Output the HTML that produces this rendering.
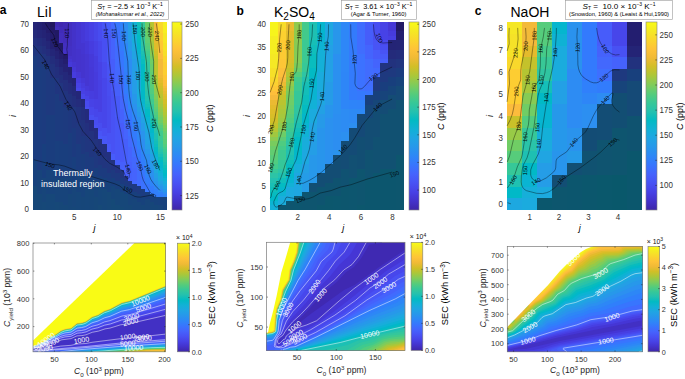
<!DOCTYPE html><html><head><meta charset="utf-8"><style>html,body{margin:0;padding:0;background:#fff;}svg{display:block;} text{font-family:"Liberation Sans",sans-serif;}</style></head><body><svg width="685" height="379" viewBox="0 0 685 379"><rect width="685" height="379" fill="#fff"/><g shape-rendering="crispEdges">
<rect x="33.0" y="22.0" width="4.7" height="8.3" fill="#242476"/>
<rect x="33.0" y="29.9" width="4.7" height="8.3" fill="#242a7a"/>
<rect x="33.0" y="37.9" width="4.7" height="8.3" fill="#23307e"/>
<rect x="33.0" y="45.8" width="4.7" height="11.0" fill="#20367f"/>
<rect x="33.0" y="56.4" width="4.7" height="103.7" fill="#1b3c7f"/>
<rect x="33.0" y="159.7" width="4.7" height="26.9" fill="#17417d"/>
<rect x="33.0" y="186.2" width="4.7" height="24.2" fill="#164779"/>
<rect x="37.3" y="22.0" width="4.7" height="8.3" fill="#232173"/>
<rect x="37.3" y="29.9" width="4.7" height="8.3" fill="#242678"/>
<rect x="37.3" y="37.9" width="4.7" height="8.3" fill="#232d7c"/>
<rect x="37.3" y="45.8" width="4.7" height="8.3" fill="#22337e"/>
<rect x="37.3" y="53.8" width="4.7" height="13.6" fill="#1e397f"/>
<rect x="37.3" y="67.0" width="4.7" height="103.7" fill="#1b3c7f"/>
<rect x="37.3" y="170.3" width="4.7" height="24.2" fill="#17437b"/>
<rect x="37.3" y="194.1" width="4.7" height="16.3" fill="#164778"/>
<rect x="41.6" y="22.0" width="4.7" height="8.3" fill="#231d6e"/>
<rect x="41.6" y="29.9" width="4.7" height="8.3" fill="#242375"/>
<rect x="41.6" y="37.9" width="4.7" height="8.3" fill="#24297a"/>
<rect x="41.6" y="45.8" width="4.7" height="8.3" fill="#232f7d"/>
<rect x="41.6" y="53.8" width="4.7" height="11.0" fill="#21357f"/>
<rect x="41.6" y="64.4" width="4.7" height="79.8" fill="#1c3b7f"/>
<rect x="41.6" y="143.8" width="4.7" height="34.8" fill="#183f7e"/>
<rect x="41.6" y="178.2" width="4.7" height="24.2" fill="#17457a"/>
<rect x="41.6" y="202.1" width="4.7" height="8.3" fill="#164878"/>
<rect x="46.0" y="22.0" width="4.7" height="5.7" fill="#221a67"/>
<rect x="46.0" y="27.3" width="4.7" height="5.7" fill="#231c6c"/>
<rect x="46.0" y="32.6" width="4.7" height="8.3" fill="#232072"/>
<rect x="46.0" y="40.5" width="4.7" height="8.3" fill="#242677"/>
<rect x="46.0" y="48.5" width="4.7" height="8.3" fill="#242c7c"/>
<rect x="46.0" y="56.4" width="4.7" height="11.0" fill="#22337e"/>
<rect x="46.0" y="67.0" width="4.7" height="48.1" fill="#1e397f"/>
<rect x="46.0" y="114.7" width="4.7" height="56.0" fill="#1a3d7e"/>
<rect x="46.0" y="170.3" width="4.7" height="24.2" fill="#17437c"/>
<rect x="46.0" y="194.1" width="4.7" height="16.3" fill="#164779"/>
<rect x="50.3" y="22.0" width="4.7" height="5.7" fill="#21175f"/>
<rect x="50.3" y="27.3" width="4.7" height="5.7" fill="#221965"/>
<rect x="50.3" y="32.6" width="4.7" height="8.3" fill="#231c6c"/>
<rect x="50.3" y="40.5" width="4.7" height="8.3" fill="#232072"/>
<rect x="50.3" y="48.5" width="4.7" height="8.3" fill="#242678"/>
<rect x="50.3" y="56.4" width="4.7" height="8.3" fill="#232d7c"/>
<rect x="50.3" y="64.4" width="4.7" height="13.6" fill="#22327e"/>
<rect x="50.3" y="77.6" width="4.7" height="37.5" fill="#1e397f"/>
<rect x="50.3" y="114.7" width="4.7" height="56.0" fill="#1a3d7e"/>
<rect x="50.3" y="170.3" width="4.7" height="24.2" fill="#17437c"/>
<rect x="50.3" y="194.1" width="4.7" height="16.3" fill="#164779"/>
<rect x="54.6" y="22.0" width="4.7" height="3.0" fill="#3f29b1"/>
<rect x="54.6" y="24.6" width="4.7" height="3.0" fill="#402bb6"/>
<rect x="54.6" y="27.3" width="4.7" height="3.0" fill="#412dbc"/>
<rect x="54.6" y="29.9" width="4.7" height="8.3" fill="#211963"/>
<rect x="54.6" y="37.9" width="4.7" height="8.3" fill="#221a68"/>
<rect x="54.6" y="45.8" width="4.7" height="5.7" fill="#231d6e"/>
<rect x="54.6" y="51.1" width="4.7" height="8.3" fill="#242274"/>
<rect x="54.6" y="59.1" width="4.7" height="8.3" fill="#24297a"/>
<rect x="54.6" y="67.0" width="4.7" height="11.0" fill="#232f7d"/>
<rect x="54.6" y="77.6" width="4.7" height="16.3" fill="#20357f"/>
<rect x="54.6" y="93.5" width="4.7" height="48.1" fill="#1c3b7f"/>
<rect x="54.6" y="141.2" width="4.7" height="37.5" fill="#193f7e"/>
<rect x="54.6" y="178.2" width="4.7" height="24.2" fill="#17447b"/>
<rect x="54.6" y="202.1" width="4.7" height="8.3" fill="#164878"/>
<rect x="58.9" y="22.0" width="4.7" height="5.7" fill="#3f28af"/>
<rect x="58.9" y="27.3" width="4.7" height="5.7" fill="#402bb8"/>
<rect x="58.9" y="32.6" width="4.7" height="11.0" fill="#422ebe"/>
<rect x="58.9" y="43.2" width="4.7" height="5.7" fill="#211964"/>
<rect x="58.9" y="48.5" width="4.7" height="5.7" fill="#221b69"/>
<rect x="58.9" y="53.8" width="4.7" height="5.7" fill="#231e6f"/>
<rect x="58.9" y="59.1" width="4.7" height="8.3" fill="#242375"/>
<rect x="58.9" y="67.0" width="4.7" height="8.3" fill="#24297a"/>
<rect x="58.9" y="75.0" width="4.7" height="8.3" fill="#232f7d"/>
<rect x="58.9" y="82.9" width="4.7" height="18.9" fill="#21357f"/>
<rect x="58.9" y="101.4" width="4.7" height="40.1" fill="#1c3b7f"/>
<rect x="58.9" y="141.2" width="4.7" height="37.5" fill="#193e7e"/>
<rect x="58.9" y="178.2" width="4.7" height="24.2" fill="#17447b"/>
<rect x="58.9" y="202.1" width="4.7" height="8.3" fill="#164778"/>
<rect x="63.3" y="22.0" width="4.7" height="8.3" fill="#402ab5"/>
<rect x="63.3" y="29.9" width="4.7" height="13.6" fill="#412cba"/>
<rect x="63.3" y="43.2" width="4.7" height="5.7" fill="#422fc0"/>
<rect x="63.3" y="48.5" width="4.7" height="5.7" fill="#4331c6"/>
<rect x="63.3" y="53.8" width="4.7" height="5.7" fill="#221a68"/>
<rect x="63.3" y="59.1" width="4.7" height="5.7" fill="#231e6e"/>
<rect x="63.3" y="64.4" width="4.7" height="8.3" fill="#242274"/>
<rect x="63.3" y="72.3" width="4.7" height="8.3" fill="#24287a"/>
<rect x="63.3" y="80.3" width="4.7" height="11.0" fill="#232f7d"/>
<rect x="63.3" y="90.8" width="4.7" height="16.3" fill="#21347f"/>
<rect x="63.3" y="106.7" width="4.7" height="37.5" fill="#1d3a7f"/>
<rect x="63.3" y="143.8" width="4.7" height="34.8" fill="#193e7e"/>
<rect x="63.3" y="178.2" width="4.7" height="26.9" fill="#17447b"/>
<rect x="63.3" y="204.7" width="4.7" height="5.7" fill="#164778"/>
<rect x="67.6" y="22.0" width="4.7" height="24.2" fill="#422fc0"/>
<rect x="67.6" y="45.8" width="4.7" height="11.0" fill="#4230c4"/>
<rect x="67.6" y="56.4" width="4.7" height="3.0" fill="#4432cb"/>
<rect x="67.6" y="59.1" width="4.7" height="3.0" fill="#4435d1"/>
<rect x="67.6" y="61.7" width="4.7" height="5.7" fill="#4539d8"/>
<rect x="67.6" y="67.0" width="4.7" height="8.3" fill="#232072"/>
<rect x="67.6" y="75.0" width="4.7" height="8.3" fill="#242677"/>
<rect x="67.6" y="82.9" width="4.7" height="11.0" fill="#242c7c"/>
<rect x="67.6" y="93.5" width="4.7" height="13.6" fill="#22327e"/>
<rect x="67.6" y="106.7" width="4.7" height="26.9" fill="#1e387f"/>
<rect x="67.6" y="133.2" width="4.7" height="37.5" fill="#1a3d7e"/>
<rect x="67.6" y="170.3" width="4.7" height="24.2" fill="#17427c"/>
<rect x="67.6" y="194.1" width="4.7" height="16.3" fill="#164679"/>
<rect x="71.9" y="22.0" width="4.7" height="40.1" fill="#4332c9"/>
<rect x="71.9" y="61.7" width="4.7" height="5.7" fill="#4435d1"/>
<rect x="71.9" y="67.0" width="4.7" height="5.7" fill="#4538d7"/>
<rect x="71.9" y="72.3" width="4.7" height="5.7" fill="#463cdf"/>
<rect x="71.9" y="77.6" width="4.7" height="8.3" fill="#242375"/>
<rect x="71.9" y="85.5" width="4.7" height="11.0" fill="#24297a"/>
<rect x="71.9" y="96.1" width="4.7" height="11.0" fill="#232f7d"/>
<rect x="71.9" y="106.7" width="4.7" height="21.6" fill="#20367f"/>
<rect x="71.9" y="127.9" width="4.7" height="29.5" fill="#1c3a7f"/>
<rect x="71.9" y="157.0" width="4.7" height="24.2" fill="#183f7e"/>
<rect x="71.9" y="180.9" width="4.7" height="26.9" fill="#17457a"/>
<rect x="71.9" y="207.4" width="4.7" height="3.0" fill="#164778"/>
<rect x="76.2" y="22.0" width="4.7" height="26.9" fill="#4435d0"/>
<rect x="76.2" y="48.5" width="4.7" height="24.2" fill="#4433cc"/>
<rect x="76.2" y="72.3" width="4.7" height="5.7" fill="#4537d6"/>
<rect x="76.2" y="77.6" width="4.7" height="5.7" fill="#463cdf"/>
<rect x="76.2" y="82.9" width="4.7" height="5.7" fill="#4742e6"/>
<rect x="76.2" y="88.2" width="4.7" height="3.0" fill="#4747eb"/>
<rect x="76.2" y="90.8" width="4.7" height="8.3" fill="#242778"/>
<rect x="76.2" y="98.8" width="4.7" height="8.3" fill="#242c7c"/>
<rect x="76.2" y="106.7" width="4.7" height="16.3" fill="#22327e"/>
<rect x="76.2" y="122.6" width="4.7" height="21.6" fill="#20377f"/>
<rect x="76.2" y="143.8" width="4.7" height="26.9" fill="#1b3c7f"/>
<rect x="76.2" y="170.3" width="4.7" height="21.6" fill="#17427c"/>
<rect x="76.2" y="191.5" width="4.7" height="18.9" fill="#16467a"/>
<rect x="80.5" y="22.0" width="4.7" height="21.6" fill="#4538d7"/>
<rect x="80.5" y="43.2" width="4.7" height="11.0" fill="#4435d1"/>
<rect x="80.5" y="53.8" width="4.7" height="24.2" fill="#4434ce"/>
<rect x="80.5" y="77.6" width="4.7" height="5.7" fill="#4538d7"/>
<rect x="80.5" y="82.9" width="4.7" height="5.7" fill="#463cde"/>
<rect x="80.5" y="88.2" width="4.7" height="5.7" fill="#4740e4"/>
<rect x="80.5" y="93.5" width="4.7" height="5.7" fill="#4747eb"/>
<rect x="80.5" y="98.8" width="4.7" height="8.3" fill="#242879"/>
<rect x="80.5" y="106.7" width="4.7" height="13.6" fill="#232e7d"/>
<rect x="80.5" y="120.0" width="4.7" height="16.3" fill="#22337e"/>
<rect x="80.5" y="135.9" width="4.7" height="18.9" fill="#1e387f"/>
<rect x="80.5" y="154.4" width="4.7" height="21.6" fill="#1a3d7e"/>
<rect x="80.5" y="175.6" width="4.7" height="21.6" fill="#17437c"/>
<rect x="80.5" y="196.8" width="4.7" height="13.6" fill="#164679"/>
<rect x="84.9" y="22.0" width="4.7" height="18.9" fill="#463cde"/>
<rect x="84.9" y="40.5" width="4.7" height="13.6" fill="#4538d8"/>
<rect x="84.9" y="53.8" width="4.7" height="32.2" fill="#4536d2"/>
<rect x="84.9" y="85.5" width="4.7" height="5.7" fill="#463adb"/>
<rect x="84.9" y="90.8" width="4.7" height="5.7" fill="#473ee1"/>
<rect x="84.9" y="96.1" width="4.7" height="5.7" fill="#4744e8"/>
<rect x="84.9" y="101.4" width="4.7" height="5.7" fill="#484aed"/>
<rect x="84.9" y="106.7" width="4.7" height="3.0" fill="#484ef1"/>
<rect x="84.9" y="109.4" width="4.7" height="13.6" fill="#242b7b"/>
<rect x="84.9" y="122.6" width="4.7" height="13.6" fill="#23307e"/>
<rect x="84.9" y="135.9" width="4.7" height="16.3" fill="#20367f"/>
<rect x="84.9" y="151.7" width="4.7" height="18.9" fill="#1c3b7f"/>
<rect x="84.9" y="170.3" width="4.7" height="18.9" fill="#18417d"/>
<rect x="84.9" y="188.8" width="4.7" height="21.6" fill="#16467a"/>
<rect x="89.2" y="22.0" width="4.7" height="18.9" fill="#4740e4"/>
<rect x="89.2" y="40.5" width="4.7" height="13.6" fill="#463cdf"/>
<rect x="89.2" y="53.8" width="4.7" height="13.6" fill="#4539d9"/>
<rect x="89.2" y="67.0" width="4.7" height="24.2" fill="#4538d7"/>
<rect x="89.2" y="90.8" width="4.7" height="8.3" fill="#463ddf"/>
<rect x="89.2" y="98.8" width="4.7" height="8.3" fill="#4742e6"/>
<rect x="89.2" y="106.7" width="4.7" height="8.3" fill="#4848ec"/>
<rect x="89.2" y="114.7" width="4.7" height="5.7" fill="#484ff2"/>
<rect x="89.2" y="120.0" width="4.7" height="11.0" fill="#242b7b"/>
<rect x="89.2" y="130.6" width="4.7" height="11.0" fill="#23317e"/>
<rect x="89.2" y="141.2" width="4.7" height="16.3" fill="#20367f"/>
<rect x="89.2" y="157.0" width="4.7" height="16.3" fill="#1c3b7f"/>
<rect x="89.2" y="172.9" width="4.7" height="16.3" fill="#18417d"/>
<rect x="89.2" y="188.8" width="4.7" height="21.6" fill="#164679"/>
<rect x="93.5" y="22.0" width="4.7" height="18.9" fill="#4746ea"/>
<rect x="93.5" y="40.5" width="4.7" height="16.3" fill="#4741e5"/>
<rect x="93.5" y="56.4" width="4.7" height="16.3" fill="#463ddf"/>
<rect x="93.5" y="72.3" width="4.7" height="26.9" fill="#463bdd"/>
<rect x="93.5" y="98.8" width="4.7" height="11.0" fill="#4740e4"/>
<rect x="93.5" y="109.4" width="4.7" height="8.3" fill="#4746ea"/>
<rect x="93.5" y="117.3" width="4.7" height="8.3" fill="#484df0"/>
<rect x="93.5" y="125.3" width="4.7" height="3.0" fill="#4851f4"/>
<rect x="93.5" y="127.9" width="4.7" height="11.0" fill="#232c7c"/>
<rect x="93.5" y="138.5" width="4.7" height="13.6" fill="#22337e"/>
<rect x="93.5" y="151.7" width="4.7" height="16.3" fill="#1f387f"/>
<rect x="93.5" y="167.6" width="4.7" height="13.6" fill="#193e7e"/>
<rect x="93.5" y="180.9" width="4.7" height="16.3" fill="#17447b"/>
<rect x="93.5" y="196.8" width="4.7" height="13.6" fill="#164778"/>
<rect x="97.8" y="22.0" width="4.7" height="18.9" fill="#484cf0"/>
<rect x="97.8" y="40.5" width="4.7" height="21.6" fill="#4747eb"/>
<rect x="97.8" y="61.7" width="4.7" height="18.9" fill="#4742e6"/>
<rect x="97.8" y="80.3" width="4.7" height="32.2" fill="#4740e3"/>
<rect x="97.8" y="112.0" width="4.7" height="11.0" fill="#4747eb"/>
<rect x="97.8" y="122.6" width="4.7" height="8.3" fill="#484df0"/>
<rect x="97.8" y="130.6" width="4.7" height="5.7" fill="#4854f5"/>
<rect x="97.8" y="135.9" width="4.7" height="3.0" fill="#4758f8"/>
<rect x="97.8" y="138.5" width="4.7" height="13.6" fill="#23307e"/>
<rect x="97.8" y="151.7" width="4.7" height="13.6" fill="#21357f"/>
<rect x="97.8" y="165.0" width="4.7" height="11.0" fill="#1c3b7f"/>
<rect x="97.8" y="175.6" width="4.7" height="11.0" fill="#18407d"/>
<rect x="97.8" y="186.2" width="4.7" height="18.9" fill="#16467a"/>
<rect x="97.8" y="204.7" width="4.7" height="5.7" fill="#164977"/>
<rect x="102.2" y="22.0" width="4.7" height="16.3" fill="#4854f5"/>
<rect x="102.2" y="37.9" width="4.7" height="24.2" fill="#484ff2"/>
<rect x="102.2" y="61.7" width="4.7" height="16.3" fill="#484aee"/>
<rect x="102.2" y="77.6" width="4.7" height="50.7" fill="#4746ea"/>
<rect x="102.2" y="127.9" width="4.7" height="8.3" fill="#484ff2"/>
<rect x="102.2" y="135.9" width="4.7" height="8.3" fill="#4756f7"/>
<rect x="102.2" y="143.8" width="4.7" height="13.6" fill="#23307e"/>
<rect x="102.2" y="157.0" width="4.7" height="11.0" fill="#21357f"/>
<rect x="102.2" y="167.6" width="4.7" height="11.0" fill="#1c3b7f"/>
<rect x="102.2" y="178.2" width="4.7" height="11.0" fill="#17417d"/>
<rect x="102.2" y="188.8" width="4.7" height="21.6" fill="#164779"/>
<rect x="106.5" y="22.0" width="4.7" height="13.6" fill="#465dfa"/>
<rect x="106.5" y="35.2" width="4.7" height="29.5" fill="#4758f8"/>
<rect x="106.5" y="64.4" width="4.7" height="16.3" fill="#4853f4"/>
<rect x="106.5" y="80.3" width="4.7" height="16.3" fill="#484df0"/>
<rect x="106.5" y="96.1" width="4.7" height="37.5" fill="#484bee"/>
<rect x="106.5" y="133.2" width="4.7" height="11.0" fill="#4852f4"/>
<rect x="106.5" y="143.8" width="4.7" height="8.3" fill="#4758f8"/>
<rect x="106.5" y="151.7" width="4.7" height="11.0" fill="#23307e"/>
<rect x="106.5" y="162.3" width="4.7" height="11.0" fill="#20367f"/>
<rect x="106.5" y="172.9" width="4.7" height="8.3" fill="#1b3c7f"/>
<rect x="106.5" y="180.9" width="4.7" height="11.0" fill="#17427c"/>
<rect x="106.5" y="191.5" width="4.7" height="18.9" fill="#164878"/>
<rect x="110.8" y="22.0" width="4.7" height="11.0" fill="#4269fe"/>
<rect x="110.8" y="32.6" width="4.7" height="26.9" fill="#4563fc"/>
<rect x="110.8" y="59.1" width="4.7" height="18.9" fill="#465efb"/>
<rect x="110.8" y="77.6" width="4.7" height="13.6" fill="#4757f7"/>
<rect x="110.8" y="90.8" width="4.7" height="63.9" fill="#4852f4"/>
<rect x="110.8" y="154.4" width="4.7" height="5.7" fill="#475cfa"/>
<rect x="110.8" y="159.7" width="4.7" height="11.0" fill="#22327e"/>
<rect x="110.8" y="170.3" width="4.7" height="8.3" fill="#1e397f"/>
<rect x="110.8" y="178.2" width="4.7" height="8.3" fill="#183f7e"/>
<rect x="110.8" y="186.2" width="4.7" height="13.6" fill="#16457a"/>
<rect x="110.8" y="199.4" width="4.7" height="11.0" fill="#154977"/>
<rect x="115.1" y="22.0" width="4.7" height="8.3" fill="#3876fe"/>
<rect x="115.1" y="29.9" width="4.7" height="16.3" fill="#3d70ff"/>
<rect x="115.1" y="45.8" width="4.7" height="24.2" fill="#416bfe"/>
<rect x="115.1" y="69.7" width="4.7" height="13.6" fill="#4466fd"/>
<rect x="115.1" y="82.9" width="4.7" height="13.6" fill="#4660fb"/>
<rect x="115.1" y="96.1" width="4.7" height="21.6" fill="#475af9"/>
<rect x="115.1" y="117.3" width="4.7" height="42.8" fill="#4756f7"/>
<rect x="115.1" y="159.7" width="4.7" height="5.7" fill="#465efb"/>
<rect x="115.1" y="165.0" width="4.7" height="8.3" fill="#22337f"/>
<rect x="115.1" y="172.9" width="4.7" height="8.3" fill="#1e397f"/>
<rect x="115.1" y="180.9" width="4.7" height="8.3" fill="#18407d"/>
<rect x="115.1" y="188.8" width="4.7" height="16.3" fill="#164679"/>
<rect x="115.1" y="204.7" width="4.7" height="5.7" fill="#154977"/>
<rect x="119.5" y="22.0" width="4.7" height="13.6" fill="#2f81fa"/>
<rect x="119.5" y="35.2" width="4.7" height="16.3" fill="#327cfc"/>
<rect x="119.5" y="51.1" width="4.7" height="16.3" fill="#3677fe"/>
<rect x="119.5" y="67.0" width="4.7" height="16.3" fill="#3c72ff"/>
<rect x="119.5" y="82.9" width="4.7" height="13.6" fill="#406cfe"/>
<rect x="119.5" y="96.1" width="4.7" height="13.6" fill="#4367fd"/>
<rect x="119.5" y="109.4" width="4.7" height="13.6" fill="#4562fc"/>
<rect x="119.5" y="122.6" width="4.7" height="16.3" fill="#475cfa"/>
<rect x="119.5" y="138.5" width="4.7" height="24.2" fill="#4759f8"/>
<rect x="119.5" y="162.3" width="4.7" height="5.7" fill="#465ffb"/>
<rect x="119.5" y="167.6" width="4.7" height="3.0" fill="#4563fd"/>
<rect x="119.5" y="170.3" width="4.7" height="8.3" fill="#21357f"/>
<rect x="119.5" y="178.2" width="4.7" height="5.7" fill="#1c3a7f"/>
<rect x="119.5" y="183.5" width="4.7" height="8.3" fill="#18417d"/>
<rect x="119.5" y="191.5" width="4.7" height="16.3" fill="#164779"/>
<rect x="119.5" y="207.4" width="4.7" height="3.0" fill="#154977"/>
<rect x="123.8" y="22.0" width="4.7" height="21.6" fill="#2c8ef1"/>
<rect x="123.8" y="43.2" width="4.7" height="13.6" fill="#2d88f6"/>
<rect x="123.8" y="56.4" width="4.7" height="16.3" fill="#2f82f9"/>
<rect x="123.8" y="72.3" width="4.7" height="21.6" fill="#317dfc"/>
<rect x="123.8" y="93.5" width="4.7" height="11.0" fill="#3777fe"/>
<rect x="123.8" y="104.1" width="4.7" height="11.0" fill="#3d71ff"/>
<rect x="123.8" y="114.7" width="4.7" height="11.0" fill="#416bfe"/>
<rect x="123.8" y="125.3" width="4.7" height="13.6" fill="#4564fd"/>
<rect x="123.8" y="138.5" width="4.7" height="37.5" fill="#465ffb"/>
<rect x="123.8" y="175.6" width="4.7" height="5.7" fill="#21357f"/>
<rect x="123.8" y="180.9" width="4.7" height="5.7" fill="#1c3a7f"/>
<rect x="123.8" y="186.2" width="4.7" height="8.3" fill="#18417d"/>
<rect x="123.8" y="194.1" width="4.7" height="16.3" fill="#164779"/>
<rect x="128.1" y="22.0" width="4.7" height="18.9" fill="#249ee6"/>
<rect x="128.1" y="40.5" width="4.7" height="11.0" fill="#2699e9"/>
<rect x="128.1" y="51.1" width="4.7" height="8.3" fill="#2a93ed"/>
<rect x="128.1" y="59.1" width="4.7" height="32.2" fill="#2c8ef2"/>
<rect x="128.1" y="90.8" width="4.7" height="11.0" fill="#2d88f6"/>
<rect x="128.1" y="101.4" width="4.7" height="8.3" fill="#2f83f9"/>
<rect x="128.1" y="109.4" width="4.7" height="8.3" fill="#327cfc"/>
<rect x="128.1" y="117.3" width="4.7" height="8.3" fill="#3876fe"/>
<rect x="128.1" y="125.3" width="4.7" height="11.0" fill="#3e6fff"/>
<rect x="128.1" y="135.9" width="4.7" height="11.0" fill="#426afe"/>
<rect x="128.1" y="146.5" width="4.7" height="16.3" fill="#4564fd"/>
<rect x="128.1" y="162.3" width="4.7" height="18.9" fill="#4561fc"/>
<rect x="128.1" y="180.9" width="4.7" height="5.7" fill="#20377f"/>
<rect x="128.1" y="186.2" width="4.7" height="8.3" fill="#193e7e"/>
<rect x="128.1" y="194.1" width="4.7" height="11.0" fill="#17447b"/>
<rect x="128.1" y="204.7" width="4.7" height="5.7" fill="#164778"/>
<rect x="132.4" y="22.0" width="4.7" height="8.3" fill="#12b1d6"/>
<rect x="132.4" y="29.9" width="4.7" height="13.6" fill="#17aedb"/>
<rect x="132.4" y="43.2" width="4.7" height="8.3" fill="#1da9e0"/>
<rect x="132.4" y="51.1" width="4.7" height="8.3" fill="#21a3e3"/>
<rect x="132.4" y="59.1" width="4.7" height="34.8" fill="#259de7"/>
<rect x="132.4" y="93.5" width="4.7" height="11.0" fill="#2797ea"/>
<rect x="132.4" y="104.1" width="4.7" height="5.7" fill="#2b91ef"/>
<rect x="132.4" y="109.4" width="4.7" height="5.7" fill="#2d8cf3"/>
<rect x="132.4" y="114.7" width="4.7" height="5.7" fill="#2e86f7"/>
<rect x="132.4" y="120.0" width="4.7" height="8.3" fill="#3080fa"/>
<rect x="132.4" y="127.9" width="4.7" height="11.0" fill="#337bfc"/>
<rect x="132.4" y="138.5" width="4.7" height="8.3" fill="#3975fe"/>
<rect x="132.4" y="146.5" width="4.7" height="11.0" fill="#3f6efe"/>
<rect x="132.4" y="157.0" width="4.7" height="11.0" fill="#4368fd"/>
<rect x="132.4" y="167.6" width="4.7" height="13.6" fill="#4564fd"/>
<rect x="132.4" y="180.9" width="4.7" height="3.0" fill="#4269fe"/>
<rect x="132.4" y="183.5" width="4.7" height="8.3" fill="#1e397f"/>
<rect x="132.4" y="191.5" width="4.7" height="8.3" fill="#18407d"/>
<rect x="132.4" y="199.4" width="4.7" height="11.0" fill="#17457a"/>
<rect x="136.7" y="22.0" width="4.7" height="5.7" fill="#11beba"/>
<rect x="136.7" y="27.3" width="4.7" height="8.3" fill="#09bcbe"/>
<rect x="136.7" y="35.2" width="4.7" height="8.3" fill="#03bbc3"/>
<rect x="136.7" y="43.2" width="4.7" height="5.7" fill="#01b8c9"/>
<rect x="136.7" y="48.5" width="4.7" height="5.7" fill="#06b5ce"/>
<rect x="136.7" y="53.8" width="4.7" height="5.7" fill="#0eb2d4"/>
<rect x="136.7" y="59.1" width="4.7" height="8.3" fill="#15afd9"/>
<rect x="136.7" y="67.0" width="4.7" height="32.2" fill="#1aacdd"/>
<rect x="136.7" y="98.8" width="4.7" height="8.3" fill="#20a5e2"/>
<rect x="136.7" y="106.7" width="4.7" height="5.7" fill="#249ee6"/>
<rect x="136.7" y="112.0" width="4.7" height="5.7" fill="#2798ea"/>
<rect x="136.7" y="117.3" width="4.7" height="5.7" fill="#2b91ef"/>
<rect x="136.7" y="122.6" width="4.7" height="8.3" fill="#2d8cf3"/>
<rect x="136.7" y="130.6" width="4.7" height="11.0" fill="#2e86f7"/>
<rect x="136.7" y="141.2" width="4.7" height="8.3" fill="#3080fb"/>
<rect x="136.7" y="149.1" width="4.7" height="8.3" fill="#347afd"/>
<rect x="136.7" y="157.0" width="4.7" height="5.7" fill="#3974fe"/>
<rect x="136.7" y="162.3" width="4.7" height="8.3" fill="#3f6efe"/>
<rect x="136.7" y="170.3" width="4.7" height="16.3" fill="#416cfe"/>
<rect x="136.7" y="186.2" width="4.7" height="8.3" fill="#1d3a7f"/>
<rect x="136.7" y="194.1" width="4.7" height="8.3" fill="#18407d"/>
<rect x="136.7" y="202.1" width="4.7" height="8.3" fill="#17457a"/>
<rect x="141.1" y="22.0" width="4.7" height="11.0" fill="#35c79a"/>
<rect x="141.1" y="32.6" width="4.7" height="8.3" fill="#31c6a0"/>
<rect x="141.1" y="40.5" width="4.7" height="5.7" fill="#2dc4a6"/>
<rect x="141.1" y="45.8" width="4.7" height="5.7" fill="#26c2ac"/>
<rect x="141.1" y="51.1" width="4.7" height="3.0" fill="#1ec0b2"/>
<rect x="141.1" y="53.8" width="4.7" height="3.0" fill="#19bfb5"/>
<rect x="141.1" y="56.4" width="4.7" height="3.0" fill="#12beb9"/>
<rect x="141.1" y="59.1" width="4.7" height="5.7" fill="#0abdbd"/>
<rect x="141.1" y="64.4" width="4.7" height="26.9" fill="#02bac4"/>
<rect x="141.1" y="90.8" width="4.7" height="8.3" fill="#01b8c8"/>
<rect x="141.1" y="98.8" width="4.7" height="5.7" fill="#06b5cf"/>
<rect x="141.1" y="104.1" width="4.7" height="3.0" fill="#0db3d4"/>
<rect x="141.1" y="106.7" width="4.7" height="5.7" fill="#15afd9"/>
<rect x="141.1" y="112.0" width="4.7" height="5.7" fill="#1da9e0"/>
<rect x="141.1" y="117.3" width="4.7" height="5.7" fill="#22a2e4"/>
<rect x="141.1" y="122.6" width="4.7" height="8.3" fill="#259be8"/>
<rect x="141.1" y="130.6" width="4.7" height="8.3" fill="#2994ed"/>
<rect x="141.1" y="138.5" width="4.7" height="11.0" fill="#2c8ef1"/>
<rect x="141.1" y="149.1" width="4.7" height="5.7" fill="#2d88f6"/>
<rect x="141.1" y="154.4" width="4.7" height="5.7" fill="#2e83f9"/>
<rect x="141.1" y="159.7" width="4.7" height="5.7" fill="#317dfb"/>
<rect x="141.1" y="165.0" width="4.7" height="11.0" fill="#3677fe"/>
<rect x="141.1" y="175.6" width="4.7" height="13.6" fill="#3b72ff"/>
<rect x="141.1" y="188.8" width="4.7" height="8.3" fill="#1c3b7f"/>
<rect x="141.1" y="196.8" width="4.7" height="8.3" fill="#17427c"/>
<rect x="141.1" y="204.7" width="4.7" height="5.7" fill="#164679"/>
<rect x="145.4" y="22.0" width="4.7" height="11.0" fill="#6bcd69"/>
<rect x="145.4" y="32.6" width="4.7" height="5.7" fill="#66cd6e"/>
<rect x="145.4" y="37.9" width="4.7" height="5.7" fill="#5ecd74"/>
<rect x="145.4" y="43.2" width="4.7" height="3.0" fill="#56cc7a"/>
<rect x="145.4" y="45.8" width="4.7" height="3.0" fill="#50cc7f"/>
<rect x="145.4" y="48.5" width="4.7" height="3.0" fill="#4acb85"/>
<rect x="145.4" y="51.1" width="4.7" height="3.0" fill="#43ca8a"/>
<rect x="145.4" y="53.8" width="4.7" height="3.0" fill="#3eca90"/>
<rect x="145.4" y="56.4" width="4.7" height="5.7" fill="#38c897"/>
<rect x="145.4" y="61.7" width="4.7" height="8.3" fill="#32c69f"/>
<rect x="145.4" y="69.7" width="4.7" height="21.6" fill="#2ec4a4"/>
<rect x="145.4" y="90.8" width="4.7" height="5.7" fill="#29c3a9"/>
<rect x="145.4" y="96.1" width="4.7" height="5.7" fill="#23c1af"/>
<rect x="145.4" y="101.4" width="4.7" height="3.0" fill="#1bc0b4"/>
<rect x="145.4" y="104.1" width="4.7" height="3.0" fill="#14beb8"/>
<rect x="145.4" y="106.7" width="4.7" height="3.0" fill="#0bbdbd"/>
<rect x="145.4" y="109.4" width="4.7" height="5.7" fill="#03bac4"/>
<rect x="145.4" y="114.7" width="4.7" height="3.0" fill="#02b7cb"/>
<rect x="145.4" y="117.3" width="4.7" height="3.0" fill="#08b5d0"/>
<rect x="145.4" y="120.0" width="4.7" height="3.0" fill="#0fb2d5"/>
<rect x="145.4" y="122.6" width="4.7" height="5.7" fill="#17aeda"/>
<rect x="145.4" y="127.9" width="4.7" height="5.7" fill="#1da8e0"/>
<rect x="145.4" y="133.2" width="4.7" height="11.0" fill="#22a2e4"/>
<rect x="145.4" y="143.8" width="4.7" height="5.7" fill="#259de7"/>
<rect x="145.4" y="149.1" width="4.7" height="5.7" fill="#2797eb"/>
<rect x="145.4" y="154.4" width="4.7" height="5.7" fill="#2c8ff0"/>
<rect x="145.4" y="159.7" width="4.7" height="11.0" fill="#2d88f6"/>
<rect x="145.4" y="170.3" width="4.7" height="8.3" fill="#2f82f9"/>
<rect x="145.4" y="178.2" width="4.7" height="5.7" fill="#327dfc"/>
<rect x="145.4" y="183.5" width="4.7" height="8.3" fill="#3776fe"/>
<rect x="145.4" y="191.5" width="4.7" height="8.3" fill="#193e7e"/>
<rect x="145.4" y="199.4" width="4.7" height="11.0" fill="#17457a"/>
<rect x="149.7" y="22.0" width="4.7" height="13.6" fill="#b6c533"/>
<rect x="149.7" y="35.2" width="4.7" height="5.7" fill="#adc638"/>
<rect x="149.7" y="40.5" width="4.7" height="3.0" fill="#a6c73c"/>
<rect x="149.7" y="43.2" width="4.7" height="3.0" fill="#a1c840"/>
<rect x="149.7" y="45.8" width="4.7" height="3.0" fill="#9ac945"/>
<rect x="149.7" y="48.5" width="4.7" height="3.0" fill="#92ca4b"/>
<rect x="149.7" y="51.1" width="4.7" height="3.0" fill="#8acb52"/>
<rect x="149.7" y="53.8" width="4.7" height="3.0" fill="#81cc59"/>
<rect x="149.7" y="56.4" width="4.7" height="3.0" fill="#78cc5f"/>
<rect x="149.7" y="59.1" width="4.7" height="5.7" fill="#6ecd66"/>
<rect x="149.7" y="64.4" width="4.7" height="8.3" fill="#67cd6c"/>
<rect x="149.7" y="72.3" width="4.7" height="11.0" fill="#60cd72"/>
<rect x="149.7" y="82.9" width="4.7" height="5.7" fill="#59cc78"/>
<rect x="149.7" y="88.2" width="4.7" height="5.7" fill="#51cc7f"/>
<rect x="149.7" y="93.5" width="4.7" height="5.7" fill="#47cb87"/>
<rect x="149.7" y="98.8" width="4.7" height="5.7" fill="#3eca90"/>
<rect x="149.7" y="104.1" width="4.7" height="5.7" fill="#35c79a"/>
<rect x="149.7" y="109.4" width="4.7" height="3.0" fill="#30c5a1"/>
<rect x="149.7" y="112.0" width="4.7" height="3.0" fill="#2cc4a6"/>
<rect x="149.7" y="114.7" width="4.7" height="3.0" fill="#27c2ac"/>
<rect x="149.7" y="117.3" width="4.7" height="3.0" fill="#20c1b1"/>
<rect x="149.7" y="120.0" width="4.7" height="3.0" fill="#17bfb6"/>
<rect x="149.7" y="122.6" width="4.7" height="3.0" fill="#0cbdbc"/>
<rect x="149.7" y="125.3" width="4.7" height="3.0" fill="#04bbc1"/>
<rect x="149.7" y="127.9" width="4.7" height="5.7" fill="#02b8c9"/>
<rect x="149.7" y="133.2" width="4.7" height="5.7" fill="#08b5d0"/>
<rect x="149.7" y="138.5" width="4.7" height="5.7" fill="#0fb2d5"/>
<rect x="149.7" y="143.8" width="4.7" height="5.7" fill="#16afda"/>
<rect x="149.7" y="149.1" width="4.7" height="5.7" fill="#1da8e0"/>
<rect x="149.7" y="154.4" width="4.7" height="5.7" fill="#23a0e5"/>
<rect x="149.7" y="159.7" width="4.7" height="11.0" fill="#2798ea"/>
<rect x="149.7" y="170.3" width="4.7" height="5.7" fill="#2a92ee"/>
<rect x="149.7" y="175.6" width="4.7" height="5.7" fill="#2d8df2"/>
<rect x="149.7" y="180.9" width="4.7" height="5.7" fill="#2e85f8"/>
<rect x="149.7" y="186.2" width="4.7" height="8.3" fill="#327cfc"/>
<rect x="149.7" y="194.1" width="4.7" height="8.3" fill="#18417d"/>
<rect x="149.7" y="202.1" width="4.7" height="8.3" fill="#164679"/>
<rect x="154.0" y="22.0" width="4.7" height="11.0" fill="#f4ba3a"/>
<rect x="154.0" y="32.6" width="4.7" height="5.7" fill="#edba34"/>
<rect x="154.0" y="37.9" width="4.7" height="5.7" fill="#e7bb2e"/>
<rect x="154.0" y="43.2" width="4.7" height="5.7" fill="#e0bc2a"/>
<rect x="154.0" y="48.5" width="4.7" height="3.0" fill="#d8be28"/>
<rect x="154.0" y="51.1" width="4.7" height="3.0" fill="#d2bf27"/>
<rect x="154.0" y="53.8" width="4.7" height="3.0" fill="#cbc129"/>
<rect x="154.0" y="56.4" width="4.7" height="3.0" fill="#c3c22b"/>
<rect x="154.0" y="59.1" width="4.7" height="16.3" fill="#bbc430"/>
<rect x="154.0" y="75.0" width="4.7" height="3.0" fill="#b7c532"/>
<rect x="154.0" y="77.6" width="4.7" height="3.0" fill="#b0c636"/>
<rect x="154.0" y="80.3" width="4.7" height="3.0" fill="#a9c73a"/>
<rect x="154.0" y="82.9" width="4.7" height="3.0" fill="#a1c840"/>
<rect x="154.0" y="85.5" width="4.7" height="3.0" fill="#9ac945"/>
<rect x="154.0" y="88.2" width="4.7" height="3.0" fill="#92ca4b"/>
<rect x="154.0" y="90.8" width="4.7" height="3.0" fill="#8bcb51"/>
<rect x="154.0" y="93.5" width="4.7" height="3.0" fill="#84cb56"/>
<rect x="154.0" y="96.1" width="4.7" height="3.0" fill="#7dcc5b"/>
<rect x="154.0" y="98.8" width="4.7" height="3.0" fill="#76cc60"/>
<rect x="154.0" y="101.4" width="4.7" height="3.0" fill="#6fcd66"/>
<rect x="154.0" y="104.1" width="4.7" height="3.0" fill="#68cd6c"/>
<rect x="154.0" y="106.7" width="4.7" height="3.0" fill="#60cd72"/>
<rect x="154.0" y="109.4" width="4.7" height="3.0" fill="#59cc79"/>
<rect x="154.0" y="112.0" width="4.7" height="3.0" fill="#51cc7f"/>
<rect x="154.0" y="114.7" width="4.7" height="3.0" fill="#49cb85"/>
<rect x="154.0" y="117.3" width="4.7" height="3.0" fill="#42ca8b"/>
<rect x="154.0" y="120.0" width="4.7" height="3.0" fill="#3bc992"/>
<rect x="154.0" y="122.6" width="4.7" height="3.0" fill="#35c79a"/>
<rect x="154.0" y="125.3" width="4.7" height="3.0" fill="#30c5a1"/>
<rect x="154.0" y="127.9" width="4.7" height="3.0" fill="#2bc3a7"/>
<rect x="154.0" y="130.6" width="4.7" height="3.0" fill="#26c2ad"/>
<rect x="154.0" y="133.2" width="4.7" height="5.7" fill="#1ec0b2"/>
<rect x="154.0" y="138.5" width="4.7" height="3.0" fill="#17bfb6"/>
<rect x="154.0" y="141.2" width="4.7" height="3.0" fill="#12beb9"/>
<rect x="154.0" y="143.8" width="4.7" height="3.0" fill="#0bbdbd"/>
<rect x="154.0" y="146.5" width="4.7" height="5.7" fill="#03bac4"/>
<rect x="154.0" y="151.7" width="4.7" height="3.0" fill="#02b7cb"/>
<rect x="154.0" y="154.4" width="4.7" height="3.0" fill="#09b4d1"/>
<rect x="154.0" y="157.0" width="4.7" height="3.0" fill="#12b1d7"/>
<rect x="154.0" y="159.7" width="4.7" height="5.7" fill="#1aacdd"/>
<rect x="154.0" y="165.0" width="4.7" height="8.3" fill="#1fa6e2"/>
<rect x="154.0" y="172.9" width="4.7" height="5.7" fill="#239fe5"/>
<rect x="154.0" y="178.2" width="4.7" height="3.0" fill="#2699e9"/>
<rect x="154.0" y="180.9" width="4.7" height="3.0" fill="#2994ed"/>
<rect x="154.0" y="183.5" width="4.7" height="3.0" fill="#2c8ef1"/>
<rect x="154.0" y="186.2" width="4.7" height="3.0" fill="#2d88f6"/>
<rect x="154.0" y="188.8" width="4.7" height="5.7" fill="#3080fa"/>
<rect x="154.0" y="194.1" width="4.7" height="3.0" fill="#317dfc"/>
<rect x="154.0" y="196.8" width="4.7" height="8.3" fill="#17427c"/>
<rect x="154.0" y="204.7" width="4.7" height="5.7" fill="#164679"/>
<rect x="158.4" y="22.0" width="4.7" height="5.7" fill="#f8d82c"/>
<rect x="158.4" y="27.3" width="4.7" height="5.7" fill="#fbd32e"/>
<rect x="158.4" y="32.6" width="4.7" height="8.3" fill="#fdcd31"/>
<rect x="158.4" y="40.5" width="4.7" height="8.3" fill="#fec735"/>
<rect x="158.4" y="48.5" width="4.7" height="5.7" fill="#fec239"/>
<rect x="158.4" y="53.8" width="4.7" height="5.7" fill="#fcbc3d"/>
<rect x="158.4" y="59.1" width="4.7" height="16.3" fill="#f4ba39"/>
<rect x="158.4" y="75.0" width="4.7" height="3.0" fill="#f0ba36"/>
<rect x="158.4" y="77.6" width="4.7" height="3.0" fill="#e9bb30"/>
<rect x="158.4" y="80.3" width="4.7" height="3.0" fill="#e2bc2b"/>
<rect x="158.4" y="82.9" width="4.7" height="3.0" fill="#dabd28"/>
<rect x="158.4" y="85.5" width="4.7" height="3.0" fill="#d2bf27"/>
<rect x="158.4" y="88.2" width="4.7" height="3.0" fill="#cac129"/>
<rect x="158.4" y="90.8" width="4.7" height="3.0" fill="#c3c22b"/>
<rect x="158.4" y="93.5" width="4.7" height="3.0" fill="#bbc42f"/>
<rect x="158.4" y="96.1" width="4.7" height="3.0" fill="#b5c533"/>
<rect x="158.4" y="98.8" width="4.7" height="3.0" fill="#afc637"/>
<rect x="158.4" y="101.4" width="4.7" height="3.0" fill="#a8c73b"/>
<rect x="158.4" y="104.1" width="4.7" height="3.0" fill="#a1c840"/>
<rect x="158.4" y="106.7" width="4.7" height="3.0" fill="#98c947"/>
<rect x="158.4" y="109.4" width="4.7" height="3.0" fill="#90ca4d"/>
<rect x="158.4" y="112.0" width="4.7" height="3.0" fill="#88cb53"/>
<rect x="158.4" y="114.7" width="4.7" height="3.0" fill="#7fcc5a"/>
<rect x="158.4" y="117.3" width="4.7" height="3.0" fill="#76cc61"/>
<rect x="158.4" y="120.0" width="4.7" height="3.0" fill="#6bcd69"/>
<rect x="158.4" y="122.6" width="4.7" height="3.0" fill="#5fcd73"/>
<rect x="158.4" y="125.3" width="4.7" height="3.0" fill="#53cc7d"/>
<rect x="158.4" y="127.9" width="4.7" height="3.0" fill="#49cb85"/>
<rect x="158.4" y="130.6" width="4.7" height="5.7" fill="#40ca8e"/>
<rect x="158.4" y="135.9" width="4.7" height="5.7" fill="#39c995"/>
<rect x="158.4" y="141.2" width="4.7" height="5.7" fill="#34c79c"/>
<rect x="158.4" y="146.5" width="4.7" height="3.0" fill="#2ec5a4"/>
<rect x="158.4" y="149.1" width="4.7" height="3.0" fill="#29c3aa"/>
<rect x="158.4" y="151.7" width="4.7" height="3.0" fill="#22c1b0"/>
<rect x="158.4" y="154.4" width="4.7" height="3.0" fill="#18bfb6"/>
<rect x="158.4" y="157.0" width="4.7" height="3.0" fill="#0bbdbc"/>
<rect x="158.4" y="159.7" width="4.7" height="3.0" fill="#02bbc3"/>
<rect x="158.4" y="162.3" width="4.7" height="5.7" fill="#03b7cb"/>
<rect x="158.4" y="167.6" width="4.7" height="3.0" fill="#09b4d1"/>
<rect x="158.4" y="170.3" width="4.7" height="3.0" fill="#0fb2d5"/>
<rect x="158.4" y="172.9" width="4.7" height="3.0" fill="#15afd9"/>
<rect x="158.4" y="175.6" width="4.7" height="5.7" fill="#1ca9df"/>
<rect x="158.4" y="180.9" width="4.7" height="3.0" fill="#23a1e4"/>
<rect x="158.4" y="183.5" width="4.7" height="3.0" fill="#259be8"/>
<rect x="158.4" y="186.2" width="4.7" height="3.0" fill="#2994ed"/>
<rect x="158.4" y="188.8" width="4.7" height="3.0" fill="#2d8cf3"/>
<rect x="158.4" y="191.5" width="4.7" height="3.0" fill="#2e83f9"/>
<rect x="158.4" y="194.1" width="4.7" height="3.0" fill="#317efb"/>
<rect x="158.4" y="196.8" width="4.7" height="8.3" fill="#18417d"/>
<rect x="158.4" y="204.7" width="4.7" height="5.7" fill="#17457a"/>
<rect x="162.7" y="22.0" width="4.7" height="11.0" fill="#f6ef20"/>
<rect x="162.7" y="32.6" width="4.7" height="11.0" fill="#f5e825"/>
<rect x="162.7" y="43.2" width="4.7" height="8.3" fill="#f5e327"/>
<rect x="162.7" y="51.1" width="4.7" height="5.7" fill="#f6de29"/>
<rect x="162.7" y="56.4" width="4.7" height="5.7" fill="#fad52d"/>
<rect x="162.7" y="61.7" width="4.7" height="13.6" fill="#fcce31"/>
<rect x="162.7" y="75.0" width="4.7" height="5.7" fill="#fec735"/>
<rect x="162.7" y="80.3" width="4.7" height="5.7" fill="#fdbe3b"/>
<rect x="162.7" y="85.5" width="4.7" height="3.0" fill="#f7ba3c"/>
<rect x="162.7" y="88.2" width="4.7" height="3.0" fill="#f0ba36"/>
<rect x="162.7" y="90.8" width="4.7" height="3.0" fill="#e9bb30"/>
<rect x="162.7" y="93.5" width="4.7" height="3.0" fill="#e2bc2b"/>
<rect x="162.7" y="96.1" width="4.7" height="3.0" fill="#ddbd29"/>
<rect x="162.7" y="98.8" width="4.7" height="5.7" fill="#d5be28"/>
<rect x="162.7" y="104.1" width="4.7" height="3.0" fill="#ccc028"/>
<rect x="162.7" y="106.7" width="4.7" height="3.0" fill="#c4c22a"/>
<rect x="162.7" y="109.4" width="4.7" height="3.0" fill="#bdc32f"/>
<rect x="162.7" y="112.0" width="4.7" height="3.0" fill="#b5c533"/>
<rect x="162.7" y="114.7" width="4.7" height="3.0" fill="#acc738"/>
<rect x="162.7" y="117.3" width="4.7" height="3.0" fill="#a3c83f"/>
<rect x="162.7" y="120.0" width="4.7" height="3.0" fill="#98c947"/>
<rect x="162.7" y="122.6" width="4.7" height="3.0" fill="#8ccb50"/>
<rect x="162.7" y="125.3" width="4.7" height="3.0" fill="#80cc59"/>
<rect x="162.7" y="127.9" width="4.7" height="3.0" fill="#74cc62"/>
<rect x="162.7" y="130.6" width="4.7" height="3.0" fill="#6acd6a"/>
<rect x="162.7" y="133.2" width="4.7" height="5.7" fill="#61cd72"/>
<rect x="162.7" y="138.5" width="4.7" height="5.7" fill="#5acc77"/>
<rect x="162.7" y="143.8" width="4.7" height="3.0" fill="#50cc80"/>
<rect x="162.7" y="146.5" width="4.7" height="3.0" fill="#46cb88"/>
<rect x="162.7" y="149.1" width="4.7" height="3.0" fill="#3dca90"/>
<rect x="162.7" y="151.7" width="4.7" height="3.0" fill="#37c898"/>
<rect x="162.7" y="154.4" width="4.7" height="3.0" fill="#32c69f"/>
<rect x="162.7" y="157.0" width="4.7" height="3.0" fill="#2dc4a6"/>
<rect x="162.7" y="159.7" width="4.7" height="3.0" fill="#26c2ad"/>
<rect x="162.7" y="162.3" width="4.7" height="3.0" fill="#1dc0b3"/>
<rect x="162.7" y="165.0" width="4.7" height="3.0" fill="#13beb8"/>
<rect x="162.7" y="167.6" width="4.7" height="3.0" fill="#0abdbd"/>
<rect x="162.7" y="170.3" width="4.7" height="3.0" fill="#03bbc2"/>
<rect x="162.7" y="172.9" width="4.7" height="3.0" fill="#01b8c8"/>
<rect x="162.7" y="175.6" width="4.7" height="3.0" fill="#07b5cf"/>
<rect x="162.7" y="178.2" width="4.7" height="3.0" fill="#12b1d6"/>
<rect x="162.7" y="180.9" width="4.7" height="3.0" fill="#19acdc"/>
<rect x="162.7" y="183.5" width="4.7" height="3.0" fill="#1ea7e1"/>
<rect x="162.7" y="186.2" width="4.7" height="3.0" fill="#23a0e5"/>
<rect x="162.7" y="188.8" width="4.7" height="3.0" fill="#2698ea"/>
<rect x="162.7" y="191.5" width="4.7" height="3.0" fill="#2c8ef1"/>
<rect x="162.7" y="194.1" width="4.7" height="3.0" fill="#2e85f8"/>
<rect x="162.7" y="196.8" width="4.7" height="13.6" fill="#17427c"/>
</g>
<path d="M45.3,23.3L47.8,27.3L53.8,35.1L55.1,41.3L56.8,45.1L61.8,51.9L63.8,54.3L64.8,54.8L66.8,54.3L67.4,53.3L66.8,49.3L67.4,45.3L67.4,40.3L68.0,35.3L68.5,23.3M33.3,45.3L44.8,59.8L51.5,74.3L60.1,86.3L65.9,99.3L74.8,111.8L79.1,124.3L82.9,131.3L91.2,140.3L96.5,148.3L105.0,159.3L109.8,163.4L117.4,167.3L122.8,170.9L124.0,172.3L125.8,177.1L126.8,178.3L127.8,178.6L128.8,178.0L129.2,177.3L129.4,174.3L126.2,161.3L120.8,131.9L117.6,118.3L113.7,89.3L110.6,72.3L109.2,60.3L107.8,39.3L105.2,23.3M33.8,159.7L49.8,163.9L58.8,164.9L64.8,166.2L90.9,176.3L114.8,183.8L119.8,186.0L128.8,193.3L134.8,196.4L137.8,197.0L140.8,197.1L149.8,195.4L151.8,195.6L154.8,196.8L155.8,196.6L155.7,195.3L154.0,194.3L151.8,193.8L149.8,191.8L143.3,180.3L142.1,176.3L139.9,165.3L137.0,157.3L131.6,136.3L130.0,126.3L125.6,110.3L123.2,98.3L122.0,87.3L120.8,71.2L116.7,33.3L116.0,28.3L114.8,23.3M159.8,190.3L155.9,186.3L152.7,182.3L150.8,179.3L149.2,175.3L148.0,170.3L146.5,160.3L142.1,149.3L141.0,144.3L139.9,135.3L136.4,121.3L132.6,110.3L130.7,103.3L129.5,96.3L128.8,89.3L127.8,61.3L124.6,42.3L123.3,23.3M159.8,170.4L154.3,156.3L151.8,148.3L148.9,132.3L142.4,108.3L140.6,100.3L139.3,88.3L139.3,73.3L138.8,67.3L135.0,42.3L133.1,23.3M159.8,135.9L158.3,130.3L153.8,118.3L150.6,104.3L148.8,94.4L147.5,83.3L146.4,61.3L142.8,38.3L142.0,23.3M159.8,97.8L155.1,81.3L153.6,74.3L153.7,61.3L150.5,40.3L149.7,31.3L149.6,23.3M159.8,52.9L158.2,36.3L156.3,23.3" fill="none" stroke="#000" stroke-width="0.45" stroke-opacity="0.85"/>
<g font-size="5.9" fill="#000" fill-opacity="0.9"><text x="66.9" y="35.3" text-anchor="middle" transform="rotate(90 66.9 33.2)">120</text><text x="55.0" y="44.5" text-anchor="middle" transform="rotate(65 55.0 42.4)">120</text><text x="45.8" y="67.0" text-anchor="middle" transform="rotate(60 45.8 64.9)">140</text><text x="68.3" y="107.9" text-anchor="middle" transform="rotate(60 68.3 105.8)">140</text><text x="106.5" y="35.3" text-anchor="middle" transform="rotate(90 106.5 33.2)">140</text><text x="114.4" y="35.3" text-anchor="middle" transform="rotate(90 114.4 33.2)">150</text><text x="123.7" y="37.9" text-anchor="middle" transform="rotate(90 123.7 35.8)">160</text><text x="135.5" y="31.3" text-anchor="middle" transform="rotate(90 135.5 29.2)">180</text><text x="143.0" y="34.0" text-anchor="middle" transform="rotate(90 143.0 31.9)">200</text><text x="150.0" y="34.0" text-anchor="middle" transform="rotate(90 150.0 31.9)">220</text><text x="156.6" y="37.9" text-anchor="middle" transform="rotate(90 156.6 35.8)">240</text><text x="111.8" y="80.1" text-anchor="middle" transform="rotate(90 111.8 78.0)">140</text><text x="121.0" y="81.5" text-anchor="middle" transform="rotate(90 121.0 79.4)">150</text><text x="129.0" y="81.5" text-anchor="middle" transform="rotate(90 129.0 79.4)">160</text><text x="138.2" y="77.5" text-anchor="middle" transform="rotate(90 138.2 75.4)">180</text><text x="147.4" y="78.8" text-anchor="middle" transform="rotate(90 147.4 76.7)">200</text><text x="154.0" y="81.5" text-anchor="middle" transform="rotate(90 154.0 79.4)">220</text><text x="128.2" y="126.1" text-anchor="middle" transform="rotate(90 128.2 124.0)">150</text><text x="136.1" y="128.4" text-anchor="middle" transform="rotate(90 136.1 126.3)">160</text><text x="154.3" y="125.3" text-anchor="middle" transform="rotate(90 154.3 123.2)">200</text><text x="128.2" y="171.1" text-anchor="middle" transform="rotate(75 128.2 169.0)">140</text><text x="140.0" y="168.1" text-anchor="middle" transform="rotate(70 140.0 166.0)">150</text><text x="148.0" y="171.1" text-anchor="middle" transform="rotate(65 148.0 169.0)">160</text><text x="155.9" y="166.4" text-anchor="middle" transform="rotate(60 155.9 164.3)">180</text><text x="97.3" y="153.6" text-anchor="middle" transform="rotate(45 97.3 151.5)">140</text><text x="50.0" y="167.1" text-anchor="middle" transform="rotate(20 50.0 165.0)">150</text><text x="127.6" y="191.6" text-anchor="middle" transform="rotate(20 127.6 189.5)">150</text></g>
<text x="72.8" y="175.8" font-size="9" fill="#fff" text-anchor="middle">Thermally</text>
<text x="72.8" y="186.6" font-size="9" fill="#fff" text-anchor="middle">insulated region</text>
<g shape-rendering="crispEdges">
<rect x="270.0" y="22.0" width="8.3" height="14.2" fill="#f7f41c"/>
<rect x="270.0" y="35.8" width="8.3" height="18.7" fill="#f5ed21"/>
<rect x="270.0" y="54.1" width="8.3" height="14.2" fill="#f5e825"/>
<rect x="270.0" y="67.9" width="8.3" height="9.6" fill="#f6e028"/>
<rect x="270.0" y="77.0" width="8.3" height="5.0" fill="#f9d72c"/>
<rect x="270.0" y="81.6" width="8.3" height="5.0" fill="#fcd030"/>
<rect x="270.0" y="86.2" width="8.3" height="5.0" fill="#fec835"/>
<rect x="270.0" y="90.8" width="8.3" height="5.0" fill="#febf3b"/>
<rect x="270.0" y="95.4" width="8.3" height="5.0" fill="#f6ba3b"/>
<rect x="270.0" y="100.0" width="8.3" height="5.0" fill="#ebba32"/>
<rect x="270.0" y="104.5" width="8.3" height="5.0" fill="#e4bb2c"/>
<rect x="270.0" y="109.1" width="8.3" height="5.0" fill="#debd29"/>
<rect x="270.0" y="113.7" width="8.3" height="5.0" fill="#d8be28"/>
<rect x="270.0" y="118.3" width="8.3" height="5.0" fill="#d0bf27"/>
<rect x="270.0" y="122.9" width="8.3" height="5.0" fill="#c5c22a"/>
<rect x="270.0" y="127.5" width="8.3" height="5.0" fill="#b5c533"/>
<rect x="270.0" y="132.0" width="8.3" height="5.0" fill="#a1c840"/>
<rect x="270.0" y="136.6" width="8.3" height="5.0" fill="#8bcb51"/>
<rect x="270.0" y="141.2" width="8.3" height="5.0" fill="#79cc5e"/>
<rect x="270.0" y="145.8" width="8.3" height="5.0" fill="#6ccd69"/>
<rect x="270.0" y="150.4" width="8.3" height="5.0" fill="#61cd71"/>
<rect x="270.0" y="155.0" width="8.3" height="5.0" fill="#59cc79"/>
<rect x="270.0" y="159.6" width="8.3" height="5.0" fill="#50cc80"/>
<rect x="270.0" y="164.1" width="8.3" height="5.0" fill="#44cb8a"/>
<rect x="270.0" y="168.7" width="8.3" height="5.0" fill="#36c898"/>
<rect x="270.0" y="173.3" width="8.3" height="5.0" fill="#2dc4a6"/>
<rect x="270.0" y="177.9" width="8.3" height="5.0" fill="#23c1af"/>
<rect x="270.0" y="182.5" width="8.3" height="5.0" fill="#19bfb5"/>
<rect x="270.0" y="187.1" width="8.3" height="5.0" fill="#0fbeba"/>
<rect x="270.0" y="191.7" width="8.3" height="5.0" fill="#07bcbf"/>
<rect x="270.0" y="196.2" width="8.3" height="5.0" fill="#01b9c7"/>
<rect x="270.0" y="200.8" width="8.3" height="5.0" fill="#0ab4d2"/>
<rect x="270.0" y="205.4" width="8.3" height="5.0" fill="#13b0d7"/>
<rect x="277.9" y="22.0" width="8.3" height="5.0" fill="#f7dc2a"/>
<rect x="277.9" y="26.6" width="8.3" height="5.0" fill="#f9d72d"/>
<rect x="277.9" y="31.2" width="8.3" height="9.6" fill="#fcd030"/>
<rect x="277.9" y="40.3" width="8.3" height="18.7" fill="#fdca33"/>
<rect x="277.9" y="58.7" width="8.3" height="9.6" fill="#fec636"/>
<rect x="277.9" y="67.9" width="8.3" height="9.6" fill="#fdbf3b"/>
<rect x="277.9" y="77.0" width="8.3" height="5.0" fill="#f6ba3c"/>
<rect x="277.9" y="81.6" width="8.3" height="5.0" fill="#ecba33"/>
<rect x="277.9" y="86.2" width="8.3" height="5.0" fill="#e0bc2a"/>
<rect x="277.9" y="90.8" width="8.3" height="5.0" fill="#d2bf27"/>
<rect x="277.9" y="95.4" width="8.3" height="5.0" fill="#c5c22a"/>
<rect x="277.9" y="100.0" width="8.3" height="5.0" fill="#bac430"/>
<rect x="277.9" y="104.5" width="8.3" height="5.0" fill="#b2c635"/>
<rect x="277.9" y="109.1" width="8.3" height="5.0" fill="#abc739"/>
<rect x="277.9" y="113.7" width="8.3" height="5.0" fill="#a6c83d"/>
<rect x="277.9" y="118.3" width="8.3" height="5.0" fill="#9ec942"/>
<rect x="277.9" y="122.9" width="8.3" height="5.0" fill="#90ca4d"/>
<rect x="277.9" y="127.5" width="8.3" height="5.0" fill="#80cc59"/>
<rect x="277.9" y="132.0" width="8.3" height="5.0" fill="#6dcd68"/>
<rect x="277.9" y="136.6" width="8.3" height="5.0" fill="#5ccc76"/>
<rect x="277.9" y="141.2" width="8.3" height="5.0" fill="#4ecc81"/>
<rect x="277.9" y="145.8" width="8.3" height="5.0" fill="#44cb89"/>
<rect x="277.9" y="150.4" width="8.3" height="9.6" fill="#3cc992"/>
<rect x="277.9" y="159.6" width="8.3" height="9.6" fill="#35c79a"/>
<rect x="277.9" y="168.7" width="8.3" height="5.0" fill="#2dc4a6"/>
<rect x="277.9" y="173.3" width="8.3" height="5.0" fill="#20c1b1"/>
<rect x="277.9" y="177.9" width="8.3" height="5.0" fill="#10beba"/>
<rect x="277.9" y="182.5" width="8.3" height="5.0" fill="#04bbc2"/>
<rect x="277.9" y="187.1" width="8.3" height="5.0" fill="#03b7cc"/>
<rect x="277.9" y="191.7" width="8.3" height="5.0" fill="#0fb2d4"/>
<rect x="277.9" y="196.2" width="8.3" height="9.6" fill="#1aacdd"/>
<rect x="277.9" y="205.4" width="8.3" height="5.0" fill="#0d556f"/>
<rect x="285.8" y="22.0" width="8.3" height="9.6" fill="#e9bb30"/>
<rect x="285.8" y="31.2" width="8.3" height="9.6" fill="#e1bc2b"/>
<rect x="285.8" y="40.3" width="8.3" height="18.7" fill="#dabd28"/>
<rect x="285.8" y="58.7" width="8.3" height="5.0" fill="#d6be28"/>
<rect x="285.8" y="63.3" width="8.3" height="5.0" fill="#d0c028"/>
<rect x="285.8" y="67.9" width="8.3" height="5.0" fill="#c5c22a"/>
<rect x="285.8" y="72.4" width="8.3" height="5.0" fill="#b5c533"/>
<rect x="285.8" y="77.0" width="8.3" height="5.0" fill="#a4c83e"/>
<rect x="285.8" y="81.6" width="8.3" height="5.0" fill="#94ca4a"/>
<rect x="285.8" y="86.2" width="8.3" height="5.0" fill="#86cb54"/>
<rect x="285.8" y="90.8" width="8.3" height="5.0" fill="#7ccc5c"/>
<rect x="285.8" y="95.4" width="8.3" height="5.0" fill="#74cc62"/>
<rect x="285.8" y="100.0" width="8.3" height="5.0" fill="#6ecd67"/>
<rect x="285.8" y="104.5" width="8.3" height="5.0" fill="#68cd6c"/>
<rect x="285.8" y="109.1" width="8.3" height="5.0" fill="#61cd71"/>
<rect x="285.8" y="113.7" width="8.3" height="5.0" fill="#5acc77"/>
<rect x="285.8" y="118.3" width="8.3" height="5.0" fill="#50cc7f"/>
<rect x="285.8" y="122.9" width="8.3" height="5.0" fill="#44cb89"/>
<rect x="285.8" y="127.5" width="8.3" height="5.0" fill="#3cc992"/>
<rect x="285.8" y="132.0" width="8.3" height="5.0" fill="#36c799"/>
<rect x="285.8" y="136.6" width="8.3" height="5.0" fill="#31c6a0"/>
<rect x="285.8" y="141.2" width="8.3" height="5.0" fill="#2dc4a6"/>
<rect x="285.8" y="145.8" width="8.3" height="5.0" fill="#28c2ab"/>
<rect x="285.8" y="150.4" width="8.3" height="5.0" fill="#22c1b0"/>
<rect x="285.8" y="155.0" width="8.3" height="5.0" fill="#1ac0b4"/>
<rect x="285.8" y="159.6" width="8.3" height="5.0" fill="#10beba"/>
<rect x="285.8" y="164.1" width="8.3" height="5.0" fill="#07bcc0"/>
<rect x="285.8" y="168.7" width="8.3" height="5.0" fill="#02bac5"/>
<rect x="285.8" y="173.3" width="8.3" height="5.0" fill="#02b7cb"/>
<rect x="285.8" y="177.9" width="8.3" height="5.0" fill="#08b4d0"/>
<rect x="285.8" y="182.5" width="8.3" height="5.0" fill="#12b1d6"/>
<rect x="285.8" y="187.1" width="8.3" height="14.2" fill="#1caadf"/>
<rect x="285.8" y="200.8" width="8.3" height="9.6" fill="#0e556f"/>
<rect x="293.6" y="22.0" width="8.3" height="14.2" fill="#90ca4d"/>
<rect x="293.6" y="35.8" width="8.3" height="9.6" fill="#88cb53"/>
<rect x="293.6" y="44.9" width="8.3" height="18.7" fill="#84cc56"/>
<rect x="293.6" y="63.3" width="8.3" height="5.0" fill="#7acc5e"/>
<rect x="293.6" y="67.9" width="8.3" height="5.0" fill="#6acd6a"/>
<rect x="293.6" y="72.4" width="8.3" height="5.0" fill="#53cc7d"/>
<rect x="293.6" y="77.0" width="8.3" height="5.0" fill="#42ca8c"/>
<rect x="293.6" y="81.6" width="8.3" height="9.6" fill="#3bc993"/>
<rect x="293.6" y="90.8" width="8.3" height="14.2" fill="#35c799"/>
<rect x="293.6" y="104.5" width="8.3" height="9.6" fill="#30c5a1"/>
<rect x="293.6" y="113.7" width="8.3" height="5.0" fill="#2ac3a8"/>
<rect x="293.6" y="118.3" width="8.3" height="5.0" fill="#24c2ae"/>
<rect x="293.6" y="122.9" width="8.3" height="5.0" fill="#1cc0b4"/>
<rect x="293.6" y="127.5" width="8.3" height="5.0" fill="#13beb9"/>
<rect x="293.6" y="132.0" width="8.3" height="5.0" fill="#0bbdbd"/>
<rect x="293.6" y="136.6" width="8.3" height="9.6" fill="#03bbc3"/>
<rect x="293.6" y="145.8" width="8.3" height="9.6" fill="#02b8c9"/>
<rect x="293.6" y="155.0" width="8.3" height="5.0" fill="#06b5cf"/>
<rect x="293.6" y="159.6" width="8.3" height="5.0" fill="#0eb2d4"/>
<rect x="293.6" y="164.1" width="8.3" height="9.6" fill="#18addb"/>
<rect x="293.6" y="173.3" width="8.3" height="23.3" fill="#1ea7e1"/>
<rect x="293.6" y="196.2" width="8.3" height="14.2" fill="#0d566f"/>
<rect x="301.5" y="22.0" width="8.3" height="18.7" fill="#42ca8b"/>
<rect x="301.5" y="40.3" width="8.3" height="23.3" fill="#3bc993"/>
<rect x="301.5" y="63.3" width="8.3" height="9.6" fill="#36c898"/>
<rect x="301.5" y="72.4" width="8.3" height="5.0" fill="#2ec5a4"/>
<rect x="301.5" y="77.0" width="8.3" height="5.0" fill="#23c1af"/>
<rect x="301.5" y="81.6" width="8.3" height="5.0" fill="#19bfb5"/>
<rect x="301.5" y="86.2" width="8.3" height="9.6" fill="#13beb9"/>
<rect x="301.5" y="95.4" width="8.3" height="9.6" fill="#0cbdbc"/>
<rect x="301.5" y="104.5" width="8.3" height="9.6" fill="#04bbc2"/>
<rect x="301.5" y="113.7" width="8.3" height="9.6" fill="#03b7cb"/>
<rect x="301.5" y="122.9" width="8.3" height="5.0" fill="#08b4d1"/>
<rect x="301.5" y="127.5" width="8.3" height="9.6" fill="#10b2d5"/>
<rect x="301.5" y="136.6" width="8.3" height="14.2" fill="#18addb"/>
<rect x="301.5" y="150.4" width="8.3" height="14.2" fill="#1da8e0"/>
<rect x="301.5" y="164.1" width="8.3" height="9.6" fill="#23a0e5"/>
<rect x="301.5" y="173.3" width="8.3" height="18.7" fill="#259ce7"/>
<rect x="301.5" y="191.7" width="8.3" height="18.7" fill="#0e556f"/>
<rect x="309.4" y="22.0" width="8.3" height="18.7" fill="#1ec0b2"/>
<rect x="309.4" y="40.3" width="8.3" height="5.0" fill="#17bfb6"/>
<rect x="309.4" y="44.9" width="8.3" height="9.6" fill="#10beba"/>
<rect x="309.4" y="54.1" width="8.3" height="14.2" fill="#09bdbe"/>
<rect x="309.4" y="67.9" width="8.3" height="9.6" fill="#02bac4"/>
<rect x="309.4" y="77.0" width="8.3" height="9.6" fill="#03b7cc"/>
<rect x="309.4" y="86.2" width="8.3" height="14.2" fill="#09b4d1"/>
<rect x="309.4" y="100.0" width="8.3" height="9.6" fill="#12b1d7"/>
<rect x="309.4" y="109.1" width="8.3" height="14.2" fill="#1babde"/>
<rect x="309.4" y="122.9" width="8.3" height="18.7" fill="#21a4e3"/>
<rect x="309.4" y="141.2" width="8.3" height="14.2" fill="#249ee6"/>
<rect x="309.4" y="155.0" width="8.3" height="27.9" fill="#2798ea"/>
<rect x="309.4" y="182.5" width="8.3" height="9.6" fill="#124f73"/>
<rect x="309.4" y="191.7" width="8.3" height="18.7" fill="#0e556f"/>
<rect x="317.3" y="22.0" width="8.3" height="18.7" fill="#05b6ce"/>
<rect x="317.3" y="40.3" width="8.3" height="9.6" fill="#0db3d3"/>
<rect x="317.3" y="49.5" width="8.3" height="23.3" fill="#14b0d8"/>
<rect x="317.3" y="72.4" width="8.3" height="18.7" fill="#1aabdd"/>
<rect x="317.3" y="90.8" width="8.3" height="14.2" fill="#1ea7e1"/>
<rect x="317.3" y="104.5" width="8.3" height="9.6" fill="#22a1e4"/>
<rect x="317.3" y="113.7" width="8.3" height="14.2" fill="#269ae8"/>
<rect x="317.3" y="127.5" width="8.3" height="46.3" fill="#2895ec"/>
<rect x="317.3" y="173.3" width="8.3" height="14.2" fill="#134d74"/>
<rect x="317.3" y="187.1" width="8.3" height="18.7" fill="#0e5470"/>
<rect x="317.3" y="205.4" width="8.3" height="5.0" fill="#0c576d"/>
<rect x="325.2" y="22.0" width="8.3" height="23.3" fill="#1ea7e1"/>
<rect x="325.2" y="44.9" width="8.3" height="37.1" fill="#23a1e5"/>
<rect x="325.2" y="81.6" width="8.3" height="23.3" fill="#259ce7"/>
<rect x="325.2" y="104.5" width="8.3" height="14.2" fill="#2895ec"/>
<rect x="325.2" y="118.3" width="8.3" height="46.3" fill="#2b91ef"/>
<rect x="325.2" y="164.1" width="8.3" height="18.7" fill="#134d74"/>
<rect x="325.2" y="182.5" width="8.3" height="14.2" fill="#0f5370"/>
<rect x="325.2" y="196.2" width="8.3" height="14.2" fill="#0c576d"/>
<rect x="333.1" y="22.0" width="8.3" height="32.5" fill="#2896eb"/>
<rect x="333.1" y="54.1" width="8.3" height="60.0" fill="#2b90f0"/>
<rect x="333.1" y="113.7" width="8.3" height="37.1" fill="#2c8ef1"/>
<rect x="333.1" y="150.4" width="8.3" height="5.0" fill="#2a93ed"/>
<rect x="333.1" y="155.0" width="8.3" height="23.3" fill="#134d74"/>
<rect x="333.1" y="177.9" width="8.3" height="18.7" fill="#0f5370"/>
<rect x="333.1" y="196.2" width="8.3" height="14.2" fill="#0c576e"/>
<rect x="340.9" y="22.0" width="8.3" height="50.8" fill="#2e87f7"/>
<rect x="340.9" y="72.4" width="8.3" height="37.1" fill="#2e86f7"/>
<rect x="340.9" y="109.1" width="8.3" height="23.3" fill="#2d8cf3"/>
<rect x="340.9" y="132.0" width="8.3" height="9.6" fill="#2c90f0"/>
<rect x="340.9" y="141.2" width="8.3" height="27.9" fill="#144c75"/>
<rect x="340.9" y="168.7" width="8.3" height="18.7" fill="#105272"/>
<rect x="340.9" y="187.1" width="8.3" height="23.3" fill="#0d566e"/>
<rect x="348.8" y="22.0" width="8.3" height="78.4" fill="#337bfc"/>
<rect x="348.8" y="100.0" width="8.3" height="9.6" fill="#2e84f9"/>
<rect x="348.8" y="109.1" width="8.3" height="14.2" fill="#2d8af4"/>
<rect x="348.8" y="122.9" width="8.3" height="5.0" fill="#2c8ff1"/>
<rect x="348.8" y="127.5" width="8.3" height="27.9" fill="#144b76"/>
<rect x="348.8" y="155.0" width="8.3" height="23.3" fill="#125073"/>
<rect x="348.8" y="177.9" width="8.3" height="32.5" fill="#0d566f"/>
<rect x="356.7" y="22.0" width="8.3" height="32.5" fill="#406dfe"/>
<rect x="356.7" y="54.1" width="8.3" height="37.1" fill="#3c72ff"/>
<rect x="356.7" y="90.8" width="8.3" height="9.6" fill="#3579fd"/>
<rect x="356.7" y="100.0" width="8.3" height="9.6" fill="#2f83f9"/>
<rect x="356.7" y="109.1" width="8.3" height="5.0" fill="#2d89f5"/>
<rect x="356.7" y="113.7" width="8.3" height="23.3" fill="#154977"/>
<rect x="356.7" y="136.6" width="8.3" height="32.5" fill="#124e73"/>
<rect x="356.7" y="168.7" width="8.3" height="37.1" fill="#0e556f"/>
<rect x="356.7" y="205.4" width="8.3" height="5.0" fill="#0c576d"/>
<rect x="364.6" y="22.0" width="8.3" height="23.3" fill="#465dfa"/>
<rect x="364.6" y="44.9" width="8.3" height="14.2" fill="#4464fd"/>
<rect x="364.6" y="58.7" width="8.3" height="27.9" fill="#416cfe"/>
<rect x="364.6" y="86.2" width="8.3" height="5.0" fill="#3e6fff"/>
<rect x="364.6" y="90.8" width="8.3" height="5.0" fill="#3975fe"/>
<rect x="364.6" y="95.4" width="8.3" height="9.6" fill="#18407d"/>
<rect x="364.6" y="104.5" width="8.3" height="14.2" fill="#164779"/>
<rect x="364.6" y="118.3" width="8.3" height="32.5" fill="#134d74"/>
<rect x="364.6" y="150.4" width="8.3" height="27.9" fill="#105271"/>
<rect x="364.6" y="177.9" width="8.3" height="32.5" fill="#0c566e"/>
<rect x="372.5" y="22.0" width="8.3" height="18.7" fill="#484ef1"/>
<rect x="372.5" y="40.3" width="8.3" height="9.6" fill="#4854f5"/>
<rect x="372.5" y="49.5" width="8.3" height="9.6" fill="#475cfa"/>
<rect x="372.5" y="58.7" width="8.3" height="9.6" fill="#4464fd"/>
<rect x="372.5" y="67.9" width="8.3" height="9.6" fill="#416afe"/>
<rect x="372.5" y="77.0" width="8.3" height="14.2" fill="#1e397f"/>
<rect x="372.5" y="90.8" width="8.3" height="9.6" fill="#18407d"/>
<rect x="372.5" y="100.0" width="8.3" height="9.6" fill="#164679"/>
<rect x="372.5" y="109.1" width="8.3" height="27.9" fill="#134d74"/>
<rect x="372.5" y="136.6" width="8.3" height="37.1" fill="#115172"/>
<rect x="372.5" y="173.3" width="8.3" height="37.1" fill="#0c566e"/>
<rect x="380.4" y="22.0" width="8.3" height="18.7" fill="#4742e6"/>
<rect x="380.4" y="40.3" width="8.3" height="5.0" fill="#4848ec"/>
<rect x="380.4" y="44.9" width="8.3" height="5.0" fill="#484ef1"/>
<rect x="380.4" y="49.5" width="8.3" height="5.0" fill="#4854f5"/>
<rect x="380.4" y="54.1" width="8.3" height="5.0" fill="#475af9"/>
<rect x="380.4" y="58.7" width="8.3" height="5.0" fill="#4660fb"/>
<rect x="380.4" y="63.3" width="8.3" height="9.6" fill="#21347f"/>
<rect x="380.4" y="72.4" width="8.3" height="9.6" fill="#1e397f"/>
<rect x="380.4" y="81.6" width="8.3" height="9.6" fill="#193e7e"/>
<rect x="380.4" y="90.8" width="8.3" height="9.6" fill="#17447b"/>
<rect x="380.4" y="100.0" width="8.3" height="14.2" fill="#144c75"/>
<rect x="380.4" y="113.7" width="8.3" height="55.4" fill="#115172"/>
<rect x="380.4" y="168.7" width="8.3" height="41.7" fill="#0c566e"/>
<rect x="388.2" y="22.0" width="8.3" height="9.6" fill="#4537d6"/>
<rect x="388.2" y="31.2" width="8.3" height="5.0" fill="#463bdd"/>
<rect x="388.2" y="35.8" width="8.3" height="5.0" fill="#473fe3"/>
<rect x="388.2" y="40.3" width="8.3" height="9.6" fill="#242476"/>
<rect x="388.2" y="49.5" width="8.3" height="9.6" fill="#242b7b"/>
<rect x="388.2" y="58.7" width="8.3" height="9.6" fill="#22327e"/>
<rect x="388.2" y="67.9" width="8.3" height="9.6" fill="#1e397f"/>
<rect x="388.2" y="77.0" width="8.3" height="9.6" fill="#183f7d"/>
<rect x="388.2" y="86.2" width="8.3" height="9.6" fill="#16457a"/>
<rect x="388.2" y="95.4" width="8.3" height="14.2" fill="#144c75"/>
<rect x="388.2" y="109.1" width="8.3" height="60.0" fill="#115172"/>
<rect x="388.2" y="168.7" width="8.3" height="41.7" fill="#0c566e"/>
<rect x="396.1" y="22.0" width="8.3" height="9.6" fill="#221965"/>
<rect x="396.1" y="31.2" width="8.3" height="9.6" fill="#231d6e"/>
<rect x="396.1" y="40.3" width="8.3" height="9.6" fill="#242576"/>
<rect x="396.1" y="49.5" width="8.3" height="9.6" fill="#232d7c"/>
<rect x="396.1" y="58.7" width="8.3" height="9.6" fill="#21357f"/>
<rect x="396.1" y="67.9" width="8.3" height="9.6" fill="#1b3c7f"/>
<rect x="396.1" y="77.0" width="8.3" height="9.6" fill="#17437c"/>
<rect x="396.1" y="86.2" width="8.3" height="14.2" fill="#154a77"/>
<rect x="396.1" y="100.0" width="8.3" height="55.4" fill="#115172"/>
<rect x="396.1" y="155.0" width="8.3" height="55.4" fill="#0d566e"/>
</g>
<path d="M373.4,24.3L374.0,31.3L374.8,35.3L376.1,38.7L377.9,41.3L380.1,42.4L383.1,43.0L392.1,42.5M350.7,24.3L350.9,37.3L353.0,50.3L355.3,73.3L354.9,83.3L355.4,85.3L356.6,87.3L359.1,88.8L361.1,88.9L362.1,88.5L364.6,86.3L370.6,79.3L374.3,76.3L381.0,72.3L392.1,67.0M328.6,24.3L328.3,36.3L326.3,48.3L325.6,55.3L323.3,95.3L320.5,105.3L314.1,121.2L312.3,129.3L310.7,142.3L309.4,149.3L307.5,155.3L305.0,161.3L301.8,173.3L299.3,179.3L298.9,181.3L299.1,182.4L300.1,183.4L303.1,183.3L309.5,180.3L314.6,177.3L321.4,172.3L339.1,156.7L343.5,152.3L350.1,144.7L354.5,138.3L362.2,125.3L376.1,108.4L380.1,105.3L392.1,99.0M320.6,24.3L319.9,37.3L316.9,53.3L316.5,70.3L313.9,81.3L311.0,99.3L303.6,124.3L296.6,158.3L295.9,160.3L290.0,172.3L285.1,188.8L283.1,191.2L279.1,193.0L277.1,194.6L273.9,201.3L273.8,203.3L274.3,205.3L275.1,206.5L276.1,207.1L277.1,207.0L282.1,204.3L284.0,202.3L286.1,197.5L287.1,197.1L296.1,198.8L304.1,199.3L308.1,198.8L313.1,197.0L320.1,193.1L331.1,190.6L340.1,187.2L351.1,184.7L367.1,179.1L392.1,172.1M312.6,24.3L312.0,36.3L309.6,50.3L308.6,63.3L306.8,74.3L303.9,86.3L301.7,102.3L296.1,123.4L289.7,152.3L288.2,157.3L285.1,164.7L282.5,173.3L280.1,179.8L277.1,185.3L272.9,190.3L271.7,193.3L271.1,196.8L270.1,198.2M299.2,24.3L299.2,33.3L298.0,46.3L297.4,62.3L296.7,69.3L295.9,72.3L292.1,76.6L291.0,79.3L290.0,85.3L287.9,105.3L285.7,117.3L281.0,134.3L275.4,151.3L272.2,165.3L271.4,167.3L270.1,168.7M289.0,24.3L287.8,45.3L287.8,57.3L287.3,63.3L286.4,67.3L282.8,78.3L279.9,90.3L274.5,120.3L272.1,127.2L270.1,131.0M281.2,24.3L279.6,39.3L278.7,58.3L277.7,67.3L274.1,81.7L270.1,92.4" fill="none" stroke="#000" stroke-width="0.45" stroke-opacity="0.85"/>
<g font-size="5.9" fill="#000" fill-opacity="0.9"><text x="279.2" y="49.7" text-anchor="middle" transform="rotate(-88 279.2 47.6)">220</text><text x="287.8" y="47.1" text-anchor="middle" transform="rotate(-88 287.8 45.0)">200</text><text x="299.0" y="36.6" text-anchor="middle" transform="rotate(-88 299.0 34.5)">180</text><text x="309.4" y="53.8" text-anchor="middle" transform="rotate(-88 309.4 51.7)">160</text><text x="319.9" y="39.3" text-anchor="middle" transform="rotate(-88 319.9 37.2)">150</text><text x="326.6" y="48.5" text-anchor="middle" transform="rotate(-88 326.6 46.4)">140</text><text x="279.9" y="92.1" text-anchor="middle" transform="rotate(-80 279.9 90.0)">200</text><text x="291.8" y="78.9" text-anchor="middle" transform="rotate(-88 291.8 76.8)">180</text><text x="311.6" y="85.5" text-anchor="middle" transform="rotate(-88 311.6 83.4)">150</text><text x="322.1" y="98.7" text-anchor="middle" transform="rotate(-88 322.1 96.6)">140</text><text x="271.0" y="131.6" text-anchor="middle" transform="rotate(-75 271.0 129.5)">200</text><text x="284.2" y="128.7" text-anchor="middle" transform="rotate(-80 284.2 126.6)">180</text><text x="303.4" y="131.6" text-anchor="middle" transform="rotate(-80 303.4 129.5)">150</text><text x="291.6" y="144.9" text-anchor="middle" transform="rotate(-75 291.6 142.8)">160</text><text x="312.3" y="139.1" text-anchor="middle" transform="rotate(-80 312.3 137.0)">140</text><text x="271.0" y="170.1" text-anchor="middle" transform="rotate(-75 271.0 168.0)">180</text><text x="276.9" y="187.7" text-anchor="middle" transform="rotate(-65 276.9 185.6)">160</text><text x="288.7" y="174.5" text-anchor="middle" transform="rotate(-70 288.7 172.4)">150</text><text x="299.0" y="182.6" text-anchor="middle" transform="rotate(-80 299.0 180.5)">140</text><text x="300.3" y="201.9" text-anchor="middle" transform="rotate(-20 300.3 199.8)">150</text><text x="354.5" y="61.7" text-anchor="middle" transform="rotate(-88 354.5 59.6)">120</text><text x="379.5" y="39.9" text-anchor="middle" transform="rotate(70 379.5 37.8)">100</text><text x="373.3" y="79.1" text-anchor="middle" transform="rotate(-35 373.3 77.0)">120</text><text x="377.5" y="109.1" text-anchor="middle" transform="rotate(-45 377.5 107.0)">140</text><text x="342.8" y="151.1" text-anchor="middle" transform="rotate(-45 342.8 149.0)">140</text><text x="394.3" y="176.3" text-anchor="middle" transform="rotate(-20 394.3 174.2)">150</text></g>
<g shape-rendering="crispEdges">
<rect x="507.0" y="22.0" width="15.4" height="12.2" fill="#f5e725"/>
<rect x="507.0" y="33.8" width="15.4" height="23.9" fill="#f5e228"/>
<rect x="507.0" y="57.2" width="15.4" height="12.2" fill="#f9d82c"/>
<rect x="507.0" y="69.0" width="15.4" height="35.6" fill="#fdcd32"/>
<rect x="507.0" y="104.2" width="15.4" height="12.2" fill="#fcbc3d"/>
<rect x="507.0" y="116.0" width="15.4" height="12.2" fill="#c9c129"/>
<rect x="507.0" y="127.8" width="15.4" height="12.2" fill="#98ca47"/>
<rect x="507.0" y="139.5" width="15.4" height="12.2" fill="#70cd65"/>
<rect x="507.0" y="151.2" width="15.4" height="12.2" fill="#56cc7b"/>
<rect x="507.0" y="163.0" width="15.4" height="12.2" fill="#36c898"/>
<rect x="507.0" y="174.8" width="15.4" height="12.2" fill="#1fc1b1"/>
<rect x="507.0" y="186.5" width="15.4" height="12.2" fill="#01b9c7"/>
<rect x="507.0" y="198.2" width="15.4" height="12.2" fill="#1da8e0"/>
<rect x="522.0" y="22.0" width="15.4" height="23.9" fill="#f3ba39"/>
<rect x="522.0" y="45.5" width="15.4" height="12.2" fill="#e4bb2c"/>
<rect x="522.0" y="57.2" width="15.4" height="12.2" fill="#c4c22b"/>
<rect x="522.0" y="69.0" width="15.4" height="12.2" fill="#b4c533"/>
<rect x="522.0" y="80.8" width="15.4" height="12.2" fill="#a6c83d"/>
<rect x="522.0" y="92.5" width="15.4" height="12.2" fill="#86cb55"/>
<rect x="522.0" y="104.2" width="15.4" height="12.2" fill="#70cd65"/>
<rect x="522.0" y="116.0" width="15.4" height="12.2" fill="#52cc7e"/>
<rect x="522.0" y="127.8" width="15.4" height="12.2" fill="#36c799"/>
<rect x="522.0" y="139.5" width="15.4" height="12.2" fill="#2ac3a9"/>
<rect x="522.0" y="151.2" width="15.4" height="12.2" fill="#1ec0b2"/>
<rect x="522.0" y="163.0" width="15.4" height="12.2" fill="#01b9c6"/>
<rect x="522.0" y="174.8" width="15.4" height="12.2" fill="#0ab4d2"/>
<rect x="522.0" y="186.5" width="15.4" height="12.2" fill="#16afd9"/>
<rect x="522.0" y="198.2" width="15.4" height="12.2" fill="#1babde"/>
<rect x="537.0" y="22.0" width="15.4" height="23.9" fill="#55cc7c"/>
<rect x="537.0" y="45.5" width="15.4" height="12.2" fill="#45cb89"/>
<rect x="537.0" y="57.2" width="15.4" height="12.2" fill="#38c896"/>
<rect x="537.0" y="69.0" width="15.4" height="12.2" fill="#30c5a1"/>
<rect x="537.0" y="80.8" width="15.4" height="12.2" fill="#15bfb8"/>
<rect x="537.0" y="92.5" width="15.4" height="12.2" fill="#01b9c6"/>
<rect x="537.0" y="104.2" width="15.4" height="23.9" fill="#07b5d0"/>
<rect x="537.0" y="127.8" width="15.4" height="12.2" fill="#14b0d8"/>
<rect x="537.0" y="139.5" width="15.4" height="12.2" fill="#1babde"/>
<rect x="537.0" y="151.2" width="15.4" height="12.2" fill="#20a5e2"/>
<rect x="537.0" y="163.0" width="15.4" height="23.9" fill="#259de7"/>
<rect x="537.0" y="186.5" width="15.4" height="12.2" fill="#1caadf"/>
<rect x="537.0" y="198.2" width="15.4" height="12.2" fill="#0b576d"/>
<rect x="552.0" y="22.0" width="15.4" height="12.2" fill="#05b6ce"/>
<rect x="552.0" y="33.8" width="15.4" height="12.2" fill="#0fb2d4"/>
<rect x="552.0" y="45.5" width="15.4" height="35.6" fill="#1aacdd"/>
<rect x="552.0" y="80.8" width="15.4" height="23.9" fill="#23a0e5"/>
<rect x="552.0" y="104.2" width="15.4" height="47.4" fill="#2698ea"/>
<rect x="552.0" y="151.2" width="15.4" height="23.9" fill="#2895ec"/>
<rect x="552.0" y="174.8" width="15.4" height="12.2" fill="#134e74"/>
<rect x="552.0" y="186.5" width="15.4" height="23.9" fill="#0d566e"/>
<rect x="567.0" y="22.0" width="15.4" height="47.4" fill="#2a92ee"/>
<rect x="567.0" y="69.0" width="15.4" height="59.1" fill="#2d8cf3"/>
<rect x="567.0" y="127.8" width="15.4" height="23.9" fill="#2a93ed"/>
<rect x="567.0" y="151.2" width="15.4" height="12.2" fill="#269ae8"/>
<rect x="567.0" y="163.0" width="15.4" height="12.2" fill="#124f73"/>
<rect x="567.0" y="174.8" width="15.4" height="35.6" fill="#0c566e"/>
<rect x="582.0" y="22.0" width="15.4" height="59.1" fill="#337afd"/>
<rect x="582.0" y="80.8" width="15.4" height="12.2" fill="#3080fb"/>
<rect x="582.0" y="92.5" width="15.4" height="12.2" fill="#2e86f7"/>
<rect x="582.0" y="104.2" width="15.4" height="23.9" fill="#2c8ff1"/>
<rect x="582.0" y="127.8" width="15.4" height="23.9" fill="#134c75"/>
<rect x="582.0" y="151.2" width="15.4" height="23.9" fill="#105271"/>
<rect x="582.0" y="174.8" width="15.4" height="35.6" fill="#0b576d"/>
<rect x="597.0" y="22.0" width="15.4" height="23.9" fill="#475cfa"/>
<rect x="597.0" y="45.5" width="15.4" height="12.2" fill="#4562fc"/>
<rect x="597.0" y="57.2" width="15.4" height="12.2" fill="#4368fd"/>
<rect x="597.0" y="69.0" width="15.4" height="12.2" fill="#3e6fff"/>
<rect x="597.0" y="80.8" width="15.4" height="12.2" fill="#327cfc"/>
<rect x="597.0" y="92.5" width="15.4" height="12.2" fill="#2d8cf3"/>
<rect x="597.0" y="104.2" width="15.4" height="35.6" fill="#134d75"/>
<rect x="597.0" y="139.5" width="15.4" height="35.6" fill="#0f5470"/>
<rect x="597.0" y="174.8" width="15.4" height="35.6" fill="#0a586c"/>
<rect x="612.0" y="22.0" width="15.4" height="23.9" fill="#4746ea"/>
<rect x="612.0" y="45.5" width="15.4" height="12.2" fill="#4851f3"/>
<rect x="612.0" y="57.2" width="15.4" height="12.2" fill="#4562fc"/>
<rect x="612.0" y="69.0" width="15.4" height="12.2" fill="#1e397f"/>
<rect x="612.0" y="80.8" width="15.4" height="12.2" fill="#17447b"/>
<rect x="612.0" y="92.5" width="15.4" height="35.6" fill="#124e73"/>
<rect x="612.0" y="127.8" width="15.4" height="47.4" fill="#0e556f"/>
<rect x="612.0" y="174.8" width="15.4" height="35.6" fill="#09586b"/>
<rect x="627.0" y="22.0" width="15.4" height="23.9" fill="#231e70"/>
<rect x="627.0" y="45.5" width="15.4" height="12.2" fill="#242476"/>
<rect x="627.0" y="57.2" width="15.4" height="12.2" fill="#22327e"/>
<rect x="627.0" y="69.0" width="15.4" height="12.2" fill="#18407d"/>
<rect x="627.0" y="80.8" width="15.4" height="35.6" fill="#154a77"/>
<rect x="627.0" y="116.0" width="15.4" height="35.6" fill="#0f5370"/>
<rect x="627.0" y="151.2" width="15.4" height="59.1" fill="#0b576d"/>
</g>
<path d="M596.6,27.9L597.5,33.9L599.1,39.9L600.5,43.0L603.3,46.9L607.5,51.1L611.7,53.9L615.5,55.0L619.5,54.6M577.4,27.9L576.9,36.9L577.6,47.9L577.9,64.9L578.6,68.9L579.6,71.9L581.3,74.9L583.0,76.9L585.6,78.9L590.6,81.9L593.5,82.8L596.5,82.8L598.5,82.1L601.5,79.9L608.3,72.9L610.9,70.9L614.5,69.7L619.5,69.9M556.4,27.9L556.3,34.9L554.9,53.9L552.6,67.9L548.9,83.9L547.5,95.9L542.8,125.9L540.7,145.9L538.4,153.9L532.5,164.9L530.7,169.9L530.7,174.9L531.3,176.9L532.4,178.9L535.5,181.2L537.5,181.5L540.5,180.9L546.5,177.8L553.7,171.9L555.1,169.9L555.7,167.9L556.1,160.9L556.8,158.9L558.8,156.9L566.6,151.9L574.2,141.9L582.5,134.9L585.5,131.9L587.9,127.9L593.3,115.9L596.6,109.9L600.4,104.9L611.5,93.3L612.5,92.9L613.2,93.9L611.7,99.9L611.8,102.9L612.5,104.9L615.3,108.9L619.5,112.1M550.7,27.9L546.7,48.9L546.0,63.9L544.9,72.9L542.2,83.9L539.3,90.9L538.0,95.9L536.6,104.9L534.0,126.9L528.9,151.9L527.0,157.9L523.5,164.7L522.2,169.9L521.4,175.9L521.2,181.9L521.6,184.9L522.5,187.1L524.5,189.5L526.5,190.7L536.5,193.3L542.5,193.6L546.5,192.7L549.5,191.5L554.8,187.9L562.5,179.3L580.2,167.9L595.0,156.9L600.9,151.9L611.5,141.7L615.5,139.7L617.5,139.5L619.5,140.2M511.0,203.9L507.5,202.7M544.5,27.9L543.3,36.9L540.6,48.9L540.3,65.9L539.1,78.9L538.5,80.9L533.7,87.9L532.6,91.9L529.3,109.9L529.0,118.9L528.4,124.9L524.8,138.9L522.2,154.9L521.4,157.9L517.3,166.9L513.1,179.9L507.4,187.9M534.3,27.9L534.1,37.9L529.7,71.9L523.0,95.9L520.3,116.9L518.8,124.9L513.6,138.9L509.6,155.9L507.3,161.9M525.6,27.9L526.1,36.9L525.8,43.9L521.3,65.9L520.8,70.9L520.7,79.9L516.2,91.9L513.7,107.9L512.4,113.9L510.2,119.9L507.1,125.9M517.7,27.9L518.1,38.9L517.2,46.9L509.0,71.9L509.5,83.9L507.0,101.9M509.2,27.9L508.9,35.9L509.2,43.9L507.2,50.9" fill="none" stroke="#000" stroke-width="0.45" stroke-opacity="0.85"/>
<g font-size="5.9" fill="#000" fill-opacity="0.9"><text x="515.5" y="55.1" text-anchor="middle" transform="rotate(-88 515.5 53.0)">220</text><text x="525.6" y="48.2" text-anchor="middle" transform="rotate(-88 525.6 46.1)">200</text><text x="516.3" y="93.5" text-anchor="middle" transform="rotate(-88 516.3 91.4)">200</text><text x="534.3" y="37.9" text-anchor="middle" transform="rotate(-88 534.3 35.8)">180</text><text x="527.5" y="82.2" text-anchor="middle" transform="rotate(-88 527.5 80.1)">180</text><text x="518.5" y="128.3" text-anchor="middle" transform="rotate(-88 518.5 126.2)">180</text><text x="540.6" y="50.6" text-anchor="middle" transform="rotate(-88 540.6 48.5)">160</text><text x="533.8" y="89.7" text-anchor="middle" transform="rotate(-88 533.8 87.6)">160</text><text x="525.2" y="139.1" text-anchor="middle" transform="rotate(-88 525.2 137.0)">160</text><text x="513.1" y="182.1" text-anchor="middle" transform="rotate(-60 513.1 180.0)">160</text><text x="549.3" y="37.9" text-anchor="middle" transform="rotate(-88 549.3 35.8)">150</text><text x="541.3" y="82.2" text-anchor="middle" transform="rotate(-88 541.3 80.1)">150</text><text x="537.3" y="129.6" text-anchor="middle" transform="rotate(-88 537.3 127.5)">150</text><text x="525.2" y="172.7" text-anchor="middle" transform="rotate(-88 525.2 170.6)">150</text><text x="561.5" y="182.1" text-anchor="middle" transform="rotate(-50 561.5 180.0)">150</text><text x="612.7" y="144.4" text-anchor="middle" transform="rotate(-40 612.7 142.3)">150</text><text x="555.1" y="54.7" text-anchor="middle" transform="rotate(-88 555.1 52.6)">140</text><text x="546.3" y="99.7" text-anchor="middle" transform="rotate(-88 546.3 97.6)">140</text><text x="538.7" y="145.8" text-anchor="middle" transform="rotate(-88 538.7 143.7)">140</text><text x="536.0" y="183.5" text-anchor="middle" transform="rotate(-30 536.0 181.4)">140</text><text x="573.7" y="144.4" text-anchor="middle" transform="rotate(-50 573.7 142.3)">140</text><text x="605.2" y="102.2" text-anchor="middle" transform="rotate(-45 605.2 100.1)">140</text><text x="577.6" y="49.6" text-anchor="middle" transform="rotate(-88 577.6 47.5)">120</text><text x="604.0" y="79.7" text-anchor="middle" transform="rotate(-40 604.0 77.6)">120</text><text x="605.2" y="50.9" text-anchor="middle" transform="rotate(60 605.2 48.8)">100</text></g>
<defs><linearGradient id="ga" x1="0" y1="1" x2="0" y2="0"><stop offset="0.0000" stop-color="#3e26a8"/><stop offset="0.0476" stop-color="#4332cb"/><stop offset="0.0952" stop-color="#4741e5"/><stop offset="0.1429" stop-color="#4852f4"/><stop offset="0.1905" stop-color="#4563fd"/><stop offset="0.2381" stop-color="#3875fe"/><stop offset="0.2857" stop-color="#2e87f7"/><stop offset="0.3333" stop-color="#2797eb"/><stop offset="0.3810" stop-color="#20a5e3"/><stop offset="0.4286" stop-color="#12b1d6"/><stop offset="0.4762" stop-color="#02bac3"/><stop offset="0.5238" stop-color="#24c1ae"/><stop offset="0.5714" stop-color="#37c897"/><stop offset="0.6190" stop-color="#57cc7a"/><stop offset="0.6667" stop-color="#81cc59"/><stop offset="0.7143" stop-color="#abc739"/><stop offset="0.7619" stop-color="#d1bf27"/><stop offset="0.8095" stop-color="#f0ba36"/><stop offset="0.8571" stop-color="#fec338"/><stop offset="0.9048" stop-color="#fad62d"/><stop offset="0.9524" stop-color="#f5e924"/><stop offset="1.0000" stop-color="#f9fb15"/><stop offset="1" stop-color="#f9fb15"/></linearGradient></defs>
<rect x="172" y="22" width="10" height="188" fill="url(#ga)"/>
<rect x="172" y="22" width="10" height="188" fill="none" stroke="#7f7f7f" stroke-width="0.6"/>
<line x1="180.20" y1="195.59" x2="182.00" y2="195.59" stroke="#262626" stroke-width="0.5"/>
<text transform="translate(185.30 198.62) scale(0.95 1)" font-size="8.4" fill="#333">125</text>
<line x1="180.20" y1="161.28" x2="182.00" y2="161.28" stroke="#262626" stroke-width="0.5"/>
<text transform="translate(185.30 164.31) scale(0.95 1)" font-size="8.4" fill="#333">150</text>
<line x1="180.20" y1="126.98" x2="182.00" y2="126.98" stroke="#262626" stroke-width="0.5"/>
<text transform="translate(185.30 130.00) scale(0.95 1)" font-size="8.4" fill="#333">175</text>
<line x1="180.20" y1="92.67" x2="182.00" y2="92.67" stroke="#262626" stroke-width="0.5"/>
<text transform="translate(185.30 95.70) scale(0.95 1)" font-size="8.4" fill="#333">200</text>
<line x1="180.20" y1="58.36" x2="182.00" y2="58.36" stroke="#262626" stroke-width="0.5"/>
<text transform="translate(185.30 61.39) scale(0.95 1)" font-size="8.4" fill="#333">225</text>
<line x1="180.20" y1="24.06" x2="182.00" y2="24.06" stroke="#262626" stroke-width="0.5"/>
<text transform="translate(185.30 27.08) scale(0.95 1)" font-size="8.4" fill="#333">250</text>
<defs><linearGradient id="gb" x1="0" y1="1" x2="0" y2="0"><stop offset="0.0000" stop-color="#3e26a8"/><stop offset="0.0476" stop-color="#4332cb"/><stop offset="0.0952" stop-color="#4741e5"/><stop offset="0.1429" stop-color="#4852f4"/><stop offset="0.1905" stop-color="#4563fd"/><stop offset="0.2381" stop-color="#3875fe"/><stop offset="0.2857" stop-color="#2e87f7"/><stop offset="0.3333" stop-color="#2797eb"/><stop offset="0.3810" stop-color="#20a5e3"/><stop offset="0.4286" stop-color="#12b1d6"/><stop offset="0.4762" stop-color="#02bac3"/><stop offset="0.5238" stop-color="#24c1ae"/><stop offset="0.5714" stop-color="#37c897"/><stop offset="0.6190" stop-color="#57cc7a"/><stop offset="0.6667" stop-color="#81cc59"/><stop offset="0.7143" stop-color="#abc739"/><stop offset="0.7619" stop-color="#d1bf27"/><stop offset="0.8095" stop-color="#f0ba36"/><stop offset="0.8571" stop-color="#fec338"/><stop offset="0.9048" stop-color="#fad62d"/><stop offset="0.9524" stop-color="#f5e924"/><stop offset="1.0000" stop-color="#f9fb15"/><stop offset="1" stop-color="#f9fb15"/></linearGradient></defs>
<rect x="409" y="22" width="10" height="188" fill="url(#gb)"/>
<rect x="409" y="22" width="10" height="188" fill="none" stroke="#7f7f7f" stroke-width="0.6"/>
<line x1="417.20" y1="190.09" x2="419.00" y2="190.09" stroke="#262626" stroke-width="0.5"/>
<text transform="translate(422.30 193.12) scale(0.95 1)" font-size="8.4" fill="#333">100</text>
<line x1="417.20" y1="162.45" x2="419.00" y2="162.45" stroke="#262626" stroke-width="0.5"/>
<text transform="translate(422.30 165.47) scale(0.95 1)" font-size="8.4" fill="#333">125</text>
<line x1="417.20" y1="134.80" x2="419.00" y2="134.80" stroke="#262626" stroke-width="0.5"/>
<text transform="translate(422.30 137.82) scale(0.95 1)" font-size="8.4" fill="#333">150</text>
<line x1="417.20" y1="107.15" x2="419.00" y2="107.15" stroke="#262626" stroke-width="0.5"/>
<text transform="translate(422.30 110.18) scale(0.95 1)" font-size="8.4" fill="#333">175</text>
<line x1="417.20" y1="79.51" x2="419.00" y2="79.51" stroke="#262626" stroke-width="0.5"/>
<text transform="translate(422.30 82.53) scale(0.95 1)" font-size="8.4" fill="#333">200</text>
<line x1="417.20" y1="51.86" x2="419.00" y2="51.86" stroke="#262626" stroke-width="0.5"/>
<text transform="translate(422.30 54.88) scale(0.95 1)" font-size="8.4" fill="#333">225</text>
<line x1="417.20" y1="24.21" x2="419.00" y2="24.21" stroke="#262626" stroke-width="0.5"/>
<text transform="translate(422.30 27.24) scale(0.95 1)" font-size="8.4" fill="#333">250</text>
<defs><linearGradient id="gc" x1="0" y1="1" x2="0" y2="0"><stop offset="0.0000" stop-color="#3e26a8"/><stop offset="0.0476" stop-color="#4332cb"/><stop offset="0.0952" stop-color="#4741e5"/><stop offset="0.1429" stop-color="#4852f4"/><stop offset="0.1905" stop-color="#4563fd"/><stop offset="0.2381" stop-color="#3875fe"/><stop offset="0.2857" stop-color="#2e87f7"/><stop offset="0.3333" stop-color="#2797eb"/><stop offset="0.3810" stop-color="#20a5e3"/><stop offset="0.4286" stop-color="#12b1d6"/><stop offset="0.4762" stop-color="#02bac3"/><stop offset="0.5238" stop-color="#24c1ae"/><stop offset="0.5714" stop-color="#37c897"/><stop offset="0.6190" stop-color="#57cc7a"/><stop offset="0.6667" stop-color="#81cc59"/><stop offset="0.7143" stop-color="#abc739"/><stop offset="0.7619" stop-color="#d1bf27"/><stop offset="0.8095" stop-color="#f0ba36"/><stop offset="0.8571" stop-color="#fec338"/><stop offset="0.9048" stop-color="#fad62d"/><stop offset="0.9524" stop-color="#f5e924"/><stop offset="1.0000" stop-color="#f9fb15"/><stop offset="1" stop-color="#f9fb15"/></linearGradient></defs>
<rect x="646" y="22" width="11" height="188" fill="url(#gc)"/>
<rect x="646" y="22" width="11" height="188" fill="none" stroke="#7f7f7f" stroke-width="0.6"/>
<line x1="655.20" y1="185.41" x2="657.00" y2="185.41" stroke="#262626" stroke-width="0.5"/>
<text transform="translate(659.60 188.43) scale(0.95 1)" font-size="8.4" fill="#333">100</text>
<line x1="655.20" y1="160.32" x2="657.00" y2="160.32" stroke="#262626" stroke-width="0.5"/>
<text transform="translate(659.60 163.34) scale(0.95 1)" font-size="8.4" fill="#333">125</text>
<line x1="655.20" y1="135.22" x2="657.00" y2="135.22" stroke="#262626" stroke-width="0.5"/>
<text transform="translate(659.60 138.25) scale(0.95 1)" font-size="8.4" fill="#333">150</text>
<line x1="655.20" y1="110.13" x2="657.00" y2="110.13" stroke="#262626" stroke-width="0.5"/>
<text transform="translate(659.60 113.15) scale(0.95 1)" font-size="8.4" fill="#333">175</text>
<line x1="655.20" y1="85.03" x2="657.00" y2="85.03" stroke="#262626" stroke-width="0.5"/>
<text transform="translate(659.60 88.06) scale(0.95 1)" font-size="8.4" fill="#333">200</text>
<line x1="655.20" y1="59.94" x2="657.00" y2="59.94" stroke="#262626" stroke-width="0.5"/>
<text transform="translate(659.60 62.97) scale(0.95 1)" font-size="8.4" fill="#333">225</text>
<line x1="655.20" y1="34.85" x2="657.00" y2="34.85" stroke="#262626" stroke-width="0.5"/>
<text transform="translate(659.60 37.87) scale(0.95 1)" font-size="8.4" fill="#333">250</text>
<text transform="translate(29.00 212.32) scale(0.95 1)" font-size="8.4" text-anchor="end" fill="#333">0</text>
<text transform="translate(29.00 185.80) scale(0.95 1)" font-size="8.4" text-anchor="end" fill="#333">10</text>
<text transform="translate(29.00 159.27) scale(0.95 1)" font-size="8.4" text-anchor="end" fill="#333">20</text>
<text transform="translate(29.00 132.74) scale(0.95 1)" font-size="8.4" text-anchor="end" fill="#333">30</text>
<text transform="translate(29.00 106.21) scale(0.95 1)" font-size="8.4" text-anchor="end" fill="#333">40</text>
<text transform="translate(29.00 79.68) scale(0.95 1)" font-size="8.4" text-anchor="end" fill="#333">50</text>
<text transform="translate(29.00 53.15) scale(0.95 1)" font-size="8.4" text-anchor="end" fill="#333">60</text>
<text transform="translate(29.00 26.62) scale(0.95 1)" font-size="8.4" text-anchor="end" fill="#333">70</text>
<text transform="translate(74.10 220.00) scale(0.95 1)" font-size="8.4" text-anchor="middle" fill="#333">5</text>
<text transform="translate(117.30 220.00) scale(0.95 1)" font-size="8.4" text-anchor="middle" fill="#333">10</text>
<text transform="translate(160.50 220.00) scale(0.95 1)" font-size="8.4" text-anchor="middle" fill="#333">15</text>
<text transform="translate(266.00 212.22) scale(0.95 1)" font-size="8.4" text-anchor="end" fill="#333">0</text>
<text transform="translate(266.00 189.04) scale(0.95 1)" font-size="8.4" text-anchor="end" fill="#333">5</text>
<text transform="translate(266.00 165.85) scale(0.95 1)" font-size="8.4" text-anchor="end" fill="#333">10</text>
<text transform="translate(266.00 142.66) scale(0.95 1)" font-size="8.4" text-anchor="end" fill="#333">15</text>
<text transform="translate(266.00 119.47) scale(0.95 1)" font-size="8.4" text-anchor="end" fill="#333">20</text>
<text transform="translate(266.00 96.29) scale(0.95 1)" font-size="8.4" text-anchor="end" fill="#333">25</text>
<text transform="translate(266.00 73.10) scale(0.95 1)" font-size="8.4" text-anchor="end" fill="#333">30</text>
<text transform="translate(266.00 49.91) scale(0.95 1)" font-size="8.4" text-anchor="end" fill="#333">35</text>
<text transform="translate(266.00 26.72) scale(0.95 1)" font-size="8.4" text-anchor="end" fill="#333">40</text>
<text transform="translate(297.70 220.00) scale(0.95 1)" font-size="8.4" text-anchor="middle" fill="#333">2</text>
<text transform="translate(329.30 220.00) scale(0.95 1)" font-size="8.4" text-anchor="middle" fill="#333">4</text>
<text transform="translate(360.90 220.00) scale(0.95 1)" font-size="8.4" text-anchor="middle" fill="#333">6</text>
<text transform="translate(392.50 220.00) scale(0.95 1)" font-size="8.4" text-anchor="middle" fill="#333">8</text>
<text transform="translate(503.00 206.62) scale(0.95 1)" font-size="8.4" text-anchor="end" fill="#333">0</text>
<text transform="translate(503.00 184.67) scale(0.95 1)" font-size="8.4" text-anchor="end" fill="#333">1</text>
<text transform="translate(503.00 162.72) scale(0.95 1)" font-size="8.4" text-anchor="end" fill="#333">2</text>
<text transform="translate(503.00 140.77) scale(0.95 1)" font-size="8.4" text-anchor="end" fill="#333">3</text>
<text transform="translate(503.00 118.82) scale(0.95 1)" font-size="8.4" text-anchor="end" fill="#333">4</text>
<text transform="translate(503.00 96.87) scale(0.95 1)" font-size="8.4" text-anchor="end" fill="#333">5</text>
<text transform="translate(503.00 74.92) scale(0.95 1)" font-size="8.4" text-anchor="end" fill="#333">6</text>
<text transform="translate(503.00 52.97) scale(0.95 1)" font-size="8.4" text-anchor="end" fill="#333">7</text>
<text transform="translate(503.00 31.02) scale(0.95 1)" font-size="8.4" text-anchor="end" fill="#333">8</text>
<text transform="translate(529.60 220.00) scale(0.95 1)" font-size="8.4" text-anchor="middle" fill="#333">1</text>
<text transform="translate(559.07 220.00) scale(0.95 1)" font-size="8.4" text-anchor="middle" fill="#333">2</text>
<text transform="translate(588.53 220.00) scale(0.95 1)" font-size="8.4" text-anchor="middle" fill="#333">3</text>
<text transform="translate(618.00 220.00) scale(0.95 1)" font-size="8.4" text-anchor="middle" fill="#333">4</text>
<text x="94.50" y="231.00" font-size="9" text-anchor="middle" font-style="italic">j</text>
<text x="343.20" y="231.00" font-size="9" text-anchor="middle" font-style="italic">j</text>
<text x="579.80" y="231.00" font-size="9" text-anchor="middle" font-style="italic">j</text>
<text x="16.00" y="116.00" font-size="9" text-anchor="middle" font-style="italic" transform="rotate(-90 16.00 116.00)">i</text>
<text x="250.00" y="116.00" font-size="9" text-anchor="middle" font-style="italic" transform="rotate(-90 250.00 116.00)">i</text>
<text x="493.00" y="116.00" font-size="9" text-anchor="middle" font-style="italic" transform="rotate(-90 493.00 116.00)">i</text>
<text x="213.3" y="118.2" font-size="9" fill="#000" text-anchor="middle" transform="rotate(-90 213.3 118.2)"><tspan font-style="italic">C</tspan> (ppt)</text>
<text x="444.3" y="116.3" font-size="9" fill="#000" text-anchor="middle" transform="rotate(-90 444.3 116.3)"><tspan font-style="italic">C</tspan> (ppt)</text>
<text x="683.4" y="116.3" font-size="9" fill="#000" text-anchor="middle" transform="rotate(-90 683.4 116.3)"><tspan font-style="italic">C</tspan> (ppt)</text>
<text x="-0.30" y="14.30" font-size="12" font-weight="bold" fill="#000">a</text>
<text x="236.50" y="15.00" font-size="12" font-weight="bold" fill="#000">b</text>
<text x="474.80" y="14.60" font-size="12" font-weight="bold" fill="#000">c</text>
<text x="37.00" y="16.80" font-size="14" fill="#000">LiI</text>
<text x="274" y="16.6" font-size="14" fill="#000">K<tspan font-size="10" dy="3">2</tspan><tspan dy="-3">SO</tspan><tspan font-size="10" dy="3">4</tspan></text>
<text x="510.50" y="16.60" font-size="14" fill="#000">NaOH</text>
<rect x="91.5" y="0.5" width="77.0" height="19.1" fill="#fff" stroke="#9a9a9a" stroke-width="0.6"/>
<text x="130" y="8.7" font-size="7.35" text-anchor="middle" fill="#000"><tspan font-style="italic">S</tspan><tspan font-size="5" dy="1.6">T</tspan><tspan dy="-1.6"> = −2.5 × 10</tspan><tspan font-size="5" dy="-3">−3</tspan><tspan dy="3"> K</tspan><tspan font-size="5" dy="-3">−1</tspan></text>
<text x="130" y="16.3" font-size="5.6" font-style="italic" text-anchor="middle" fill="#000">(Mohanakumar et al., 2022)</text>
<rect x="341.6" y="0.5" width="75.0" height="18.9" fill="#fff" stroke="#9a9a9a" stroke-width="0.6"/>
<text x="378.6" y="8.7" font-size="7.35" text-anchor="middle" fill="#000"><tspan font-style="italic">S</tspan><tspan font-size="5" dy="1.6">T</tspan><tspan dy="-1.6"> =&#160; 3.61 × 10</tspan><tspan font-size="5" dy="-3">−3</tspan><tspan dy="3"> K</tspan><tspan font-size="5" dy="-3">−1</tspan></text>
<text x="378.6" y="16.3" font-size="5.8" text-anchor="middle" fill="#000">(Agar &amp; Turner, 1960)</text>
<rect x="565.4" y="0.5" width="107.20000000000005" height="19.0" fill="#fff" stroke="#9a9a9a" stroke-width="0.6"/>
<text x="619" y="8.7" font-size="8.1" text-anchor="middle" fill="#000"><tspan font-style="italic">S</tspan><tspan font-size="5" dy="1.6">T</tspan><tspan dy="-1.6"> =&#160; 10.0 × 10</tspan><tspan font-size="5" dy="-3">−3</tspan><tspan dy="3"> K</tspan><tspan font-size="5" dy="-3">−1</tspan></text>
<text x="619" y="16.3" font-size="5.75" text-anchor="middle" fill="#000">(Snowdon, 1960) &amp; (Leaist &amp; Hui,1990)</text>
<g>
<rect x="33.0" y="243.0" width="132.5" height="108.8" fill="#3f29b2"/>
<path d="M33.0,243.0L165.5,243.0L165.5,351.8L33.0,351.8L33.0,243.0Z" fill="#4230c4" fill-rule="evenodd"/>
<path d="M33.0,243.0L165.5,243.0L165.5,315.4L129.5,323.6L120.6,324.8L110.0,328.1L105.0,328.9L98.5,331.1L92.2,332.3L86.0,334.8L77.0,335.9L71.0,338.6L61.8,339.8L48.7,343.8L45.5,345.6L33.0,348.9L33.0,243.0ZM163.1,334.3L165.5,334.1L165.5,351.8L33.0,351.8L33.0,350.2L45.1,348.8L60.5,346.1L71.0,345.3L77.0,344.0L86.0,343.5L122.0,338.5L163.1,334.3Z" fill="#4536d5" fill-rule="evenodd"/>
<path d="M33.0,243.0L165.5,243.0L165.5,311.8L130.0,320.7L122.0,321.8L110.0,325.7L104.3,326.8L98.0,329.2L92.0,330.5L85.5,333.2L77.0,334.3L71.0,337.2L61.0,338.8L49.0,342.8L45.5,344.9L33.0,348.7L33.0,243.0ZM163.5,338.8L165.5,338.7L165.5,351.8L33.0,351.8L33.0,350.6L62.0,347.6L86.0,345.8L122.0,342.0L163.5,338.8Z" fill="#473fe2" fill-rule="evenodd"/>
<path d="M33.0,243.0L165.5,243.0L165.5,309.3L129.5,318.8L121.5,320.0L110.5,323.9L104.5,325.2L97.6,327.8L92.0,329.1L86.0,331.9L77.0,333.2L71.0,336.3L65.0,336.9L60.5,338.1L55.5,340.3L49.0,342.2L45.5,344.4L34.0,347.8L33.0,348.5L33.0,243.0ZM163.9,339.8L165.5,339.7L165.5,351.8L33.0,351.8L33.0,350.9L86.0,346.5L122.0,342.9L163.9,339.8Z" fill="#4747ec" fill-rule="evenodd"/>
<path d="M33.0,243.0L165.5,243.0L165.5,306.4L130.0,316.5L122.0,317.7L110.0,322.2L104.5,323.4L98.0,326.1L92.0,327.6L85.5,330.7L77.0,331.9L71.0,335.3L65.0,336.0L60.5,337.2L56.0,339.4L49.0,341.6L46.5,343.6L33.0,348.4L33.0,243.0ZM161.2,340.8L165.5,340.5L165.5,351.8L33.0,351.8L33.0,351.1L71.0,348.4L122.0,343.6L161.2,340.8Z" fill="#4850f3" fill-rule="evenodd"/>
<path d="M33.0,243.0L165.5,243.0L165.5,304.0L130.0,314.6L122.0,316.0L110.0,320.6L104.5,321.9L98.0,324.8L92.0,326.3L85.5,329.6L77.0,330.9L71.0,334.4L65.0,335.1L60.9,336.3L56.0,338.7L49.0,341.1L46.0,343.6L33.0,348.1L33.0,243.0ZM163.6,341.3L165.5,341.2L165.5,351.8L33.0,351.8L33.0,351.2L71.0,348.9L122.0,344.3L163.6,341.3Z" fill="#4759f8" fill-rule="evenodd"/>
<path d="M33.0,243.0L165.5,243.0L165.5,302.1L130.0,313.0L122.0,314.5L110.0,319.3L105.5,320.3L98.0,323.6L92.0,325.2L86.0,328.5L82.0,329.6L77.0,330.0L71.0,333.7L65.0,334.4L60.5,335.8L56.0,338.2L49.0,340.6L46.0,343.4L38.9,345.8L38.0,346.6L33.0,347.8L33.0,243.0ZM158.9,342.3L165.5,341.9L165.5,351.8L33.0,351.8L33.0,351.4L71.0,349.4L122.0,344.9L158.9,342.3Z" fill="#4562fc" fill-rule="evenodd"/>
<path d="M33.0,243.0L165.5,243.0L165.5,300.3L130.0,311.7L122.0,313.1L110.0,318.2L105.0,319.4L98.0,322.7L92.0,324.3L86.0,327.7L82.0,328.8L77.0,329.3L71.0,333.0L65.0,333.8L60.5,335.3L56.0,337.7L48.9,340.3L46.0,343.3L38.4,345.8L38.0,346.5L36.8,346.3L37.0,346.8L36.5,347.0L33.0,347.6L33.0,243.0ZM160.6,342.8L165.5,342.5L165.5,351.8L33.0,351.8L60.0,350.6L122.0,345.4L160.6,342.8Z" fill="#416bfe" fill-rule="evenodd"/>
<path d="M33.0,243.0L165.5,243.0L165.5,298.8L130.0,310.5L121.5,312.2L110.0,317.2L105.0,318.4L98.0,321.8L92.0,323.5L86.0,327.0L82.0,328.1L77.0,328.6L71.0,332.5L65.0,333.3L60.5,334.8L55.5,337.5L48.5,340.3L47.6,341.8L46.0,343.1L41.0,345.1L37.6,345.8L38.0,346.4L37.0,346.0L36.0,346.3L36.5,346.9L35.5,346.5L34.9,346.8L35.2,347.3L33.0,347.4L33.0,243.0ZM161.3,343.3L165.5,343.1L165.5,351.8L33.0,351.8L60.0,351.1L122.0,345.9L161.3,343.3Z" fill="#3875fe" fill-rule="evenodd"/>
<path d="M33.0,243.0L165.5,243.0L165.5,297.4L129.5,309.6L121.5,311.2L110.0,316.3L104.3,317.9L98.0,321.0L92.0,322.8L85.5,326.6L81.5,327.6L77.0,328.1L71.0,332.1L65.0,332.9L60.7,334.3L56.0,337.1L48.9,339.8L46.0,343.0L43.0,343.7L41.0,345.0L36.9,345.8L33.0,347.3L33.0,243.0ZM161.0,343.8L165.5,343.6L165.5,351.8L60.3,351.8L77.0,349.9L122.0,346.3L161.0,343.8ZM37.9,346.3L37.9,346.3ZM36.3,346.8L36.3,346.8Z" fill="#307ffb" fill-rule="evenodd"/>
<path d="M33.0,243.0L165.5,243.0L165.5,296.1L130.0,308.5L121.5,310.3L110.0,315.5L104.0,317.3L98.0,320.4L92.0,322.3L86.0,325.9L82.0,327.1L77.0,327.6L71.0,331.7L65.0,332.6L61.3,333.8L55.5,337.1L49.5,339.3L45.5,343.1L44.5,343.0L41.5,344.2L41.0,345.0L36.5,345.8L33.0,347.2L33.0,243.0ZM159.7,344.3L165.5,344.0L165.5,351.8L63.8,351.8L77.0,350.2L122.0,346.6L159.7,344.3Z" fill="#2d87f6" fill-rule="evenodd"/>
<path d="M33.0,243.0L165.5,243.0L165.5,294.9L131.5,307.1L121.5,309.5L110.0,314.8L105.0,316.3L97.5,320.1L93.5,321.1L86.0,325.5L82.0,326.7L77.0,327.3L71.0,331.5L65.0,332.3L60.8,333.8L55.5,337.0L49.5,339.2L45.5,343.0L44.5,342.8L44.0,343.4L41.5,344.0L41.0,344.9L37.9,345.3L33.0,347.2L33.0,243.0ZM157.5,344.8L165.5,344.4L165.5,351.8L67.0,351.8L77.0,350.6L122.0,347.0L157.5,344.8Z" fill="#2c90f0" fill-rule="evenodd"/>
<path d="M33.0,243.0L165.5,243.0L165.5,293.8L131.0,306.5L121.2,308.9L111.0,313.8L105.0,315.7L97.5,319.6L93.0,320.8L86.0,325.2L82.0,326.4L77.0,326.9L71.0,331.2L65.0,332.2L60.5,333.8L56.0,336.6L49.5,339.0L45.5,342.3L45.5,342.9L44.5,342.7L40.6,344.3L41.0,344.8L39.5,344.8L33.0,347.1L33.0,243.0ZM154.4,345.3L165.5,344.8L165.5,351.8L70.3,351.8L92.5,349.7L154.4,345.3Z" fill="#2798ea" fill-rule="evenodd"/>
<path d="M33.0,243.0L165.5,243.0L165.5,292.8L131.0,305.8L121.0,308.3L111.0,313.2L104.6,315.4L97.5,319.1L93.0,320.4L86.0,324.8L82.0,326.1L77.0,326.6L71.0,331.0L65.0,332.0L61.2,333.3L56.0,336.5L49.5,338.9L45.0,342.5L33.0,347.1L33.0,243.0ZM45.5,342.8L45.5,342.8ZM162.3,345.3L165.5,345.2L165.5,351.8L73.6,351.8L122.0,347.7L162.3,345.3Z" fill="#249fe5" fill-rule="evenodd"/>
<path d="M33.0,243.0L165.5,243.0L165.5,291.9L130.5,305.2L121.0,307.6L111.0,312.7L104.5,314.9L98.0,318.5L93.0,320.0L86.0,324.5L82.0,325.8L77.0,326.3L71.0,330.8L65.0,331.8L60.8,333.3L55.5,336.6L49.5,338.8L45.5,342.1L33.0,347.0L33.0,243.0ZM159.4,345.8L165.5,345.6L165.5,351.8L76.8,351.8L122.0,348.0L159.4,345.8Z" fill="#1ea7e1" fill-rule="evenodd"/>
<path d="M33.0,243.0L165.5,243.0L165.5,291.0L130.5,304.6L121.0,307.0L110.5,312.4L104.5,314.4L98.0,318.1L93.0,319.6L86.0,324.2L82.0,325.5L77.0,326.1L71.0,330.7L65.0,331.6L62.0,332.7L55.5,336.5L49.3,338.8L45.0,342.2L33.0,347.0L33.0,243.0ZM155.8,346.3L165.5,345.9L165.5,351.8L80.1,351.8L105.0,349.6L155.8,346.3Z" fill="#18addb" fill-rule="evenodd"/>
<path d="M33.0,243.0L165.5,243.0L165.5,290.1L130.5,304.0L120.5,306.7L110.5,311.9L104.5,313.9L98.0,317.7L92.8,319.4L86.0,323.9L82.0,325.2L77.0,325.8L71.0,330.5L65.0,331.4L62.0,332.5L55.5,336.4L49.1,338.8L45.0,342.1L33.0,346.9L33.0,243.0ZM165.3,346.3L165.5,351.8L83.4,351.8L122.0,348.6L165.3,346.3Z" fill="#0cb3d3" fill-rule="evenodd"/>
<path d="M33.0,243.0L165.5,243.0L165.5,289.3L130.0,303.6L122.0,305.5L110.5,311.5L104.5,313.5L98.0,317.3L92.5,319.1L86.0,323.7L82.0,325.0L77.0,325.6L71.0,330.3L65.0,331.3L61.5,332.6L55.5,336.3L49.0,338.8L45.0,342.0L33.0,346.8L33.0,243.0ZM160.3,346.8L165.5,346.6L165.5,351.8L86.6,351.8L122.0,348.9L160.3,346.8Z" fill="#01b8c9" fill-rule="evenodd"/>
<path d="M33.0,243.0L165.5,243.0L165.5,288.6L130.0,303.0L122.0,304.9L110.5,311.0L104.0,313.4L98.0,317.0L92.5,318.8L86.0,323.4L81.5,324.8L77.0,325.4L71.0,330.1L65.0,331.1L62.0,332.2L55.2,336.3L49.0,338.7L45.5,341.7L33.0,346.8L33.0,243.0ZM154.1,347.3L165.5,347.0L165.5,351.8L89.8,351.8L105.6,350.3L154.1,347.3Z" fill="#08bcbe" fill-rule="evenodd"/>
<path d="M33.0,243.0L165.5,243.0L165.5,287.9L130.0,302.6L122.0,304.5L110.5,310.7L104.2,312.9L98.0,316.7L92.5,318.5L86.0,323.1L82.5,324.4L77.0,325.1L71.0,329.9L65.0,330.9L62.0,332.0L55.9,335.8L49.0,338.6L45.5,341.6L33.0,346.8L33.0,243.0ZM163.6,347.3L165.5,347.3L165.5,351.8L93.0,351.8L122.0,349.4L163.6,347.3Z" fill="#1cc0b4" fill-rule="evenodd"/>
<path d="M33.0,243.0L165.5,243.0L165.5,287.6L130.0,302.2L121.5,304.3L110.0,310.6L104.5,312.4L98.0,316.4L92.5,318.2L86.0,322.8L82.0,324.2L77.0,324.9L71.0,329.7L65.0,330.7L61.5,332.0L55.6,335.8L49.0,338.5L45.5,341.5L33.0,346.7L33.0,243.0ZM155.8,347.8L165.5,347.5L165.5,351.8L96.3,351.8L122.0,349.6L155.8,347.8Z" fill="#2bc3a8" fill-rule="evenodd"/>
<path d="M33.0,243.0L165.5,243.0L165.5,287.3L129.5,302.1L121.8,303.9L110.0,310.3L104.0,312.4L98.0,316.1L92.5,317.9L86.0,322.6L82.0,323.9L77.0,324.6L71.0,329.4L65.0,330.4L62.0,331.6L55.5,335.6L49.0,338.4L45.5,341.5L33.0,346.7L33.0,243.0ZM148.4,348.3L165.5,347.8L165.5,351.8L99.5,351.8L148.4,348.3Z" fill="#34c79c" fill-rule="evenodd"/>
<path d="M33.0,243.0L165.5,243.0L165.5,287.0L130.0,301.7L122.0,303.6L110.0,310.0L104.4,311.9L98.0,315.8L92.5,317.7L86.0,322.3L82.0,323.7L77.0,324.3L71.0,329.2L65.0,330.2L61.9,331.3L56.0,335.2L49.0,338.3L45.5,341.4L33.0,346.6L33.0,243.0ZM155.7,348.3L165.5,348.1L165.5,351.8L102.7,351.8L122.0,350.1L155.7,348.3Z" fill="#3fca8e" fill-rule="evenodd"/>
<path d="M33.0,243.0L165.5,243.0L165.5,286.8L129.5,301.6L121.9,303.4L110.0,309.8L104.0,311.9L98.0,315.6L92.6,317.4L86.0,322.1L82.0,323.5L77.0,324.1L71.0,329.0L65.0,330.0L61.4,331.3L56.5,334.7L49.0,338.1L45.5,341.3L33.0,346.6L33.0,243.0ZM147.6,348.8L165.5,348.3L165.5,351.8L106.0,351.8L147.6,348.8Z" fill="#52cc7e" fill-rule="evenodd"/>
<path d="M33.0,243.0L165.5,243.0L165.5,286.6L130.0,301.3L121.5,303.4L110.0,309.7L104.6,311.4L97.5,315.7L92.3,317.4L85.5,322.1L82.5,323.2L77.0,323.9L71.5,328.6L64.8,329.8L61.1,331.3L56.5,334.6L49.0,338.0L45.4,341.3L33.0,346.6L33.0,243.0ZM153.5,348.8L165.5,348.6L165.5,351.8L109.2,351.8L125.9,350.3L153.5,348.8Z" fill="#66cd6d" fill-rule="evenodd"/>
<path d="M33.0,243.0L165.5,243.0L165.5,286.4L130.0,301.1L122.0,303.0L110.0,309.5L104.3,311.4L98.0,315.3L92.0,317.4L86.0,321.8L82.0,323.2L77.0,323.8L71.0,328.7L65.0,329.7L60.8,331.3L56.5,334.4L49.0,337.9L45.2,341.3L33.0,346.5L33.0,243.0ZM164.5,348.8L165.5,348.8L165.5,351.8L112.5,351.8L149.0,349.1L164.5,348.8Z" fill="#7dcc5c" fill-rule="evenodd"/>
<path d="M33.0,243.0L165.5,243.0L165.5,286.3L129.5,301.2L121.9,302.9L110.5,309.1L104.1,311.4L98.0,315.2L92.7,316.9L86.0,321.7L82.0,323.0L77.0,323.7L71.0,328.6L65.0,329.5L60.5,331.3L56.4,334.3L49.0,337.8L45.1,341.3L33.0,346.5L33.0,243.0ZM149.8,349.3L165.5,349.0L165.5,351.8L115.7,351.8L149.8,349.3Z" fill="#94ca4a" fill-rule="evenodd"/>
<path d="M33.0,243.0L165.5,243.0L165.5,286.2L129.5,301.1L121.7,302.9L110.0,309.3L104.9,310.9L98.0,315.1L92.5,316.9L86.0,321.6L81.5,323.0L77.0,323.6L71.0,328.4L65.3,329.3L61.3,330.8L56.2,334.3L49.5,337.3L45.0,341.3L33.0,346.4L33.0,243.0ZM160.3,349.3L165.5,349.2L165.5,351.8L118.9,351.8L144.5,349.8L160.3,349.3Z" fill="#aac73a" fill-rule="evenodd"/>
<path d="M33.0,243.0L165.5,243.0L165.5,286.1L129.5,301.0L121.5,302.9L110.0,309.2L104.7,310.9L98.0,314.9L92.4,316.9L86.0,321.5L81.5,322.9L77.0,323.5L71.0,328.3L65.0,329.3L61.2,330.8L56.0,334.3L49.4,337.3L45.0,341.2L33.0,346.4L33.0,243.0ZM147.6,349.8L165.5,349.4L165.5,351.8L122.1,351.8L147.6,349.8Z" fill="#bfc32e" fill-rule="evenodd"/>
<path d="M33.0,243.0L165.5,243.0L165.5,286.0L130.0,300.7L121.5,302.8L110.0,309.1L104.5,310.9L97.5,315.1L92.2,316.9L86.0,321.3L82.0,322.7L77.0,323.4L71.0,328.2L65.0,329.2L61.0,330.8L56.0,334.2L49.3,337.3L45.0,341.2L33.0,346.4L33.0,243.0ZM153.9,349.8L165.5,349.6L165.5,351.8L125.4,351.8L153.9,349.8Z" fill="#d2bf27" fill-rule="evenodd"/>
<path d="M33.0,243.0L165.5,243.0L165.5,285.9L130.0,300.6L121.5,302.8L110.0,309.0L104.4,310.9L98.0,314.8L92.0,316.9L86.0,321.3L82.0,322.7L77.0,323.3L71.0,328.2L65.0,329.2L60.8,330.8L56.0,334.2L49.1,337.3L45.0,341.1L33.0,346.3L33.0,243.0ZM146.7,350.3L165.5,349.9L165.5,351.8L128.6,351.8L146.7,350.3Z" fill="#e2bc2b" fill-rule="evenodd"/>
<path d="M33.0,243.0L165.5,243.0L165.5,285.9L130.0,300.6L122.0,302.4L110.0,308.9L104.2,310.9L98.0,314.7L92.0,316.8L86.0,321.2L82.0,322.6L77.0,323.2L71.0,328.1L65.0,329.1L60.6,330.8L56.0,334.1L49.0,337.3L45.0,341.0L33.0,346.3L33.0,243.0ZM150.7,350.3L165.5,350.1L165.5,351.8L131.8,351.8L150.7,350.3Z" fill="#f1ba37" fill-rule="evenodd"/>
<path d="M33.0,243.0L165.5,243.0L165.5,285.8L129.5,300.7L121.9,302.4L110.0,308.8L104.1,310.9L98.0,314.6L92.0,316.7L86.0,321.1L82.0,322.5L77.0,323.1L71.0,328.0L65.0,329.0L60.5,330.8L56.0,334.0L49.0,337.2L45.0,341.0L33.0,346.2L33.0,243.0ZM146.9,350.8L165.5,350.4L165.5,351.8L135.1,351.8L146.9,350.8Z" fill="#fcbd3d" fill-rule="evenodd"/>
<path d="M33.0,243.0L165.5,243.0L165.5,285.7L129.5,300.6L121.8,302.4L110.0,308.8L104.0,310.8L98.0,314.5L92.0,316.7L86.0,321.0L82.0,322.4L77.0,323.1L71.0,327.9L65.0,328.9L60.5,330.8L56.0,333.9L49.0,337.2L45.0,340.9L33.0,346.2L33.0,243.0ZM152.8,350.8L165.5,350.7L165.5,351.8L138.3,351.8L152.8,350.8Z" fill="#fec537" fill-rule="evenodd"/>
<path d="M33.0,243.0L165.5,243.0L165.5,285.7L129.5,300.5L121.6,302.4L110.0,308.7L104.0,310.8L98.0,314.5L92.0,316.6L86.0,321.0L82.0,322.4L77.0,323.0L71.0,327.8L65.0,328.8L60.5,330.7L56.0,333.8L49.0,337.1L45.0,340.8L33.0,346.1L33.0,243.0ZM147.1,351.3L165.5,351.0L165.5,351.8L141.5,351.8L147.1,351.3Z" fill="#fccf30" fill-rule="evenodd"/>
<path d="M33.0,243.0L165.5,243.0L165.5,285.6L129.5,300.4L121.5,302.4L110.0,308.6L104.0,310.7L98.0,314.4L92.0,316.5L86.0,320.9L82.0,322.3L77.0,322.9L71.0,327.8L65.0,328.8L60.5,330.6L56.0,333.8L49.0,337.0L45.0,340.7L33.0,346.0L33.0,243.0ZM157.6,351.3L165.5,351.3L165.5,351.8L144.7,351.8L157.6,351.3Z" fill="#f8d92c" fill-rule="evenodd"/>
<path d="M33.0,243.0L165.5,243.0L165.5,285.5L129.4,300.4L121.5,302.3L110.0,308.5L104.0,310.6L97.9,314.4L92.0,316.4L85.9,320.9L82.0,322.2L77.0,322.8L71.0,327.7L65.0,328.7L60.5,330.5L56.0,333.7L48.5,337.3L45.0,340.7L33.0,346.0L33.0,243.0ZM148.0,351.8L165.5,351.6L148.0,351.8Z" fill="#f5e327" fill-rule="evenodd"/>
<path d="M33.0,243.0L165.5,243.0L165.5,285.4L130.0,300.1L121.5,302.2L110.0,308.5L104.5,310.3L97.7,314.4L92.0,316.4L85.8,320.9L82.0,322.1L77.0,322.7L71.0,327.6L65.0,328.6L61.0,330.2L56.0,333.6L48.5,337.2L45.5,340.3L33.0,345.9L33.0,243.0Z" fill="#f5ed22" fill-rule="evenodd"/>
<path d="M33.0,243.0L165.5,243.0L165.5,285.3L130.0,300.0L121.5,302.1L110.0,308.4L104.5,310.2L97.6,314.4L92.0,316.3L85.6,320.9L82.0,322.1L77.0,322.7L71.0,327.5L65.0,328.6L61.0,330.1L56.0,333.5L48.5,337.1L45.4,340.3L33.0,345.9L33.0,243.0ZM47.5,337.3L47.5,337.3Z" fill="#f8f61a" fill-rule="evenodd"/>
<path d="M33.0,243.0L165.5,243.0L165.5,285.2L130.0,300.0L121.5,302.1L109.9,308.4L104.5,310.1L97.4,314.4L92.0,316.2L85.4,320.9L82.0,322.0L77.0,322.6L71.0,327.5L64.5,328.6L61.0,330.0L56.0,333.4L47.5,337.3L47.0,338.8L45.2,340.3L33.0,345.8L33.0,243.0Z" fill="#f9fb15" fill-rule="evenodd"/>
</g>
<path d="M165.5,315.4L129.5,323.6L120.6,324.8L110.0,328.1L105.0,328.9L98.5,331.1L92.2,332.3L86.0,334.8L82.0,335.6L77.0,335.9L71.0,338.6L61.8,339.8L55.5,342.1L48.7,343.8L45.5,345.6L33.0,348.9M33.0,350.2L45.1,348.8L60.5,346.1L71.0,345.3L77.0,344.0L86.0,343.5L92.0,342.3L122.0,338.5L130.0,338.0L165.5,334.1M165.5,309.3L129.5,318.8L121.5,320.0L110.5,323.9L104.5,325.2L97.6,327.8L92.0,329.1L86.0,331.9L81.6,332.8L77.0,333.2L71.0,336.3L65.0,336.9L60.5,338.1L55.5,340.3L49.0,342.2L45.5,344.4L36.0,347.6L34.0,347.8L33.0,348.5M33.0,350.9L86.0,346.5L122.0,342.9L165.5,339.7M165.5,304.0L130.0,314.6L122.0,316.0L110.0,320.6L104.5,321.9L98.0,324.8L92.0,326.3L85.5,329.6L81.5,330.5L77.0,330.9L71.0,334.4L65.0,335.1L60.9,336.3L56.0,338.7L49.0,341.1L46.0,343.6L38.5,346.5L35.5,347.5L33.5,347.6L33.0,348.1M33.0,351.2L71.0,348.9L122.0,344.3L165.5,341.2M165.5,297.4L129.5,309.6L121.5,311.2L110.0,316.3L104.3,317.9L98.0,321.0L92.0,322.8L85.5,326.6L81.5,327.6L77.0,328.1L71.0,332.1L65.0,332.9L60.7,334.3L56.0,337.1L48.9,339.8L46.0,343.0L43.0,343.7L41.0,345.0L36.9,345.8L33.0,347.3M37.9,346.3L37.9,346.3M36.3,346.8L36.6,346.8L36.3,346.8M60.3,351.8L77.0,349.9L122.0,346.3L165.5,343.6M165.5,287.9L130.0,302.6L122.0,304.5L110.5,310.7L104.2,312.9L98.0,316.7L92.5,318.5L86.0,323.1L82.5,324.4L77.0,325.1L71.0,329.9L65.0,330.9L62.0,332.0L55.9,335.8L49.0,338.6L45.5,341.6L33.0,346.8M93.0,351.8L122.0,349.4L150.5,347.7L165.5,347.3" fill="none" stroke="#fff" stroke-width="0.55" stroke-opacity="0.9"/>
<polygon points="32,242 32,341.5 135.5,242" fill="#fff"/>
<g font-size="7.0" fill="#fff" fill-opacity="1"><text x="140.5" y="303.3" text-anchor="middle" transform="rotate(-22 140.5 300.8)">10000</text><text x="143.5" y="310.2" text-anchor="middle" transform="rotate(-20 143.5 307.7)">5000</text><text x="131.6" y="319.7" text-anchor="middle" transform="rotate(-15 131.6 317.2)">3000</text><text x="130.7" y="324.4" text-anchor="middle" transform="rotate(-15 130.7 321.9)">2000</text><text x="127.7" y="339.3" text-anchor="middle" transform="rotate(-8 127.7 336.8)">1000</text><text x="141.5" y="339.8" text-anchor="middle" transform="rotate(-8 141.5 337.3)">2000</text><text x="144.0" y="341.0" text-anchor="middle" transform="rotate(-8 144.0 338.5)">3000</text><text x="127.7" y="345.8" text-anchor="middle" transform="rotate(-5 127.7 343.3)">5000</text><text x="133.6" y="350.3" text-anchor="middle" transform="rotate(-3 133.6 347.8)">10000</text><text x="81.4" y="342.6" text-anchor="middle" transform="rotate(-10 81.4 340.1)">1000</text><text x="46.0" y="342.0" text-anchor="middle" transform="rotate(-35 46.0 339.5)">10000</text><text x="41.0" y="347.5" text-anchor="middle" transform="rotate(-25 41.0 345.0)">5000</text><text x="45.0" y="351.0" text-anchor="middle" transform="rotate(-10 45.0 348.5)">2000</text><text x="52.0" y="345.5" text-anchor="middle" transform="rotate(-30 52.0 343.0)">3000</text></g>
<g>
<rect x="266.6" y="242.3" width="138.4" height="108.1" fill="#3f29b2"/>
<path d="M266.6,242.3L381.9,242.3L382.2,243.1L369.1,244.7L361.4,258.1L354.0,267.1L345.9,272.2L336.9,281.9L325.7,290.7L303.6,315.1L295.0,322.8L290.6,327.9L290.2,328.6L290.5,328.9L296.0,325.6L310.7,314.1L344.4,289.8L354.6,285.1L378.1,267.7L405.0,249.8L405.0,350.4L266.6,350.4L266.6,242.3Z" fill="#4230c4" fill-rule="evenodd"/>
<path d="M266.6,242.3L366.3,242.3L358.6,256.4L351.9,264.6L343.7,270.1L334.7,279.8L323.5,288.8L308.5,306.2L300.8,314.4L292.8,321.7L286.1,329.9L282.8,335.4L279.5,337.6L277.8,339.8L277.5,342.1L278.6,343.9L280.1,343.1L283.1,339.8L285.3,338.8L286.2,336.1L294.1,329.4L297.2,327.9L306.2,325.1L316.7,320.7L339.2,300.9L353.8,288.8L380.4,269.3L405.0,252.9L405.0,350.4L266.6,350.4L266.6,242.3Z" fill="#4536d5" fill-rule="evenodd"/>
<path d="M266.6,242.3L357.2,242.3L351.8,252.1L348.9,256.1L339.2,264.8L330.3,276.1L315.2,291.5L306.3,302.4L290.5,319.4L281.7,334.6L278.8,336.9L276.9,339.9L276.5,345.1L277.1,345.9L280.1,345.6L284.8,342.1L289.0,337.7L297.3,332.7L308.2,327.9L318.2,322.6L334.0,311.4L353.4,296.6L367.6,284.8L376.6,278.8L385.5,271.4L405.0,259.3L405.0,350.4L266.6,350.4L266.6,242.3Z" fill="#473fe2" fill-rule="evenodd"/>
<path d="M266.6,242.3L350.0,242.3L344.2,252.1L335.3,261.1L328.7,270.4L321.2,279.6L292.8,311.6L286.4,321.1L281.2,333.9L278.6,336.1L276.3,339.7L275.7,345.9L277.3,346.6L281.0,346.6L287.6,342.9L291.3,339.4L310.7,329.7L334.7,315.2L355.6,300.3L369.8,288.1L378.8,282.6L388.5,274.2L405.0,264.5L405.0,350.4L266.6,350.4L266.6,242.3Z" fill="#4747ec" fill-rule="evenodd"/>
<path d="M266.6,242.3L341.7,242.3L336.2,253.6L326.4,263.3L320.0,273.1L303.5,292.6L289.8,310.5L284.0,321.1L280.7,333.1L277.8,336.2L275.7,339.9L274.9,345.1L275.5,346.6L280.1,347.3L282.3,347.1L312.6,331.6L336.0,318.1L344.2,312.9L372.1,292.0L382.2,285.8L395.2,276.1L405.0,271.0L405.0,350.4L266.6,350.4L266.6,242.3Z" fill="#4850f3" fill-rule="evenodd"/>
<path d="M266.6,242.3L335.0,242.3L333.2,249.3L331.9,252.1L321.2,261.6L316.3,270.8L300.3,290.5L292.8,300.8L287.5,309.5L282.3,320.7L279.7,333.1L277.8,335.4L275.3,339.9L274.3,345.9L274.8,346.9L280.8,347.8L283.7,347.4L315.7,332.4L344.8,315.9L366.8,300.0L388.5,286.6L398.3,279.3L405.0,276.3L405.0,350.4L266.6,350.4L266.6,242.3Z" fill="#4759f8" fill-rule="evenodd"/>
<path d="M266.6,242.3L330.5,242.3L329.4,246.5L327.9,249.7L318.5,259.6L313.7,268.9L298.0,290.0L292.0,298.8L286.1,309.3L281.0,321.1L279.0,333.1L274.9,339.9L273.4,345.9L273.9,347.4L281.6,348.3L283.8,348.0L294.3,344.2L315.9,333.9L345.8,317.4L369.1,302.3L391.5,289.6L401.2,282.8L405.0,281.3L405.0,350.4L282.4,350.4L281.6,349.7L280.0,350.4L266.6,350.4L266.6,242.3Z" fill="#4562fc" fill-rule="evenodd"/>
<path d="M266.6,242.3L326.6,242.3L324.7,247.6L316.3,258.1L311.1,267.8L301.0,282.2L289.0,301.5L284.6,309.9L280.6,319.6L278.4,333.1L274.8,339.1L272.6,344.6L268.8,345.6L266.6,345.2L266.6,242.3ZM404.6,285.8L405.0,285.7L405.0,350.4L282.6,350.4L281.6,349.0L279.3,350.4L275.5,350.4L274.5,349.6L274.3,348.9L275.6,348.4L282.3,348.7L294.7,345.1L315.2,335.4L346.6,318.6L370.6,304.6L393.0,293.0L404.6,285.8Z" fill="#416bfe" fill-rule="evenodd"/>
<path d="M266.6,242.3L323.2,242.3L322.0,245.3L314.5,256.6L306.5,270.8L299.4,281.3L283.8,309.4L279.5,321.1L277.9,333.1L272.6,342.2L266.6,344.0L266.6,242.3ZM403.5,290.3L405.0,289.7L405.0,350.4L282.9,350.4L283.1,349.1L291.3,346.5L295.2,345.9L316.7,335.7L371.3,307.0L394.5,295.9L403.5,290.3ZM277.4,348.9L279.4,348.9L278.6,349.7L277.7,349.6L277.4,348.9Z" fill="#3875fe" fill-rule="evenodd"/>
<path d="M266.6,242.3L320.2,242.3L305.2,269.3L298.0,280.6L283.1,309.2L279.2,320.4L278.2,330.9L277.5,333.1L272.6,340.3L266.6,341.2L266.6,242.3ZM403.6,294.1L405.0,293.5L405.0,350.4L283.1,350.4L283.1,349.6L283.8,349.2L297.0,345.9L316.0,337.2L369.2,310.6L395.3,298.9L403.6,294.1Z" fill="#307ffb" fill-rule="evenodd"/>
<path d="M266.6,242.3L317.8,242.3L303.8,268.6L297.3,279.6L282.3,309.4L278.6,321.1L277.5,332.4L273.3,338.7L268.8,339.6L266.6,338.8L266.6,242.3ZM403.4,298.6L405.0,297.9L405.0,350.4L283.4,350.4L283.8,349.5L296.8,346.6L307.5,342.1L360.9,317.6L396.8,302.4L403.4,298.6Z" fill="#2d87f6" fill-rule="evenodd"/>
<path d="M266.6,242.3L315.7,242.3L296.5,279.0L281.6,309.9L278.4,320.4L277.2,332.4L273.3,337.6L268.8,338.6L266.6,338.0L266.6,242.3ZM404.1,302.4L405.0,302.0L405.0,350.4L283.6,350.4L290.5,348.2L296.1,347.4L308.1,342.9L372.8,315.6L397.5,306.0L404.1,302.4Z" fill="#2c90f0" fill-rule="evenodd"/>
<path d="M266.6,242.3L313.8,242.3L295.8,278.6L281.4,309.1L278.1,320.4L276.9,332.4L272.6,337.2L268.8,337.7L266.6,337.5L266.6,242.3ZM404.3,306.1L405.0,305.9L405.0,350.4L284.1,350.4L291.3,348.5L295.8,347.9L310.5,342.9L374.3,318.0L399.0,309.0L404.3,306.1Z" fill="#2798ea" fill-rule="evenodd"/>
<path d="M266.6,242.3L312.1,242.3L297.3,273.3L280.8,309.6L277.8,320.4L276.7,332.4L272.6,336.3L266.6,337.1L266.6,242.3ZM403.9,309.9L405.0,309.4L405.0,350.4L286.6,350.4L290.5,349.0L299.2,347.4L319.8,340.6L399.8,312.0L403.9,309.9Z" fill="#249fe5" fill-rule="evenodd"/>
<path d="M266.6,242.3L310.5,242.3L280.3,309.9L277.6,320.4L276.8,331.6L271.8,335.8L266.6,336.6L266.6,242.3ZM404.5,312.9L405.0,312.7L405.0,350.4L288.5,350.4L290.5,349.5L300.9,347.4L320.8,341.4L400.5,314.7L404.5,312.9Z" fill="#1ea7e1" fill-rule="evenodd"/>
<path d="M266.6,242.3L308.9,242.3L280.1,309.5L277.4,320.4L276.6,331.6L275.6,332.9L271.8,335.2L266.6,336.2L266.6,242.3ZM404.8,315.9L405.0,350.4L289.7,350.4L308.6,345.9L337.0,337.6L404.8,315.9Z" fill="#18addb" fill-rule="evenodd"/>
<path d="M266.6,242.3L307.5,242.3L295.5,270.8L291.9,281.3L279.6,309.9L277.2,320.4L276.4,331.6L272.6,334.4L266.6,335.5L266.6,242.3ZM404.3,318.9L405.0,318.7L405.0,350.4L291.0,350.4L310.0,346.2L338.4,338.6L404.3,318.9Z" fill="#0cb3d3" fill-rule="evenodd"/>
<path d="M266.6,242.3L306.2,242.3L294.7,270.8L291.6,280.6L279.3,309.7L277.1,320.2L276.2,331.6L274.8,332.9L271.8,334.4L266.6,335.0L266.6,242.3ZM403.0,321.9L405.0,321.4L405.0,350.4L293.5,350.4L338.6,339.9L403.0,321.9Z" fill="#01b8c9" fill-rule="evenodd"/>
<path d="M266.6,242.3L304.9,242.3L294.2,270.1L290.9,281.3L286.4,291.1L279.0,309.9L277.0,319.6L276.0,331.6L274.8,332.7L271.8,334.0L266.6,334.6L266.6,242.3ZM403.2,324.1L405.0,323.8L405.0,350.4L296.3,350.4L339.9,340.9L403.2,324.1Z" fill="#08bcbe" fill-rule="evenodd"/>
<path d="M266.6,242.3L303.8,242.3L300.0,253.6L293.5,270.1L290.9,280.6L285.8,291.1L278.7,309.9L276.7,320.4L275.8,331.6L272.6,333.6L266.6,334.4L266.6,242.3ZM403.3,326.4L405.0,326.1L405.0,350.4L301.4,350.4L340.7,342.4L403.3,326.4Z" fill="#1cc0b4" fill-rule="evenodd"/>
<path d="M266.6,242.3L302.8,242.3L299.1,254.3L292.8,270.6L290.3,281.3L285.6,290.3L282.4,300.1L278.6,309.3L276.6,320.4L276.0,330.9L274.8,332.4L272.6,333.4L266.6,334.2L266.6,242.3ZM401.7,329.4L405.0,328.7L405.0,350.4L323.3,350.4L347.4,345.1L357.9,340.5L375.1,336.2L381.1,333.9L401.7,329.4Z" fill="#2bc3a8" fill-rule="evenodd"/>
<path d="M266.6,242.3L301.9,242.3L299.2,252.8L292.3,270.8L290.3,280.6L285.1,290.3L282.2,300.1L278.4,309.1L276.4,320.4L275.8,330.9L274.8,332.2L272.6,333.2L266.6,334.1L266.6,242.3ZM403.0,331.6L405.0,331.2L405.0,350.4L345.9,350.4L360.1,342.8L374.3,339.2L381.8,335.8L390.8,333.6L403.0,331.6Z" fill="#34c79c" fill-rule="evenodd"/>
<path d="M266.6,242.3L301.0,242.3L298.5,253.6L292.0,270.2L290.1,280.6L284.6,290.3L282.0,300.1L277.9,309.9L276.3,320.1L275.7,330.9L274.8,332.1L273.3,332.8L266.6,333.9L266.6,242.3ZM404.0,333.9L405.0,333.7L405.0,350.4L352.7,350.4L362.1,345.1L373.6,342.0L381.8,337.8L390.8,335.6L404.0,333.9Z" fill="#3fca8e" fill-rule="evenodd"/>
<path d="M266.6,242.3L300.2,242.3L298.4,252.8L291.8,270.1L289.9,280.6L284.2,290.3L281.8,300.1L277.8,309.4L276.3,319.0L275.5,330.9L274.8,331.9L272.6,332.9L266.6,333.8L266.6,242.3ZM404.4,336.1L405.0,336.1L405.0,350.4L359.0,350.4L364.0,347.4L372.8,344.7L383.3,339.3L391.5,337.4L404.4,336.1Z" fill="#52cc7e" fill-rule="evenodd"/>
<path d="M266.6,242.3L299.7,242.3L298.3,252.1L295.3,261.1L291.3,270.6L289.7,280.6L283.9,290.3L281.8,299.4L277.7,309.1L276.3,317.7L275.4,330.9L274.8,331.7L272.6,332.8L266.6,333.7L266.6,242.3ZM401.3,338.4L405.0,338.1L405.0,350.4L365.1,350.4L384.1,341.0L391.5,339.2L401.3,338.4Z" fill="#66cd6d" fill-rule="evenodd"/>
<path d="M266.6,242.3L299.3,242.3L297.8,252.8L294.8,261.8L291.2,270.1L289.5,280.6L283.8,289.9L281.4,300.1L277.5,309.1L276.3,316.3L275.2,330.9L272.6,332.7L266.6,333.6L266.6,242.3ZM403.0,339.9L405.0,339.5L405.0,350.4L370.9,350.4L384.8,342.6L390.8,341.1L403.0,339.9Z" fill="#7dcc5c" fill-rule="evenodd"/>
<path d="M266.6,242.3L299.1,242.3L297.6,252.8L294.9,261.1L291.0,270.1L289.4,280.6L283.4,290.3L281.3,300.1L277.4,309.1L276.2,315.9L275.1,330.9L272.6,332.6L266.6,333.5L266.6,242.3ZM402.3,341.4L405.0,340.8L405.0,350.4L374.6,350.4L386.3,343.9L390.8,342.8L402.3,341.4Z" fill="#94ca4a" fill-rule="evenodd"/>
<path d="M266.6,242.3L298.8,242.3L297.6,252.1L294.7,261.1L290.8,270.1L289.2,280.6L283.2,290.3L281.1,300.1L277.2,309.1L276.1,315.9L275.0,330.9L272.6,332.4L266.6,333.4L266.6,242.3ZM403.7,342.1L405.0,341.9L405.0,350.4L378.1,350.4L387.0,345.3L398.3,343.6L403.7,342.1Z" fill="#aac73a" fill-rule="evenodd"/>
<path d="M266.6,242.3L298.6,242.3L297.4,252.1L294.5,261.1L290.5,270.4L289.3,279.8L283.1,290.1L281.2,299.4L277.0,309.1L276.0,315.9L274.8,330.9L272.6,332.3L266.6,333.3L266.6,242.3ZM402.3,343.6L405.0,342.9L405.0,350.4L381.5,350.4L387.8,346.7L396.8,345.2L402.3,343.6Z" fill="#bfc32e" fill-rule="evenodd"/>
<path d="M266.6,242.3L298.5,242.3L297.1,252.8L294.6,260.3L290.5,270.1L289.2,279.8L283.1,289.8L281.1,299.4L276.9,309.1L275.8,315.9L274.8,330.5L274.1,331.5L272.6,332.2L266.6,333.2L266.6,242.3ZM403.4,344.4L405.0,344.0L405.0,350.4L384.8,350.4L388.5,348.1L395.3,346.8L403.4,344.4Z" fill="#d2bf27" fill-rule="evenodd"/>
<path d="M266.6,242.3L298.3,242.3L296.9,252.8L294.5,260.3L290.3,270.1L289.0,279.8L283.0,289.6L280.9,299.4L276.8,309.1L275.7,315.9L274.8,330.1L273.3,331.8L266.6,333.1L266.6,242.3ZM402.1,345.9L405.0,345.2L405.0,350.4L387.9,350.4L390.0,349.2L402.1,345.9Z" fill="#e2bc2b" fill-rule="evenodd"/>
<path d="M266.6,242.3L298.1,242.3L296.8,252.8L294.0,261.1L290.2,270.1L288.9,279.8L282.5,290.3L280.6,300.1L276.7,309.1L275.6,315.9L274.7,330.1L273.3,331.7L266.6,333.0L266.6,242.3ZM403.7,346.6L405.0,346.4L405.0,350.4L391.9,350.4L403.7,346.6Z" fill="#f1ba37" fill-rule="evenodd"/>
<path d="M266.6,242.3L298.0,242.3L296.8,252.1L293.9,261.1L290.0,270.1L288.8,279.8L282.4,290.3L280.4,300.1L276.5,309.1L275.5,315.9L274.5,330.1L273.2,331.6L266.6,332.9L266.6,242.3ZM402.5,348.1L405.0,347.6L405.0,350.4L396.0,350.4L402.5,348.1Z" fill="#fcbd3d" fill-rule="evenodd"/>
<path d="M266.6,242.3L297.8,242.3L296.7,252.1L293.8,261.1L289.9,270.1L288.7,279.8L282.3,290.1L280.5,299.4L276.4,309.1L275.3,315.9L274.4,330.1L274.1,330.9L272.6,331.7L266.6,332.8L266.6,242.3ZM404.0,348.9L405.0,348.7L405.0,350.4L400.1,350.4L404.0,348.9Z" fill="#fec537" fill-rule="evenodd"/>
<path d="M266.6,242.3L297.7,242.3L296.6,252.1L293.6,261.1L289.7,270.1L288.5,279.8L282.3,289.8L280.4,299.4L276.3,309.1L275.2,315.9L274.3,330.1L272.6,331.6L266.6,332.7L266.6,242.3ZM404.1,350.4L405.0,350.1L404.1,350.4Z" fill="#fccf30" fill-rule="evenodd"/>
<path d="M266.6,242.3L297.6,242.3L296.4,252.1L293.5,260.9L289.6,270.1L288.4,279.8L282.3,289.6L280.3,299.4L276.1,309.1L275.1,315.9L274.2,330.1L272.6,331.4L266.6,332.6L266.6,242.3Z" fill="#f8d92c" fill-rule="evenodd"/>
<path d="M266.6,242.3L297.4,242.3L296.1,252.8L293.5,260.6L289.5,270.1L288.3,279.8L282.1,289.6L280.2,299.4L276.0,309.1L275.0,315.9L274.0,330.1L272.6,331.3L266.6,332.5L266.6,242.3Z" fill="#f5e327" fill-rule="evenodd"/>
<path d="M266.6,242.3L297.3,242.3L295.9,252.8L293.5,260.1L289.3,270.1L288.1,279.8L282.0,289.6L280.0,299.4L276.1,308.4L274.9,315.1L273.8,330.1L272.6,331.1L266.6,332.5L266.6,242.3Z" fill="#f5ed22" fill-rule="evenodd"/>
<path d="M266.6,242.3L297.1,242.3L295.8,252.8L293.5,259.7L289.2,270.1L287.9,279.8L281.8,289.6L279.9,299.4L276.0,308.4L274.7,315.9L273.6,330.1L272.6,331.0L266.6,332.4L266.6,242.3Z" fill="#f8f61a" fill-rule="evenodd"/>
<path d="M266.6,242.3L296.9,242.3L295.8,252.1L292.8,261.1L289.2,269.3L287.8,279.8L281.7,289.6L279.7,299.4L275.8,308.4L274.6,315.9L273.4,330.1L272.4,330.9L266.6,332.3L266.6,242.3Z" fill="#f9fb15" fill-rule="evenodd"/>
</g>
<path d="M366.3,242.3L358.6,256.4L351.9,264.6L343.7,270.1L334.7,279.8L323.5,288.8L308.5,306.2L300.8,314.4L292.8,321.7L286.1,329.9L282.8,335.4L279.5,337.6L277.8,339.8L277.5,342.1L278.6,343.9L280.1,343.1L283.1,339.8L285.3,338.8L286.2,336.1L294.1,329.4L297.2,327.9L306.2,325.1L316.7,320.7L339.2,300.9L353.8,288.8L380.4,269.3L405.0,252.9M350.0,242.3L344.2,252.1L335.3,261.1L328.7,270.4L321.2,279.6L311.9,289.6L303.5,300.1L292.8,311.6L286.4,321.1L281.2,333.9L278.6,336.1L276.3,339.7L275.6,345.1L276.3,346.3L278.6,346.8L281.0,346.6L283.1,345.1L287.6,342.9L291.3,339.4L310.7,329.7L334.9,315.1L355.6,300.3L369.8,288.1L378.8,282.6L388.5,274.2L405.0,264.5M335.0,242.3L333.2,249.3L331.9,252.1L321.2,261.6L316.3,270.8L300.3,290.5L292.8,300.8L287.5,309.5L282.3,320.7L279.7,333.1L277.8,335.4L275.3,339.9L274.3,345.9L274.8,346.9L280.8,347.8L283.7,347.4L315.7,332.4L344.8,315.9L366.8,300.0L388.5,286.6L398.3,279.3L405.0,276.3M282.0,350.4L281.6,350.1L280.5,350.4M320.2,242.3L305.2,269.3L298.0,280.6L283.1,309.2L279.2,320.4L278.2,330.9L277.5,333.1L274.1,338.7L272.6,340.3L266.6,341.2M283.1,350.4L283.1,349.6L283.8,349.2L285.9,348.9L290.5,347.2L295.0,346.7L297.0,345.9L316.0,337.2L369.2,310.6L395.3,298.9L405.0,293.5M303.8,242.3L300.0,253.6L293.5,270.1L290.9,280.6L285.8,291.1L278.7,309.9L276.7,320.4L275.8,331.6L272.6,333.6L266.6,334.4M301.4,350.4L340.7,342.4L379.6,332.2L405.0,326.1" fill="none" stroke="#fff" stroke-width="0.55" stroke-opacity="0.9"/>
<polygon points="265.6,241.3 265.6,332.5 268,332.5 270,323 273.4,310 276.6,296 281.3,272.6 285.9,257.3 290.5,241.3" fill="#fff"/>
<g font-size="7.0" fill="#fff" fill-opacity="1"><text x="314.4" y="289.0" text-anchor="middle" transform="rotate(-55 314.4 286.5)">2000</text><text x="320.5" y="297.5" text-anchor="middle" transform="rotate(-50 320.5 295.0)">1000</text><text x="281.6" y="309.5" text-anchor="middle" transform="rotate(-68 281.6 307.0)">10000</text><text x="288.0" y="312.3" text-anchor="middle" transform="rotate(-62 288.0 309.8)">3000</text><text x="294.5" y="329.6" text-anchor="middle" transform="rotate(-40 294.5 327.1)">1000</text><text x="296.0" y="337.5" text-anchor="middle" transform="rotate(-30 296.0 335.0)">2000</text><text x="300.0" y="341.5" text-anchor="middle" transform="rotate(-30 300.0 339.0)">3000</text><text x="290.0" y="343.5" text-anchor="middle" transform="rotate(-30 290.0 341.0)">5000</text><text x="371.3" y="280.9" text-anchor="middle" transform="rotate(-35 371.3 278.4)">1000</text><text x="380.2" y="285.3" text-anchor="middle" transform="rotate(-35 380.2 282.8)">2000</text><text x="389.0" y="289.8" text-anchor="middle" transform="rotate(-30 389.0 287.3)">3000</text><text x="369.8" y="337.0" text-anchor="middle" transform="rotate(-12 369.8 334.5)">10000</text></g>
<g>
<rect x="507.3" y="246.4" width="135.2" height="105.4" fill="#3f29b2"/>
<path d="M507.3,246.4L642.5,246.4L642.5,351.8L507.3,351.8L507.3,246.4Z" fill="#4230c4" fill-rule="evenodd"/>
<path d="M507.3,246.4L642.5,246.4L642.5,320.3L593.7,329.9L557.8,337.6L507.3,350.0L507.3,246.4ZM638.4,326.4L642.5,325.7L642.5,351.8L507.3,351.8L507.3,350.5L509.6,350.1L526.6,348.8L559.9,340.9L638.4,326.4Z" fill="#4536d5" fill-rule="evenodd"/>
<path d="M507.3,246.4L642.5,246.4L642.5,317.4L633.4,318.9L612.5,323.7L592.6,327.1L577.2,331.3L555.7,336.1L527.6,344.0L507.3,348.5L507.3,246.4ZM640.7,328.6L642.5,328.3L642.5,351.8L512.7,351.8L533.6,350.0L542.6,348.0L553.1,344.5L559.1,343.1L640.7,328.6Z" fill="#473fe2" fill-rule="evenodd"/>
<path d="M507.3,246.4L642.5,246.4L642.5,315.3L632.7,316.9L612.5,321.8L592.2,325.1L577.2,329.6L557.6,334.2L539.9,339.1L527.6,343.2L507.3,347.7L507.3,246.4ZM638.9,330.9L642.5,330.3L642.5,351.8L534.3,351.8L541.1,350.3L559.1,344.5L638.9,330.9Z" fill="#4747ec" fill-rule="evenodd"/>
<path d="M507.3,246.4L642.5,246.4L642.5,313.7L632.7,315.2L612.5,320.3L591.4,323.6L577.2,328.3L557.4,333.1L539.3,338.3L526.8,342.7L507.3,347.1L507.3,246.4ZM638.8,332.4L642.5,331.7L642.5,351.8L543.2,351.8L549.4,348.8L559.9,345.5L638.8,332.4Z" fill="#4850f3" fill-rule="evenodd"/>
<path d="M507.3,246.4L642.5,246.4L642.5,312.4L632.0,314.0L611.7,319.2L591.4,322.2L576.4,327.4L556.9,332.3L539.3,337.6L526.8,342.2L507.3,346.6L507.3,246.4ZM641.4,333.1L642.5,333.0L642.5,351.8L551.4,351.8L550.8,351.1L550.7,350.3L551.5,349.6L559.9,346.4L641.4,333.1Z" fill="#4759f8" fill-rule="evenodd"/>
<path d="M507.3,246.4L642.5,246.4L642.5,311.2L632.0,312.8L611.7,318.0L590.7,321.2L576.4,326.4L556.9,331.4L538.1,337.2L526.8,341.5L507.3,346.0L507.3,246.4ZM639.0,334.6L642.5,334.1L642.5,351.8L559.7,351.8L556.7,349.6L558.1,348.1L561.4,347.1L639.0,334.6Z" fill="#4562fc" fill-rule="evenodd"/>
<path d="M507.3,246.4L642.5,246.4L642.5,309.6L632.0,311.1L611.2,316.7L590.7,319.7L576.8,324.9L556.1,330.5L539.6,335.7L526.8,340.7L507.3,345.4L507.3,246.4ZM642.3,335.4L642.5,351.8L567.0,351.8L562.9,348.8L563.7,348.1L567.6,347.3L642.3,335.4Z" fill="#416bfe" fill-rule="evenodd"/>
<path d="M507.3,246.4L642.5,246.4L642.5,304.0L630.5,306.5L610.2,312.7L589.9,316.6L575.7,321.8L550.9,329.7L525.6,339.8L507.3,344.5L507.3,246.4ZM642.3,337.6L642.5,351.8L573.6,351.8L572.7,350.3L574.1,349.5L597.4,345.1L642.3,337.6Z" fill="#3875fe" fill-rule="evenodd"/>
<path d="M507.3,246.4L642.5,246.4L642.5,298.2L629.0,301.7L600.4,311.2L589.2,313.3L583.9,315.6L571.1,319.5L557.6,325.0L550.1,327.1L546.5,329.4L525.3,338.2L507.3,343.4L507.3,246.4ZM638.7,340.6L642.5,340.0L642.5,351.8L581.8,351.8L600.4,347.3L638.7,340.6Z" fill="#307ffb" fill-rule="evenodd"/>
<path d="M507.3,246.4L642.5,246.4L642.5,293.0L639.5,293.5L627.5,297.5L598.9,308.2L589.2,310.0L583.2,312.8L570.4,316.4L556.9,322.7L548.6,325.0L544.9,327.9L524.6,336.8L507.3,342.3L507.3,246.4ZM638.4,342.8L642.5,342.2L642.5,351.8L593.5,351.8L603.4,349.2L638.4,342.8Z" fill="#2d87f6" fill-rule="evenodd"/>
<path d="M507.3,246.4L642.5,246.4L642.5,288.3L635.7,289.9L608.7,300.4L597.4,305.5L589.2,307.1L582.4,310.2L568.9,313.8L555.4,320.9L547.9,322.9L543.6,326.4L524.6,335.2L507.3,341.2L507.3,246.4ZM641.2,344.3L642.5,344.2L642.5,351.8L604.0,351.8L607.9,350.6L641.2,344.3Z" fill="#2c90f0" fill-rule="evenodd"/>
<path d="M507.3,246.4L642.5,246.4L642.5,283.9L639.5,284.2L634.2,285.9L607.2,297.4L596.7,302.8L588.4,304.6L581.7,307.9L567.8,311.4L554.6,318.9L547.1,321.0L542.6,324.9L529.8,331.3L517.1,337.0L507.3,340.3L507.3,246.4ZM638.9,346.6L642.5,346.0L642.5,351.8L614.0,351.8L638.9,346.6Z" fill="#2798ea" fill-rule="evenodd"/>
<path d="M507.3,246.4L642.5,246.4L642.5,279.9L638.7,280.3L632.7,282.3L622.2,287.5L606.4,294.3L595.2,300.7L587.7,302.4L580.9,305.8L566.6,309.2L553.4,317.4L546.4,319.2L541.8,323.4L530.9,329.4L517.1,335.8L507.3,339.4L507.3,246.4ZM640.1,348.1L642.5,347.7L642.5,351.8L622.9,351.8L640.1,348.1Z" fill="#249fe5" fill-rule="evenodd"/>
<path d="M507.3,246.4L642.5,246.4L642.5,276.1L638.0,276.7L631.2,279.0L621.5,284.3L604.9,291.7L594.4,298.4L587.7,300.0L580.2,303.8L569.6,305.8L565.9,307.1L552.4,315.9L545.6,317.6L540.1,322.6L530.6,328.2L516.3,335.1L507.3,338.6L507.3,246.4ZM640.5,349.6L642.5,349.3L642.5,351.8L631.1,351.8L640.5,349.6Z" fill="#1ea7e1" fill-rule="evenodd"/>
<path d="M507.3,246.4L642.5,246.4L642.5,272.7L635.0,273.7L631.2,275.2L620.7,281.3L602.8,289.8L592.9,296.3L586.2,298.1L575.5,302.5L565.9,304.6L552.4,313.7L544.9,315.9L542.1,317.4L537.3,322.6L529.9,327.1L514.8,334.9L507.3,337.8L507.3,246.4ZM641.1,351.1L642.5,350.8L642.5,351.8L638.8,351.8L641.1,351.1Z" fill="#18addb" fill-rule="evenodd"/>
<path d="M507.3,246.4L642.5,246.4L642.5,269.8L632.7,271.2L609.8,283.8L601.2,287.7L592.9,293.0L580.2,296.6L573.4,300.9L565.1,302.7L552.4,311.6L549.4,313.0L540.3,315.5L536.4,321.2L528.6,326.4L514.8,334.1L507.3,337.0L507.3,246.4Z" fill="#0cb3d3" fill-rule="evenodd"/>
<path d="M507.3,246.4L642.5,246.4L642.5,267.0L632.0,269.0L592.9,289.9L578.8,294.2L571.9,299.2L564.6,301.0L559.1,305.5L552.4,309.7L539.6,314.3L535.1,320.2L528.5,324.9L514.1,333.8L507.3,336.2L507.3,246.4Z" fill="#01b8c9" fill-rule="evenodd"/>
<path d="M507.3,246.4L642.5,246.4L642.5,264.4L631.2,266.9L615.5,274.4L604.9,281.3L589.9,288.3L577.7,292.0L570.4,297.8L563.6,299.5L556.1,305.9L549.4,309.4L538.8,313.3L534.3,318.9L527.4,324.1L514.1,333.1L507.3,335.5L507.3,246.4Z" fill="#08bcbe" fill-rule="evenodd"/>
<path d="M507.3,246.4L642.5,246.4L642.5,261.9L630.5,264.9L614.0,272.3L604.2,279.4L589.2,285.8L576.4,290.0L569.6,296.0L562.9,298.1L555.8,304.7L538.4,312.2L532.9,318.2L520.5,327.9L514.1,332.4L507.3,334.8L507.3,246.4Z" fill="#1cc0b4" fill-rule="evenodd"/>
<path d="M507.3,246.4L642.5,246.4L642.5,259.5L632.0,262.1L614.0,269.6L603.2,277.8L575.7,287.9L568.1,294.8L562.1,296.7L558.9,299.5L555.4,303.6L544.9,307.7L538.1,311.1L531.7,317.4L514.1,331.7L507.3,334.2L507.3,246.4Z" fill="#2bc3a8" fill-rule="evenodd"/>
<path d="M507.3,246.4L642.5,246.4L642.5,257.3L632.0,260.1L613.2,267.3L610.2,269.2L601.9,276.3L583.2,282.6L574.9,285.9L571.1,289.0L566.9,293.5L562.9,294.7L560.6,296.1L557.6,298.7L554.6,302.7L544.9,306.2L537.9,309.9L513.3,331.6L507.3,333.5L507.3,246.4Z" fill="#34c79c" fill-rule="evenodd"/>
<path d="M507.3,246.4L642.5,246.4L642.5,255.1L638.0,256.0L612.5,265.2L609.0,267.3L601.2,274.7L582.4,280.5L573.4,284.4L569.0,288.3L565.9,292.2L561.4,293.8L557.6,296.8L553.9,301.8L544.1,305.1L538.1,308.6L513.3,330.9L507.3,332.9L507.3,246.4Z" fill="#3fca8e" fill-rule="evenodd"/>
<path d="M507.3,246.4L642.5,246.4L642.5,253.6L635.0,255.1L623.7,259.6L610.7,263.6L608.7,264.8L601.9,271.3L599.1,273.3L581.7,278.5L571.9,283.0L569.6,284.6L564.4,290.5L557.7,294.2L552.8,300.2L550.2,301.7L542.6,304.5L537.7,307.7L512.6,330.7L507.3,332.2L507.3,246.4Z" fill="#52cc7e" fill-rule="evenodd"/>
<path d="M507.3,246.4L642.5,246.4L642.5,252.9L633.7,253.9L622.2,258.5L608.7,262.0L597.4,271.0L589.6,274.1L580.9,276.6L569.6,282.3L563.4,289.0L560.3,291.3L556.8,292.7L554.6,296.0L550.1,300.0L541.9,304.0L535.1,308.6L512.6,329.9L507.3,331.6L507.3,246.4ZM512.6,321.0L512.6,321.0ZM525.3,305.9L525.3,306.3L526.2,306.2L526.1,305.7L525.3,305.9Z" fill="#66cd6d" fill-rule="evenodd"/>
<path d="M507.3,246.4L642.5,246.4L642.5,252.3L632.0,252.9L623.7,256.6L617.7,258.5L607.9,260.1L603.7,263.6L596.7,268.2L592.2,269.7L588.4,272.2L579.4,275.0L575.7,278.0L568.9,281.1L562.3,288.3L559.5,290.5L556.1,292.0L553.9,295.2L550.1,298.4L535.9,306.9L529.2,312.9L525.3,317.6L522.2,319.7L511.9,329.4L507.3,330.9L507.3,246.4ZM511.8,320.3L512.1,321.9L512.6,322.1L513.6,321.2L513.3,320.1L511.8,320.3ZM524.6,305.4L525.3,307.2L526.8,306.3L527.1,305.5L524.6,305.4Z" fill="#7dcc5c" fill-rule="evenodd"/>
<path d="M507.3,246.4L642.5,246.4L642.5,251.8L638.7,251.4L630.5,251.9L625.2,254.6L617.7,257.2L606.9,258.4L602.7,261.6L599.5,262.8L595.2,265.9L591.4,267.2L586.9,270.5L578.7,273.3L574.9,276.8L568.1,280.0L560.6,288.3L555.4,291.5L553.3,294.2L550.1,297.0L544.1,301.6L535.8,306.0L528.1,312.9L525.3,317.0L521.6,319.2L511.1,328.8L507.3,330.3L507.3,246.4ZM512.6,319.6L511.2,320.4L511.8,322.6L512.6,322.7L514.2,321.2L514.1,320.2L512.6,319.6ZM524.6,304.9L524.3,306.2L525.3,307.7L526.7,306.9L527.7,305.5L526.8,304.9L524.6,304.9Z" fill="#94ca4a" fill-rule="evenodd"/>
<path d="M507.3,246.4L642.5,246.4L642.5,251.4L638.7,250.5L629.6,250.9L627.5,251.4L623.7,253.9L617.7,255.8L605.7,256.8L601.9,259.5L598.2,260.8L594.4,263.4L590.7,264.9L585.4,269.0L578.7,271.3L574.5,275.6L567.4,279.1L558.9,288.3L554.6,291.0L552.4,293.7L543.7,301.0L535.1,305.7L527.2,312.9L524.6,317.0L521.6,318.3L510.3,328.3L507.3,329.7L507.3,246.4ZM511.8,319.4L510.7,320.4L511.8,323.5L514.1,322.0L514.7,320.4L514.1,319.7L511.8,319.4ZM524.6,304.5L523.8,305.5L524.2,306.9L525.3,308.0L526.1,307.8L528.0,305.5L527.4,304.7L524.6,304.5Z" fill="#aac73a" fill-rule="evenodd"/>
<path d="M507.3,246.4L642.5,246.4L642.5,250.9L639.5,249.6L627.3,250.1L623.0,252.8L618.5,254.4L604.4,255.4L601.2,257.5L596.7,259.0L590.7,262.2L584.2,267.3L578.7,269.4L573.4,274.7L566.6,278.2L557.2,288.3L554.0,290.5L543.4,300.2L536.6,303.7L533.6,306.1L525.5,313.7L524.8,315.9L524.0,316.7L520.8,318.1L514.8,323.1L514.4,322.6L515.2,321.2L514.6,319.7L512.6,319.1L510.5,319.7L510.7,323.4L511.1,324.2L512.6,324.9L509.5,327.9L507.3,328.9L507.3,246.4ZM523.8,304.5L523.5,305.5L523.8,306.8L524.6,308.2L525.3,308.4L526.8,307.5L528.3,305.5L527.6,304.5L523.8,304.5ZM513.8,323.4L514.4,323.4L513.8,323.4ZM513.0,324.1L513.4,324.1L513.0,324.1Z" fill="#bfc32e" fill-rule="evenodd"/>
<path d="M507.3,246.4L642.5,246.4L642.5,250.3L639.5,248.8L626.0,249.3L624.5,249.8L622.2,251.8L618.5,253.1L603.4,253.9L590.7,259.6L582.8,265.8L577.9,268.0L573.4,273.3L566.6,276.8L556.1,287.8L547.1,295.3L542.2,300.2L536.6,302.9L534.3,304.6L525.2,312.9L523.5,315.9L520.8,317.2L516.3,320.8L513.3,318.8L511.1,318.9L509.7,319.7L510.2,325.6L507.3,327.9L507.3,246.4ZM523.8,304.1L523.2,305.5L524.6,308.8L526.1,308.5L528.4,306.2L528.4,304.7L527.6,304.3L523.8,304.1Z" fill="#d2bf27" fill-rule="evenodd"/>
<path d="M507.3,246.4L642.5,246.4L642.5,249.5L640.2,247.9L624.5,248.5L623.0,249.1L621.3,250.9L619.5,251.6L602.7,252.4L590.7,257.1L581.7,264.3L577.9,266.2L572.6,272.3L565.9,276.0L555.0,287.5L546.4,294.9L541.9,299.6L535.1,303.2L524.6,312.6L522.3,315.3L516.3,319.8L513.3,318.5L509.6,318.4L507.3,316.6L507.3,246.4ZM523.8,303.8L522.8,304.7L522.8,305.5L523.8,308.9L524.6,309.5L526.8,308.4L528.9,305.5L528.7,304.7L527.6,304.1L523.8,303.8Z" fill="#e2bc2b" fill-rule="evenodd"/>
<path d="M507.3,246.4L642.5,246.4L642.5,247.7L640.2,246.9L623.7,247.6L622.2,248.0L619.2,250.3L601.9,251.0L590.7,254.7L577.9,264.5L572.4,271.1L565.7,274.8L554.3,286.8L540.3,299.8L535.8,301.9L529.1,307.3L529.3,305.5L528.3,304.1L523.8,303.5L522.7,304.0L522.3,305.5L522.9,310.7L523.5,312.2L520.8,315.2L517.1,318.2L515.6,318.7L510.3,317.7L507.3,315.5L507.3,246.4Z" fill="#f1ba37" fill-rule="evenodd"/>
<path d="M507.3,246.4L622.5,246.4L618.5,248.2L601.2,249.4L589.9,253.2L577.9,262.8L571.9,270.0L565.1,273.9L553.0,286.8L540.3,298.7L535.1,301.6L530.6,305.4L529.8,305.4L528.7,304.0L527.6,303.5L523.8,303.2L521.6,303.6L521.0,303.2L507.3,289.8L507.3,246.4Z" fill="#fcbd3d" fill-rule="evenodd"/>
<path d="M507.3,246.4L605.2,246.4L600.4,247.4L597.4,249.6L590.7,251.7L588.4,253.0L577.1,262.1L571.1,269.3L564.4,273.3L551.7,286.8L541.9,296.0L530.6,304.3L528.3,303.3L522.1,302.5L507.3,288.3L507.3,246.4ZM538.8,291.7L538.3,292.7L538.8,294.0L540.4,292.7L540.2,292.0L538.8,291.7Z" fill="#fec537" fill-rule="evenodd"/>
<path d="M507.3,246.4L598.7,246.4L596.7,248.7L588.4,251.8L577.9,260.3L570.4,268.5L564.0,272.6L550.6,286.8L544.1,292.8L529.8,302.9L523.1,301.6L508.8,287.6L507.3,286.9L507.3,246.4ZM538.1,291.1L537.1,292.0L536.9,294.2L537.0,295.0L538.1,295.6L539.6,294.9L541.2,292.7L540.0,291.3L538.1,291.1Z" fill="#fccf30" fill-rule="evenodd"/>
<path d="M507.3,246.4L597.0,246.4L595.2,248.3L587.7,251.3L577.3,259.9L570.2,267.3L563.6,271.9L549.4,286.8L542.6,292.3L540.3,290.8L537.2,289.8L507.3,261.1L507.3,246.4Z" fill="#f8d92c" fill-rule="evenodd"/>
<path d="M507.3,246.4L595.3,246.4L593.8,247.9L586.2,251.3L573.7,262.1L569.6,266.6L562.6,271.8L549.4,285.2L543.4,290.2L541.9,290.7L537.9,289.0L523.8,275.0L520.8,272.8L508.8,260.8L507.3,259.9L507.3,246.4Z" fill="#f5e327" fill-rule="evenodd"/>
<path d="M514.1,246.4L593.6,246.4L592.9,247.2L585.4,250.9L568.9,265.9L562.1,271.1L555.4,277.9L553.9,278.6L550.9,277.5L516.3,249.0L514.1,246.4Z" fill="#f5ed22" fill-rule="evenodd"/>
<path d="M516.1,246.4L591.8,246.4L585.4,249.7L568.4,265.1L561.4,270.0L554.6,276.4L553.1,277.0L516.1,246.4Z" fill="#f8f61a" fill-rule="evenodd"/>
</g>
<path d="M642.5,309.6L632.0,311.1L611.2,316.7L590.7,319.7L576.8,324.9L556.1,330.5L539.6,335.7L526.8,340.7L507.3,345.4M567.0,351.8L562.9,348.8L563.7,348.1L642.5,335.3M642.5,272.7L635.0,273.7L631.2,275.2L620.7,281.3L602.8,289.8L592.9,296.3L586.2,298.1L575.5,302.5L565.9,304.6L552.4,313.7L544.9,315.9L542.1,317.4L537.3,322.6L529.9,327.1L514.8,334.9L507.3,337.8M638.8,351.8L642.5,350.8M642.5,253.6L635.0,255.1L623.7,259.6L610.7,263.6L608.7,264.8L601.9,271.3L599.1,273.3L581.7,278.5L571.9,283.0L569.6,284.6L564.4,290.5L557.7,294.2L552.8,300.2L550.2,301.7L542.6,304.5L537.7,307.7L533.1,311.4L512.6,330.7L507.3,332.2" fill="none" stroke="#fff" stroke-width="0.55" stroke-opacity="0.9"/>
<polygon points="506.3,245.4 506.3,328.1 548.1,285 560,271 567,264 575,257 581,252 586,249 591,247 595,245.4" fill="#fff"/>
<g font-size="7.0" fill="#fff" fill-opacity="1"><text x="573.4" y="261.8" text-anchor="middle" transform="rotate(-45 573.4 259.3)">5000</text><text x="600.6" y="275.8" text-anchor="middle" transform="rotate(-30 600.6 273.3)">3000</text><text x="528.4" y="318.0" text-anchor="middle" transform="rotate(-40 528.4 315.5)">3000</text><text x="602.1" y="292.5" text-anchor="middle" transform="rotate(-35 602.1 290.0)">2000</text><text x="530.1" y="329.7" text-anchor="middle" transform="rotate(-30 530.1 327.2)">2000</text><text x="612.0" y="319.7" text-anchor="middle" transform="rotate(-20 612.0 317.2)">1000</text><text x="527.8" y="343.0" text-anchor="middle" transform="rotate(-15 527.8 340.5)">1000</text><text x="605.9" y="343.4" text-anchor="middle" transform="rotate(-8 605.9 340.9)">1000</text></g>
<rect x="33" y="243" width="132.50" height="108.80" fill="none" stroke="#7a7a7a" stroke-width="0.7"/>
<path d="M33,326.6h1.4M165.5,326.6h-1.4" stroke="#262626" stroke-width="0.5"/>
<text transform="translate(29.40 329.38) scale(0.95 1)" font-size="8.0" text-anchor="end" fill="#333">200</text>
<path d="M33,298.8h1.4M165.5,298.8h-1.4" stroke="#262626" stroke-width="0.5"/>
<text transform="translate(29.40 301.62) scale(0.95 1)" font-size="8.0" text-anchor="end" fill="#333">400</text>
<path d="M33,271.1h1.4M165.5,271.1h-1.4" stroke="#262626" stroke-width="0.5"/>
<text transform="translate(29.40 273.86) scale(0.95 1)" font-size="8.0" text-anchor="end" fill="#333">600</text>
<path d="M33,243.3h1.4M165.5,243.3h-1.4" stroke="#262626" stroke-width="0.5"/>
<text transform="translate(29.40 246.10) scale(0.95 1)" font-size="8.0" text-anchor="end" fill="#333">800</text>
<path d="M54.4,351.8v-1.4M54.4,243v1.4" stroke="#262626" stroke-width="0.5"/>
<text transform="translate(54.40 361.60) scale(0.95 1)" font-size="8.0" text-anchor="middle" fill="#333">50</text>
<path d="M91.3,351.8v-1.4M91.3,243v1.4" stroke="#262626" stroke-width="0.5"/>
<text transform="translate(91.30 361.60) scale(0.95 1)" font-size="8.0" text-anchor="middle" fill="#333">100</text>
<path d="M127.8,351.8v-1.4M127.8,243v1.4" stroke="#262626" stroke-width="0.5"/>
<text transform="translate(127.80 361.60) scale(0.95 1)" font-size="8.0" text-anchor="middle" fill="#333">150</text>
<path d="M164.5,351.8v-1.4M164.5,243v1.4" stroke="#262626" stroke-width="0.5"/>
<text transform="translate(164.50 361.60) scale(0.95 1)" font-size="8.0" text-anchor="middle" fill="#333">200</text>
<text x="10.2" y="297.5" font-size="8.6" fill="#262626" text-anchor="middle" transform="rotate(-90 10.2 297.5)"><tspan font-style="italic">C</tspan><tspan font-size="6.2" dy="2.4">yield</tspan><tspan dy="-2.4"> (10</tspan><tspan font-size="6.2" dy="-3.4">3</tspan><tspan dy="3.4"> ppm)</tspan></text>
<text x="99" y="374.3" font-size="8.6" fill="#262626" text-anchor="middle"><tspan font-style="italic">C</tspan><tspan font-size="6.2" dy="2.6">0</tspan><tspan dy="-2.6"> (10</tspan><tspan font-size="6.2" dy="-3.4">3</tspan><tspan dy="3.4"> ppm)</tspan></text>
<defs><linearGradient id="gd" x1="0" y1="1" x2="0" y2="0"><stop offset="0.0000" stop-color="#3e26a8"/><stop offset="0.0476" stop-color="#4332cb"/><stop offset="0.0952" stop-color="#4741e5"/><stop offset="0.1429" stop-color="#4852f4"/><stop offset="0.1905" stop-color="#4563fd"/><stop offset="0.2381" stop-color="#3875fe"/><stop offset="0.2857" stop-color="#2e87f7"/><stop offset="0.3333" stop-color="#2797eb"/><stop offset="0.3810" stop-color="#20a5e3"/><stop offset="0.4286" stop-color="#12b1d6"/><stop offset="0.4762" stop-color="#02bac3"/><stop offset="0.5238" stop-color="#24c1ae"/><stop offset="0.5714" stop-color="#37c897"/><stop offset="0.6190" stop-color="#57cc7a"/><stop offset="0.6667" stop-color="#81cc59"/><stop offset="0.7143" stop-color="#abc739"/><stop offset="0.7619" stop-color="#d1bf27"/><stop offset="0.8095" stop-color="#f0ba36"/><stop offset="0.8571" stop-color="#fec338"/><stop offset="0.9048" stop-color="#fad62d"/><stop offset="0.9524" stop-color="#f5e924"/><stop offset="1.0000" stop-color="#f9fb15"/><stop offset="1" stop-color="#f9fb15"/></linearGradient></defs>
<rect x="177.4" y="243.2" width="12.299999999999983" height="108.60000000000002" fill="url(#gd)" stroke="#7a7a7a" stroke-width="0.6"/>
<line x1="188.10" y1="351.80" x2="189.70" y2="351.80" stroke="#262626" stroke-width="0.5"/>
<text transform="translate(191.80 354.50) scale(0.95 1)" font-size="7.6" fill="#333">0.0</text>
<line x1="188.10" y1="324.65" x2="189.70" y2="324.65" stroke="#262626" stroke-width="0.5"/>
<text transform="translate(191.80 327.35) scale(0.95 1)" font-size="7.6" fill="#333">0.5</text>
<line x1="188.10" y1="297.50" x2="189.70" y2="297.50" stroke="#262626" stroke-width="0.5"/>
<text transform="translate(191.80 300.20) scale(0.95 1)" font-size="7.6" fill="#333">1.0</text>
<line x1="188.10" y1="270.35" x2="189.70" y2="270.35" stroke="#262626" stroke-width="0.5"/>
<text transform="translate(191.80 273.05) scale(0.95 1)" font-size="7.6" fill="#333">1.5</text>
<line x1="188.10" y1="243.20" x2="189.70" y2="243.20" stroke="#262626" stroke-width="0.5"/>
<text transform="translate(191.80 245.90) scale(0.95 1)" font-size="7.6" fill="#333">2.0</text>
<text x="176.1" y="240.2" font-size="6.9" fill="#111">× 10<tspan font-size="5" dy="-2.6">4</tspan></text>
<text x="215.3" y="293.2" font-size="9.3" fill="#000" text-anchor="middle" transform="rotate(-90 215.3 293.2)">SEC (kWh m<tspan font-size="6.4" dy="-3.2">−3</tspan><tspan dy="3.2">)</tspan></text>
<rect x="266.6" y="242.3" width="138.40" height="108.10" fill="none" stroke="#7a7a7a" stroke-width="0.7"/>
<path d="M266.6,327.1h1.4M405,327.1h-1.4" stroke="#262626" stroke-width="0.5"/>
<text transform="translate(263.00 329.93) scale(0.95 1)" font-size="8.0" text-anchor="end" fill="#333">50</text>
<path d="M266.6,297.1h1.4M405,297.1h-1.4" stroke="#262626" stroke-width="0.5"/>
<text transform="translate(263.00 299.86) scale(0.95 1)" font-size="8.0" text-anchor="end" fill="#333">100</text>
<path d="M266.6,267.0h1.4M405,267.0h-1.4" stroke="#262626" stroke-width="0.5"/>
<text transform="translate(263.00 269.79) scale(0.95 1)" font-size="8.0" text-anchor="end" fill="#333">150</text>
<path d="M297.0,350.4v-1.4M297.0,242.3v1.4" stroke="#262626" stroke-width="0.5"/>
<text transform="translate(297.00 360.20) scale(0.95 1)" font-size="8.0" text-anchor="middle" fill="#333">50</text>
<path d="M336.3,350.4v-1.4M336.3,242.3v1.4" stroke="#262626" stroke-width="0.5"/>
<text transform="translate(336.30 360.20) scale(0.95 1)" font-size="8.0" text-anchor="middle" fill="#333">100</text>
<path d="M375.4,350.4v-1.4M375.4,242.3v1.4" stroke="#262626" stroke-width="0.5"/>
<text transform="translate(375.40 360.20) scale(0.95 1)" font-size="8.0" text-anchor="middle" fill="#333">150</text>
<text x="243.2" y="298.2" font-size="8.6" fill="#262626" text-anchor="middle" transform="rotate(-90 243.2 298.2)"><tspan font-style="italic">C</tspan><tspan font-size="6.2" dy="2.4">yield</tspan><tspan dy="-2.4"> (10</tspan><tspan font-size="6.2" dy="-3.4">3</tspan><tspan dy="3.4"> ppm)</tspan></text>
<text x="341.5" y="373.3" font-size="8.6" fill="#262626" text-anchor="middle"><tspan font-style="italic">C</tspan><tspan font-size="6.2" dy="2.6">0</tspan><tspan dy="-2.6"> (10</tspan><tspan font-size="6.2" dy="-3.4">3</tspan><tspan dy="3.4"> ppm)</tspan></text>
<defs><linearGradient id="ge" x1="0" y1="1" x2="0" y2="0"><stop offset="0.0000" stop-color="#3e26a8"/><stop offset="0.0476" stop-color="#4332cb"/><stop offset="0.0952" stop-color="#4741e5"/><stop offset="0.1429" stop-color="#4852f4"/><stop offset="0.1905" stop-color="#4563fd"/><stop offset="0.2381" stop-color="#3875fe"/><stop offset="0.2857" stop-color="#2e87f7"/><stop offset="0.3333" stop-color="#2797eb"/><stop offset="0.3810" stop-color="#20a5e3"/><stop offset="0.4286" stop-color="#12b1d6"/><stop offset="0.4762" stop-color="#02bac3"/><stop offset="0.5238" stop-color="#24c1ae"/><stop offset="0.5714" stop-color="#37c897"/><stop offset="0.6190" stop-color="#57cc7a"/><stop offset="0.6667" stop-color="#81cc59"/><stop offset="0.7143" stop-color="#abc739"/><stop offset="0.7619" stop-color="#d1bf27"/><stop offset="0.8095" stop-color="#f0ba36"/><stop offset="0.8571" stop-color="#fec338"/><stop offset="0.9048" stop-color="#fad62d"/><stop offset="0.9524" stop-color="#f5e924"/><stop offset="1.0000" stop-color="#f9fb15"/><stop offset="1" stop-color="#f9fb15"/></linearGradient></defs>
<rect x="411.1" y="242.3" width="11.699999999999989" height="108.09999999999997" fill="url(#ge)" stroke="#7a7a7a" stroke-width="0.6"/>
<line x1="421.20" y1="350.40" x2="422.80" y2="350.40" stroke="#262626" stroke-width="0.5"/>
<text transform="translate(424.90 353.10) scale(0.95 1)" font-size="7.6" fill="#333">0.0</text>
<line x1="421.20" y1="323.38" x2="422.80" y2="323.38" stroke="#262626" stroke-width="0.5"/>
<text transform="translate(424.90 326.07) scale(0.95 1)" font-size="7.6" fill="#333">0.5</text>
<line x1="421.20" y1="296.35" x2="422.80" y2="296.35" stroke="#262626" stroke-width="0.5"/>
<text transform="translate(424.90 299.05) scale(0.95 1)" font-size="7.6" fill="#333">1.0</text>
<line x1="421.20" y1="269.32" x2="422.80" y2="269.32" stroke="#262626" stroke-width="0.5"/>
<text transform="translate(424.90 272.02) scale(0.95 1)" font-size="7.6" fill="#333">1.5</text>
<line x1="421.20" y1="242.30" x2="422.80" y2="242.30" stroke="#262626" stroke-width="0.5"/>
<text transform="translate(424.90 245.00) scale(0.95 1)" font-size="7.6" fill="#333">2.0</text>
<text x="409.8" y="239.3" font-size="6.9" fill="#111">× 10<tspan font-size="5" dy="-2.6">4</tspan></text>
<text x="447.8" y="293.2" font-size="9.3" fill="#000" text-anchor="middle" transform="rotate(-90 447.8 293.2)">SEC (kWh m<tspan font-size="6.4" dy="-3.2">−3</tspan><tspan dy="3.2">)</tspan></text>
<rect x="507.3" y="246.4" width="135.20" height="105.40" fill="none" stroke="#7a7a7a" stroke-width="0.7"/>
<path d="M507.3,343.7h1.4M642.5,343.7h-1.4" stroke="#262626" stroke-width="0.5"/>
<text transform="translate(503.70 346.46) scale(0.95 1)" font-size="8.0" text-anchor="end" fill="#333">100</text>
<path d="M507.3,328.9h1.4M642.5,328.9h-1.4" stroke="#262626" stroke-width="0.5"/>
<text transform="translate(503.70 331.72) scale(0.95 1)" font-size="8.0" text-anchor="end" fill="#333">200</text>
<path d="M507.3,314.2h1.4M642.5,314.2h-1.4" stroke="#262626" stroke-width="0.5"/>
<text transform="translate(503.70 316.98) scale(0.95 1)" font-size="8.0" text-anchor="end" fill="#333">300</text>
<path d="M507.3,299.4h1.4M642.5,299.4h-1.4" stroke="#262626" stroke-width="0.5"/>
<text transform="translate(503.70 302.24) scale(0.95 1)" font-size="8.0" text-anchor="end" fill="#333">400</text>
<path d="M507.3,284.7h1.4M642.5,284.7h-1.4" stroke="#262626" stroke-width="0.5"/>
<text transform="translate(503.70 287.50) scale(0.95 1)" font-size="8.0" text-anchor="end" fill="#333">500</text>
<path d="M507.3,270.0h1.4M642.5,270.0h-1.4" stroke="#262626" stroke-width="0.5"/>
<text transform="translate(503.70 272.76) scale(0.95 1)" font-size="8.0" text-anchor="end" fill="#333">600</text>
<path d="M507.3,255.2h1.4M642.5,255.2h-1.4" stroke="#262626" stroke-width="0.5"/>
<text transform="translate(503.70 258.02) scale(0.95 1)" font-size="8.0" text-anchor="end" fill="#333">700</text>
<path d="M513.6,351.8v-1.4M513.6,246.4v1.4" stroke="#262626" stroke-width="0.5"/>
<text transform="translate(513.60 361.60) scale(0.95 1)" font-size="8.0" text-anchor="middle" fill="#333">50</text>
<path d="M547.4,351.8v-1.4M547.4,246.4v1.4" stroke="#262626" stroke-width="0.5"/>
<text transform="translate(547.40 361.60) scale(0.95 1)" font-size="8.0" text-anchor="middle" fill="#333">100</text>
<path d="M581.2,351.8v-1.4M581.2,246.4v1.4" stroke="#262626" stroke-width="0.5"/>
<text transform="translate(581.20 361.60) scale(0.95 1)" font-size="8.0" text-anchor="middle" fill="#333">150</text>
<path d="M615.0,351.8v-1.4M615.0,246.4v1.4" stroke="#262626" stroke-width="0.5"/>
<text transform="translate(615.00 361.60) scale(0.95 1)" font-size="8.0" text-anchor="middle" fill="#333">200</text>
<text x="485.8" y="298.0" font-size="8.6" fill="#262626" text-anchor="middle" transform="rotate(-90 485.8 298.0)"><tspan font-style="italic">C</tspan><tspan font-size="6.2" dy="2.4">yield</tspan><tspan dy="-2.4"> (10</tspan><tspan font-size="6.2" dy="-3.4">3</tspan><tspan dy="3.4"> ppm)</tspan></text>
<text x="575" y="373.3" font-size="8.6" fill="#262626" text-anchor="middle"><tspan font-style="italic">C</tspan><tspan font-size="6.2" dy="2.6">0</tspan><tspan dy="-2.6"> (10</tspan><tspan font-size="6.2" dy="-3.4">3</tspan><tspan dy="3.4"> ppm)</tspan></text>
<defs><linearGradient id="gf" x1="0" y1="1" x2="0" y2="0"><stop offset="0.0000" stop-color="#3e26a8"/><stop offset="0.0476" stop-color="#4332cb"/><stop offset="0.0952" stop-color="#4741e5"/><stop offset="0.1429" stop-color="#4852f4"/><stop offset="0.1905" stop-color="#4563fd"/><stop offset="0.2381" stop-color="#3875fe"/><stop offset="0.2857" stop-color="#2e87f7"/><stop offset="0.3333" stop-color="#2797eb"/><stop offset="0.3810" stop-color="#20a5e3"/><stop offset="0.4286" stop-color="#12b1d6"/><stop offset="0.4762" stop-color="#02bac3"/><stop offset="0.5238" stop-color="#24c1ae"/><stop offset="0.5714" stop-color="#37c897"/><stop offset="0.6190" stop-color="#57cc7a"/><stop offset="0.6667" stop-color="#81cc59"/><stop offset="0.7143" stop-color="#abc739"/><stop offset="0.7619" stop-color="#d1bf27"/><stop offset="0.8095" stop-color="#f0ba36"/><stop offset="0.8571" stop-color="#fec338"/><stop offset="0.9048" stop-color="#fad62d"/><stop offset="0.9524" stop-color="#f5e924"/><stop offset="1.0000" stop-color="#f9fb15"/><stop offset="1" stop-color="#f9fb15"/></linearGradient></defs>
<rect x="648" y="246.5" width="11.700000000000045" height="105.30000000000001" fill="url(#gf)" stroke="#7a7a7a" stroke-width="0.6"/>
<line x1="658.10" y1="351.80" x2="659.70" y2="351.80" stroke="#262626" stroke-width="0.5"/>
<text transform="translate(661.80 354.50) scale(0.95 1)" font-size="7.6" fill="#333">0</text>
<line x1="658.10" y1="330.74" x2="659.70" y2="330.74" stroke="#262626" stroke-width="0.5"/>
<text transform="translate(661.80 333.44) scale(0.95 1)" font-size="7.6" fill="#333">1</text>
<line x1="658.10" y1="309.68" x2="659.70" y2="309.68" stroke="#262626" stroke-width="0.5"/>
<text transform="translate(661.80 312.38) scale(0.95 1)" font-size="7.6" fill="#333">2</text>
<line x1="658.10" y1="288.62" x2="659.70" y2="288.62" stroke="#262626" stroke-width="0.5"/>
<text transform="translate(661.80 291.32) scale(0.95 1)" font-size="7.6" fill="#333">3</text>
<line x1="658.10" y1="267.56" x2="659.70" y2="267.56" stroke="#262626" stroke-width="0.5"/>
<text transform="translate(661.80 270.26) scale(0.95 1)" font-size="7.6" fill="#333">4</text>
<line x1="658.10" y1="246.50" x2="659.70" y2="246.50" stroke="#262626" stroke-width="0.5"/>
<text transform="translate(661.80 249.20) scale(0.95 1)" font-size="7.6" fill="#333">5</text>
<text x="646.7" y="243.5" font-size="6.9" fill="#111">× 10<tspan font-size="5" dy="-2.6">3</tspan></text>
<text x="676.6" y="295" font-size="9.3" fill="#000" text-anchor="middle" transform="rotate(-90 676.6 295)">SEC (kWh m<tspan font-size="6.4" dy="-3.2">−3</tspan><tspan dy="3.2">)</tspan></text></svg></body></html>
